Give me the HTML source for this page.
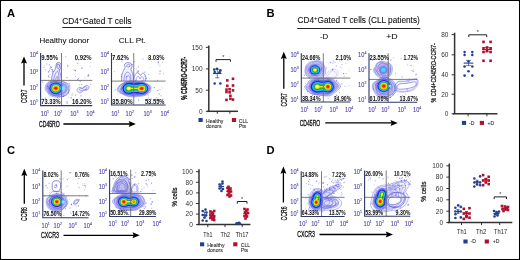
<!DOCTYPE html><html><head><meta charset="utf-8"><style>html,body{margin:0;padding:0;background:#fff;overflow:hidden;width:520px;height:260px;}svg{display:block;will-change:transform;}</style></head><body>
<svg width="520" height="260" viewBox="0 0 520 260" font-family='"Liberation Sans", sans-serif'>
<rect x="0" y="0" width="520" height="260" fill="#fff"/>
<text x="7.0" y="16.6" font-size="11.2" text-anchor="start" font-weight="bold" fill="#000">A</text>
<text x="266.6" y="17.0" font-size="11.2" text-anchor="start" font-weight="bold" fill="#000">B</text>
<text x="7.0" y="154.2" font-size="11.2" text-anchor="start" font-weight="bold" fill="#000">C</text>
<text x="266.6" y="154.2" font-size="11.2" text-anchor="start" font-weight="bold" fill="#000">D</text>
<text x="62.3" y="23.8" font-size="8.4" fill="#111" stroke="#111" stroke-width="0.1" textLength="69.2" lengthAdjust="spacingAndGlyphs">CD4<tspan dy="-3.2" font-size="6.2">+</tspan><tspan dy="3.2">Gated T cells</tspan></text>
<line x1="62.3" y1="27.5" x2="131.5" y2="27.5" stroke="#222" stroke-width="1"/>
<text x="297.5" y="23.3" font-size="8.4" fill="#111" stroke="#111" stroke-width="0.1" textLength="122.3" lengthAdjust="spacingAndGlyphs">CD4<tspan dy="-3.2" font-size="6.2">+</tspan><tspan dy="3.2">Gated T cells (CLL patients)</tspan></text>
<line x1="297.2" y1="28.5" x2="420.4" y2="28.5" stroke="#222" stroke-width="1"/>
<text x="39.4" y="43.3" font-size="7.6" text-anchor="start" font-weight="normal" fill="#111" textLength="49.8" lengthAdjust="spacingAndGlyphs" stroke="#111" stroke-width="0.08">Healthy donor</text>
<text x="118.7" y="43.3" font-size="7.6" text-anchor="start" font-weight="normal" fill="#111" textLength="27" lengthAdjust="spacingAndGlyphs" stroke="#111" stroke-width="0.08">CLL Pt.</text>
<text x="320.0" y="38.6" font-size="7.6" text-anchor="start" font-weight="normal" fill="#111" textLength="8.3" lengthAdjust="spacingAndGlyphs" stroke="#111" stroke-width="0.08">-D</text>
<text x="386.2" y="38.8" font-size="7.6" text-anchor="start" font-weight="normal" fill="#111" textLength="11.5" lengthAdjust="spacingAndGlyphs" stroke="#111" stroke-width="0.08">+D</text>
<line x1="24.0" y1="61.4" x2="24.0" y2="85.5" stroke="#000" stroke-width="1.3"/>
<path d="M24.0 56.4 L27.0 63.6 L24.0 62.4 L21.0 63.6 Z" fill="#000"/>
<text x="0" y="0" font-size="8.2" fill="#111" stroke="#111" stroke-width="0.3" text-anchor="middle" textLength="13.4" lengthAdjust="spacingAndGlyphs" transform="translate(26.95 96.3) rotate(-90)">CCR7</text>
<text x="39.0" y="126.6" font-size="8.4" fill="#111" stroke="#111" stroke-width="0.3" textLength="20.8" lengthAdjust="spacingAndGlyphs">CD45RO</text>
<line x1="63.4" y1="124.0" x2="130.9" y2="124.0" stroke="#000" stroke-width="1.3"/>
<path d="M135.9 124.0 L128.70000000000002 121.0 L129.9 124.0 L128.70000000000002 127.0 Z" fill="#000"/>
<line x1="283.8" y1="56.7" x2="283.8" y2="88.7" stroke="#000" stroke-width="1.3"/>
<path d="M283.8 51.7 L286.8 58.900000000000006 L283.8 57.7 L280.8 58.900000000000006 Z" fill="#000"/>
<text x="0" y="0" font-size="8.2" fill="#111" stroke="#111" stroke-width="0.3" text-anchor="middle" textLength="13.2" lengthAdjust="spacingAndGlyphs" transform="translate(286.75 99.9) rotate(-90)">CCR7</text>
<text x="299.7" y="125.60000000000001" font-size="8.4" fill="#111" stroke="#111" stroke-width="0.3" textLength="20.6" lengthAdjust="spacingAndGlyphs">CD45RO</text>
<line x1="325.3" y1="122.9" x2="392.7" y2="122.9" stroke="#000" stroke-width="1.3"/>
<path d="M397.7 122.9 L390.5 119.9 L391.7 122.9 L390.5 125.9 Z" fill="#000"/>
<line x1="24.3" y1="173.8" x2="24.3" y2="203.7" stroke="#000" stroke-width="1.3"/>
<path d="M24.3 168.8 L27.3 176.0 L24.3 174.8 L21.3 176.0 Z" fill="#000"/>
<text x="0" y="0" font-size="8.8" fill="#111" stroke="#111" stroke-width="0.3" text-anchor="middle" textLength="13.9" lengthAdjust="spacingAndGlyphs" transform="translate(27.47 214.05) rotate(-90)">CCR6</text>
<text x="41.0" y="238.0" font-size="8.7" fill="#111" stroke="#111" stroke-width="0.3" textLength="17.9" lengthAdjust="spacingAndGlyphs">CXCR3</text>
<line x1="63.5" y1="235.3" x2="134.7" y2="235.3" stroke="#000" stroke-width="1.3"/>
<path d="M139.7 235.3 L132.5 232.3 L133.7 235.3 L132.5 238.3 Z" fill="#000"/>
<line x1="283.4" y1="171.5" x2="283.4" y2="202.5" stroke="#000" stroke-width="1.3"/>
<path d="M283.4 166.5 L286.4 173.7 L283.4 172.5 L280.4 173.7 Z" fill="#000"/>
<text x="0" y="0" font-size="8.8" fill="#111" stroke="#111" stroke-width="0.3" text-anchor="middle" textLength="13.9" lengthAdjust="spacingAndGlyphs" transform="translate(286.57 213.45) rotate(-90)">CCR6</text>
<text x="297.2" y="237.0" font-size="8.7" fill="#111" stroke="#111" stroke-width="0.3" textLength="17.7" lengthAdjust="spacingAndGlyphs">CXCR3</text>
<line x1="319.5" y1="234.5" x2="388.0" y2="234.5" stroke="#000" stroke-width="1.3"/>
<path d="M393.0 234.5 L385.8 231.5 L387.0 234.5 L385.8 237.5 Z" fill="#000"/>
<rect x="48.6" y="96.5" width="0.8" height="0.8" fill="#5a5ae0" fill-opacity="0.43"/>
<rect x="66.3" y="77.0" width="1.2" height="1.2" fill="#5a5ae0" fill-opacity="0.49"/>
<rect x="52.3" y="78.9" width="1.0" height="1.0" fill="#5a5ae0" fill-opacity="0.52"/>
<rect x="79.4" y="55.1" width="1.0" height="1.0" fill="#5a5ae0" fill-opacity="0.43"/>
<rect x="81.3" y="84.0" width="0.8" height="0.8" fill="#5a5ae0" fill-opacity="0.75"/>
<rect x="43.5" y="56.2" width="1.2" height="1.2" fill="#5a5ae0" fill-opacity="0.30"/>
<rect x="85.2" y="88.6" width="1.0" height="1.0" fill="#5a5ae0" fill-opacity="0.66"/>
<rect x="67.9" y="92.4" width="1.0" height="1.0" fill="#5a5ae0" fill-opacity="0.58"/>
<rect x="58.9" y="88.2" width="1.0" height="1.0" fill="#5a5ae0" fill-opacity="0.78"/>
<rect x="87.4" y="75.4" width="1.2" height="1.2" fill="#5a5ae0" fill-opacity="0.76"/>
<rect x="46.9" y="85.8" width="1.2" height="1.2" fill="#5a5ae0" fill-opacity="0.73"/>
<rect x="47.9" y="71.3" width="1.2" height="1.2" fill="#5a5ae0" fill-opacity="0.79"/>
<rect x="66.5" y="102.4" width="1.2" height="1.2" fill="#5a5ae0" fill-opacity="0.72"/>
<rect x="74.8" y="69.9" width="1.2" height="1.2" fill="#5a5ae0" fill-opacity="0.79"/>
<rect x="66.5" y="101.1" width="1.0" height="1.0" fill="#5a5ae0" fill-opacity="0.59"/>
<rect x="43.7" y="66.9" width="1.0" height="1.0" fill="#5a5ae0" fill-opacity="0.51"/>
<rect x="50.5" y="81.9" width="1.2" height="1.2" fill="#5a5ae0" fill-opacity="0.69"/>
<rect x="78.2" y="59.2" width="1.2" height="1.2" fill="#5a5ae0" fill-opacity="0.55"/>
<rect x="80.1" y="80.5" width="1.0" height="1.0" fill="#5a5ae0" fill-opacity="0.49"/>
<rect x="77.9" y="78.0" width="1.0" height="1.0" fill="#5a5ae0" fill-opacity="0.65"/>
<rect x="90.2" y="84.1" width="1.0" height="1.0" fill="#5a5ae0" fill-opacity="0.62"/>
<rect x="50.3" y="66.1" width="0.8" height="0.8" fill="#5a5ae0" fill-opacity="0.69"/>
<rect x="68.4" y="97.2" width="0.8" height="0.8" fill="#5a5ae0" fill-opacity="0.50"/>
<rect x="58.8" y="96.5" width="1.0" height="1.0" fill="#5a5ae0" fill-opacity="0.53"/>
<rect x="55.2" y="81.9" width="1.2" height="1.2" fill="#5a5ae0" fill-opacity="0.30"/>
<rect x="80.4" y="95.2" width="1.2" height="1.2" fill="#5a5ae0" fill-opacity="0.56"/>
<rect x="48.3" y="93.1" width="0.8" height="0.8" fill="#5a5ae0" fill-opacity="0.51"/>
<rect x="44.8" y="97.6" width="1.2" height="1.2" fill="#5a5ae0" fill-opacity="0.58"/>
<rect x="88.1" y="75.3" width="1.0" height="1.0" fill="#5a5ae0" fill-opacity="0.51"/>
<rect x="42.1" y="81.5" width="1.2" height="1.2" fill="#5a5ae0" fill-opacity="0.47"/>
<rect x="71.4" y="94.4" width="1.2" height="1.2" fill="#5a5ae0" fill-opacity="0.39"/>
<rect x="70.6" y="97.2" width="1.2" height="1.2" fill="#5a5ae0" fill-opacity="0.70"/>
<rect x="82.0" y="67.5" width="1.2" height="1.2" fill="#5a5ae0" fill-opacity="0.34"/>
<rect x="84.5" y="77.2" width="1.0" height="1.0" fill="#5a5ae0" fill-opacity="0.42"/>
<rect x="47.4" y="85.6" width="1.0" height="1.0" fill="#5a5ae0" fill-opacity="0.45"/>
<rect x="50.2" y="67.5" width="0.8" height="0.8" fill="#5a5ae0" fill-opacity="0.63"/>
<rect x="73.8" y="69.4" width="1.2" height="1.2" fill="#5a5ae0" fill-opacity="0.46"/>
<rect x="65.2" y="56.2" width="1.0" height="1.0" fill="#5a5ae0" fill-opacity="0.47"/>
<rect x="81.0" y="67.7" width="1.0" height="1.0" fill="#5a5ae0" fill-opacity="0.75"/>
<rect x="67.0" y="65.2" width="1.2" height="1.2" fill="#5a5ae0" fill-opacity="0.52"/>
<rect x="89.8" y="66.0" width="1.0" height="1.0" fill="#5a5ae0" fill-opacity="0.37"/>
<rect x="77.2" y="62.9" width="1.2" height="1.2" fill="#5a5ae0" fill-opacity="0.55"/>
<rect x="62.9" y="95.8" width="1.2" height="1.2" fill="#5a5ae0" fill-opacity="0.70"/>
<rect x="67.3" y="65.9" width="1.2" height="1.2" fill="#5a5ae0" fill-opacity="0.32"/>
<rect x="75.1" y="94.4" width="1.2" height="1.2" fill="#5a5ae0" fill-opacity="0.62"/>
<rect x="44.9" y="69.6" width="0.8" height="0.8" fill="#5a5ae0" fill-opacity="0.74"/>
<rect x="57.0" y="97.1" width="1.0" height="1.0" fill="#5a5ae0" fill-opacity="0.76"/>
<rect x="56.6" y="62.8" width="1.2" height="1.2" fill="#5a5ae0" fill-opacity="0.43"/>
<rect x="42.4" y="98.1" width="0.8" height="0.8" fill="#5a5ae0" fill-opacity="0.60"/>
<rect x="52.7" y="99.1" width="1.0" height="1.0" fill="#5a5ae0" fill-opacity="0.39"/>
<rect x="84.5" y="102.7" width="1.2" height="1.2" fill="#5a5ae0" fill-opacity="0.61"/>
<rect x="43.8" y="64.8" width="0.8" height="0.8" fill="#5a5ae0" fill-opacity="0.40"/>
<rect x="75.0" y="76.2" width="0.8" height="0.8" fill="#5a5ae0" fill-opacity="0.55"/>
<rect x="88.0" y="74.1" width="1.2" height="1.2" fill="#5a5ae0" fill-opacity="0.55"/>
<rect x="57.9" y="97.7" width="1.0" height="1.0" fill="#5a5ae0" fill-opacity="0.31"/>
<rect x="51.8" y="71.1" width="1.2" height="1.2" fill="#5a5ae0" fill-opacity="0.69"/>
<rect x="58.6" y="65.4" width="1.2" height="1.2" fill="#5a5ae0" fill-opacity="0.35"/>
<rect x="60.6" y="81.8" width="1.2" height="1.2" fill="#5a5ae0" fill-opacity="0.57"/>
<rect x="79.6" y="81.1" width="0.8" height="0.8" fill="#5a5ae0" fill-opacity="0.66"/>
<rect x="46.1" y="63.3" width="1.2" height="1.2" fill="#5a5ae0" fill-opacity="0.41"/>
<rect x="79.2" y="84.4" width="1.0" height="1.0" fill="#5a5ae0" fill-opacity="0.48"/>
<rect x="58.7" y="69.3" width="1.2" height="1.2" fill="#5a5ae0" fill-opacity="0.69"/>
<rect x="77.0" y="79.0" width="1.2" height="1.2" fill="#5a5ae0" fill-opacity="0.58"/>
<rect x="47.1" y="56.9" width="0.8" height="0.8" fill="#5a5ae0" fill-opacity="0.49"/>
<rect x="90.6" y="62.2" width="0.8" height="0.8" fill="#5a5ae0" fill-opacity="0.47"/>
<rect x="72.1" y="93.3" width="1.0" height="1.0" fill="#5a5ae0" fill-opacity="0.34"/>
<rect x="69.0" y="82.7" width="1.0" height="1.0" fill="#5a5ae0" fill-opacity="0.48"/>
<rect x="56.5" y="81.2" width="0.8" height="0.8" fill="#5a5ae0" fill-opacity="0.53"/>
<rect x="55.6" y="93.6" width="1.0" height="1.0" fill="#5a5ae0" fill-opacity="0.31"/>
<rect x="74.9" y="59.5" width="0.8" height="0.8" fill="#5a5ae0" fill-opacity="0.71"/>
<path d="M69.90 88.50 C69.83 89.77 69.55 91.04 68.87 92.22 C68.19 93.41 67.26 94.84 65.82 95.60 C64.39 96.35 62.12 96.54 60.27 96.74 C58.41 96.94 56.49 97.05 54.71 96.80 C52.94 96.55 50.92 96.04 49.60 95.24 C48.28 94.44 47.58 93.13 46.81 92.00 C46.04 90.88 45.11 89.71 44.98 88.50 C44.84 87.29 45.28 85.89 46.00 84.74 C46.73 83.58 47.86 82.21 49.34 81.54 C50.82 80.88 53.09 80.93 54.90 80.75 C56.71 80.57 58.55 80.22 60.19 80.47 C61.84 80.73 63.26 81.60 64.78 82.29 C66.30 82.98 68.47 83.59 69.32 84.63 C70.17 85.66 69.98 87.23 69.90 88.50Z" fill="#a8a8ee" fill-opacity="0.3"/>
<path d="M69.87 88.38 C69.78 89.64 69.40 90.94 68.74 92.12 C68.08 93.31 67.35 94.72 65.93 95.50 C64.51 96.28 62.09 96.57 60.22 96.82 C58.35 97.06 56.50 97.24 54.73 96.97 C52.96 96.70 50.91 96.05 49.59 95.21 C48.28 94.36 47.59 93.01 46.85 91.89 C46.11 90.76 45.29 89.63 45.14 88.45 C44.99 87.27 45.28 85.95 45.96 84.81 C46.64 83.67 47.69 82.29 49.20 81.61 C50.72 80.92 53.18 80.87 55.04 80.69 C56.90 80.50 58.73 80.22 60.37 80.49 C62.02 80.75 63.41 81.60 64.89 82.28 C66.38 82.95 68.45 83.52 69.28 84.54 C70.11 85.55 69.96 87.12 69.87 88.38Z" fill="none" stroke="#4a4ae0" stroke-opacity="0.8" stroke-width="0.5"/>
<path d="M68.30 88.21 C68.34 89.36 68.88 90.74 68.34 91.93 C67.80 93.12 66.41 94.61 65.04 95.36 C63.67 96.12 61.83 96.41 60.13 96.48 C58.42 96.55 56.39 96.14 54.83 95.77 C53.26 95.41 51.86 94.96 50.73 94.30 C49.61 93.64 48.75 92.68 48.06 91.79 C47.37 90.90 46.73 90.15 46.59 88.95 C46.45 87.76 46.70 85.75 47.20 84.62 C47.70 83.48 48.23 82.75 49.60 82.15 C50.98 81.55 53.74 81.26 55.46 81.04 C57.17 80.81 58.47 80.57 59.88 80.79 C61.29 81.01 62.57 81.66 63.94 82.36 C65.31 83.06 67.36 84.03 68.09 85.01 C68.82 85.98 68.26 87.06 68.30 88.21Z" fill="#a8a8ee" fill-opacity="0.12" stroke="#4a4ae0" stroke-opacity="0.8" stroke-width="0.5"/>
<path d="M67.38 88.80 C67.31 89.74 66.93 90.37 66.39 91.28 C65.84 92.18 65.15 93.60 64.09 94.24 C63.03 94.88 61.48 94.87 60.04 95.12 C58.59 95.38 56.98 95.86 55.42 95.74 C53.85 95.62 51.75 95.09 50.66 94.40 C49.56 93.72 49.39 92.63 48.84 91.63 C48.29 90.64 47.54 89.52 47.34 88.42 C47.15 87.33 47.15 86.06 47.68 85.07 C48.20 84.08 49.27 83.02 50.49 82.49 C51.71 81.95 53.47 81.91 55.02 81.87 C56.57 81.82 58.32 81.89 59.78 82.20 C61.24 82.52 62.60 83.19 63.78 83.77 C64.95 84.34 66.22 84.82 66.82 85.66 C67.42 86.50 67.45 87.86 67.38 88.80Z" fill="#a8a8ee" fill-opacity="0.12" stroke="#4a4ae0" stroke-opacity="0.8" stroke-width="0.5"/>
<path d="M66.25 88.09 C66.20 89.06 66.12 90.44 65.60 91.32 C65.08 92.21 64.16 92.83 63.13 93.42 C62.10 94.01 60.72 94.68 59.43 94.86 C58.14 95.04 56.68 94.80 55.38 94.49 C54.07 94.19 52.49 93.53 51.61 93.03 C50.73 92.53 50.59 92.27 50.08 91.50 C49.58 90.73 48.76 89.40 48.59 88.42 C48.42 87.43 48.54 86.39 49.06 85.58 C49.58 84.78 50.65 83.99 51.71 83.59 C52.77 83.20 54.09 83.44 55.42 83.24 C56.75 83.03 58.41 82.23 59.70 82.38 C60.98 82.53 62.10 83.64 63.14 84.16 C64.17 84.68 65.37 84.84 65.89 85.49 C66.41 86.15 66.30 87.12 66.25 88.09Z" fill="#a8a8ee" fill-opacity="0.12" stroke="#4a4ae0" stroke-opacity="0.8" stroke-width="0.5"/>
<path d="M65.70 88.11 C65.61 88.92 65.25 90.55 64.73 91.37 C64.21 92.20 63.44 92.60 62.60 93.07 C61.76 93.54 60.79 94.04 59.69 94.18 C58.59 94.31 57.15 94.13 56.02 93.87 C54.88 93.61 53.71 93.13 52.89 92.60 C52.06 92.06 51.59 91.34 51.05 90.68 C50.51 90.02 49.84 89.37 49.66 88.64 C49.47 87.91 49.48 86.97 49.94 86.30 C50.39 85.62 51.38 85.03 52.40 84.56 C53.41 84.10 54.89 83.64 56.02 83.51 C57.14 83.38 58.12 83.58 59.12 83.78 C60.12 83.98 60.99 84.26 62.02 84.72 C63.05 85.17 64.66 85.95 65.27 86.51 C65.89 87.08 65.79 87.30 65.70 88.11Z" fill="#a8a8ee" fill-opacity="0.12" stroke="#4a4ae0" stroke-opacity="0.8" stroke-width="0.5"/>
<path d="M51.50 80.50 C51.58 79.75 51.75 77.33 52.00 76.00 C52.25 74.67 52.50 73.58 53.00 72.50 C53.50 71.42 54.50 70.58 55.00 69.50 C55.50 68.42 55.75 67.00 56.00 66.00 C56.25 65.00 56.13 64.10 56.50 63.50 C56.87 62.90 57.58 62.48 58.20 62.40 C58.82 62.32 59.70 62.53 60.20 63.00 C60.70 63.47 61.13 64.37 61.20 65.20 C61.27 66.03 60.87 67.03 60.60 68.00 C60.33 68.97 59.60 70.00 59.60 71.00 C59.60 72.00 60.33 72.92 60.60 74.00 C60.87 75.08 61.05 76.42 61.20 77.50 C61.35 78.58 61.45 80.00 61.50 80.50Z" fill="#a8a8ee" fill-opacity="0.22"/>
<path d="M51.50 80.50 C51.58 79.75 51.75 77.33 52.00 76.00 C52.25 74.67 52.50 73.58 53.00 72.50 C53.50 71.42 54.50 70.58 55.00 69.50 C55.50 68.42 55.75 67.00 56.00 66.00 C56.25 65.00 56.13 64.10 56.50 63.50 C56.87 62.90 57.58 62.48 58.20 62.40 C58.82 62.32 59.70 62.53 60.20 63.00 C60.70 63.47 61.13 64.37 61.20 65.20 C61.27 66.03 60.87 67.03 60.60 68.00 C60.33 68.97 59.60 70.00 59.60 71.00 C59.60 72.00 60.33 72.92 60.60 74.00 C60.87 75.08 61.05 76.42 61.20 77.50 C61.35 78.58 61.45 80.00 61.50 80.50" fill="none" stroke="#3a3ad0" stroke-opacity="0.9" stroke-width="0.6"/>
<path d="M53.80 80.50 C53.88 79.83 53.97 77.72 54.30 76.50 C54.63 75.28 55.27 74.08 55.80 73.20 C56.33 72.32 57.03 71.20 57.50 71.20 C57.97 71.20 58.37 72.23 58.60 73.20 C58.83 74.17 58.80 75.78 58.90 77.00 C59.00 78.22 59.15 79.92 59.20 80.50" fill="none" stroke="#3a3ad0" stroke-opacity="0.9" stroke-width="0.55"/>
<path d="M57.20 64.60 C57.50 64.53 58.60 63.88 59.00 64.20 C59.40 64.52 59.68 65.77 59.60 66.50 C59.52 67.23 58.93 68.43 58.50 68.60 C58.07 68.77 57.22 68.17 57.00 67.50 C56.78 66.83 57.17 65.08 57.20 64.60" fill="none" stroke="#3a3ad0" stroke-opacity="0.9" stroke-width="0.6"/>
<path d="M55.50 80.50 C55.63 80.00 56.00 78.20 56.30 77.50 C56.60 76.80 57.05 76.13 57.30 76.30 C57.55 76.47 57.72 77.80 57.80 78.50 C57.88 79.20 57.80 80.17 57.80 80.50" fill="none" stroke="#3a3ad0" stroke-opacity="0.9" stroke-width="0.5"/>
<rect x="50.6" y="66.9" width="1.2" height="1.2" fill="#5a5ae0" fill-opacity="0.76"/>
<rect x="49.7" y="74.0" width="0.8" height="0.8" fill="#5a5ae0" fill-opacity="0.60"/>
<rect x="53.3" y="71.3" width="0.8" height="0.8" fill="#5a5ae0" fill-opacity="0.46"/>
<rect x="49.5" y="67.8" width="0.8" height="0.8" fill="#5a5ae0" fill-opacity="0.34"/>
<rect x="52.2" y="69.5" width="1.0" height="1.0" fill="#5a5ae0" fill-opacity="0.69"/>
<rect x="47.9" y="75.9" width="1.0" height="1.0" fill="#5a5ae0" fill-opacity="0.40"/>
<rect x="49.4" y="68.6" width="0.8" height="0.8" fill="#5a5ae0" fill-opacity="0.63"/>
<rect x="51.0" y="68.9" width="1.0" height="1.0" fill="#5a5ae0" fill-opacity="0.50"/>
<rect x="49.0" y="70.3" width="1.0" height="1.0" fill="#5a5ae0" fill-opacity="0.67"/>
<rect x="49.3" y="77.1" width="0.8" height="0.8" fill="#5a5ae0" fill-opacity="0.57"/>
<rect x="48.8" y="64.3" width="1.2" height="1.2" fill="#5a5ae0" fill-opacity="0.48"/>
<rect x="48.1" y="76.3" width="0.8" height="0.8" fill="#5a5ae0" fill-opacity="0.52"/>
<rect x="48.2" y="75.5" width="1.0" height="1.0" fill="#5a5ae0" fill-opacity="0.64"/>
<rect x="51.8" y="69.4" width="1.2" height="1.2" fill="#5a5ae0" fill-opacity="0.58"/>
<path d="M77.00 90.50 C76.75 89.62 78.08 87.92 79.00 87.50 C79.92 87.08 81.33 88.33 82.50 88.00 C83.67 87.67 84.95 85.75 86.00 85.50 C87.05 85.25 88.55 85.75 88.80 86.50 C89.05 87.25 88.30 89.33 87.50 90.00 C86.70 90.67 85.17 90.03 84.00 90.50 C82.83 90.97 81.67 92.80 80.50 92.80 C79.33 92.80 77.25 91.38 77.00 90.50Z" fill="#a8a8ee" fill-opacity="0.15"/>
<path d="M76.88 90.57 C76.62 89.68 77.92 87.97 78.87 87.56 C79.82 87.14 81.35 88.46 82.56 88.10 C83.78 87.74 85.08 85.67 86.15 85.39 C87.21 85.12 88.73 85.70 88.94 86.44 C89.16 87.18 88.28 89.20 87.46 89.84 C86.64 90.49 85.19 89.80 84.01 90.30 C82.84 90.80 81.61 92.82 80.42 92.87 C79.23 92.91 77.14 91.45 76.88 90.57Z" fill="none" stroke="#4a4ae0" stroke-opacity="0.8" stroke-width="0.6"/>
<path d="M79.40 89.61 C79.37 89.09 80.24 88.11 80.74 87.94 C81.25 87.76 81.69 88.78 82.44 88.57 C83.19 88.36 84.51 86.85 85.25 86.66 C85.98 86.48 86.71 86.93 86.86 87.46 C87.00 88.00 86.59 89.52 86.11 89.88 C85.63 90.25 84.84 89.45 83.98 89.64 C83.12 89.84 81.71 91.05 80.95 91.04 C80.19 91.04 79.44 90.13 79.40 89.61Z" fill="none" stroke="#4a4ae0" stroke-opacity="0.8" stroke-width="0.6"/>
<ellipse cx="55.8" cy="88.3" rx="8.19" ry="7.54" fill="#3c3cd8" fill-opacity="0.3" transform="rotate(0 55.8 88.3)"/>
<ellipse cx="55.8" cy="88.3" rx="6.30" ry="5.80" fill="#2222ee" transform="rotate(0 55.8 88.3)"/>
<ellipse cx="55.8" cy="88.3" rx="5.29" ry="4.87" fill="#12c8ff" transform="rotate(0 55.8 88.3)"/>
<ellipse cx="55.8" cy="88.3" rx="4.41" ry="4.06" fill="#2aa83a" transform="rotate(0 55.8 88.3)"/>
<ellipse cx="55.8" cy="88.3" rx="3.53" ry="3.25" fill="#eaea10" transform="rotate(0 55.8 88.3)"/>
<ellipse cx="55.8" cy="88.3" rx="2.52" ry="2.32" fill="#ff8a00" transform="rotate(0 55.8 88.3)"/>
<ellipse cx="55.8" cy="88.3" rx="1.51" ry="1.39" fill="#ff1010" transform="rotate(0 55.8 88.3)"/>
<ellipse cx="63.2" cy="88.3" rx="2.3" ry="1.9" fill="#70e8ff"/>
<line x1="40.6" y1="80.4" x2="92.3" y2="80.4" stroke="#6e6e6e" stroke-width="0.9"/>
<line x1="61.5" y1="53.0" x2="61.5" y2="105.6" stroke="#6e6e6e" stroke-width="0.9"/>
<path d="M40.6 53.0 L40.6 105.6 L92.3 105.6" fill="none" stroke="#2d3a66" stroke-width="1.1"/>
<text x="38.0" y="56.800000000000004" font-size="6.6" fill="#4a3fa8" stroke="#4a3fa8" stroke-width="0.1" text-anchor="end" textLength="8.3" lengthAdjust="spacingAndGlyphs">10<tspan dy="-2.9" font-size="4.22">4</tspan></text>
<text x="38.0" y="74.4" font-size="6.6" fill="#4a3fa8" stroke="#4a3fa8" stroke-width="0.1" text-anchor="end" textLength="8.3" lengthAdjust="spacingAndGlyphs">10<tspan dy="-2.9" font-size="4.22">3</tspan></text>
<text x="38.0" y="90.2" font-size="6.6" fill="#4a3fa8" stroke="#4a3fa8" stroke-width="0.1" text-anchor="end" textLength="8.3" lengthAdjust="spacingAndGlyphs">10<tspan dy="-2.9" font-size="4.22">2</tspan></text>
<text x="38.0" y="104.60000000000001" font-size="6.6" fill="#4a3fa8" stroke="#4a3fa8" stroke-width="0.1" text-anchor="end" textLength="8.3" lengthAdjust="spacingAndGlyphs">10<tspan dy="-2.9" font-size="4.22">1</tspan></text>
<text x="40.8" y="115.89999999999999" font-size="6.6" fill="#4a3fa8" stroke="#4a3fa8" stroke-width="0.1" text-anchor="start" textLength="8.3" lengthAdjust="spacingAndGlyphs">10<tspan dy="-2.9" font-size="4.22">1</tspan></text>
<text x="54.0" y="115.89999999999999" font-size="6.6" fill="#4a3fa8" stroke="#4a3fa8" stroke-width="0.1" text-anchor="start" textLength="8.3" lengthAdjust="spacingAndGlyphs">10<tspan dy="-2.9" font-size="4.22">2</tspan></text>
<text x="70.2" y="115.89999999999999" font-size="6.6" fill="#4a3fa8" stroke="#4a3fa8" stroke-width="0.1" text-anchor="start" textLength="8.3" lengthAdjust="spacingAndGlyphs">10<tspan dy="-2.9" font-size="4.22">3</tspan></text>
<text x="86.3" y="115.89999999999999" font-size="6.6" fill="#4a3fa8" stroke="#4a3fa8" stroke-width="0.1" text-anchor="start" textLength="8.3" lengthAdjust="spacingAndGlyphs">10<tspan dy="-2.9" font-size="4.22">4</tspan></text>
<text x="41.2" y="60.0" font-size="7.0" text-anchor="start" font-weight="bold" fill="#111" textLength="16.8" lengthAdjust="spacingAndGlyphs">9.55%</text>
<text x="91.5" y="60.0" font-size="7.0" text-anchor="end" font-weight="bold" fill="#111" textLength="16.8" lengthAdjust="spacingAndGlyphs">0.92%</text>
<text x="41.2" y="104.1" font-size="7.0" text-anchor="start" font-weight="bold" fill="#111" textLength="19.5" lengthAdjust="spacingAndGlyphs">73.33%</text>
<text x="91.5" y="104.1" font-size="7.0" text-anchor="end" font-weight="bold" fill="#111" textLength="19.5" lengthAdjust="spacingAndGlyphs">16.20%</text>
<rect x="161.8" y="100.5" width="0.8" height="0.8" fill="#5a5ae0" fill-opacity="0.35"/>
<rect x="131.4" y="63.9" width="1.2" height="1.2" fill="#5a5ae0" fill-opacity="0.73"/>
<rect x="125.8" y="66.0" width="0.8" height="0.8" fill="#5a5ae0" fill-opacity="0.59"/>
<rect x="121.1" y="76.2" width="1.0" height="1.0" fill="#5a5ae0" fill-opacity="0.70"/>
<rect x="156.9" y="79.9" width="1.0" height="1.0" fill="#5a5ae0" fill-opacity="0.57"/>
<rect x="135.7" y="68.6" width="0.8" height="0.8" fill="#5a5ae0" fill-opacity="0.74"/>
<rect x="131.6" y="99.8" width="1.0" height="1.0" fill="#5a5ae0" fill-opacity="0.51"/>
<rect x="158.1" y="63.7" width="0.8" height="0.8" fill="#5a5ae0" fill-opacity="0.42"/>
<rect x="114.2" y="71.3" width="0.8" height="0.8" fill="#5a5ae0" fill-opacity="0.56"/>
<rect x="131.3" y="80.1" width="1.2" height="1.2" fill="#5a5ae0" fill-opacity="0.39"/>
<rect x="158.6" y="93.4" width="1.2" height="1.2" fill="#5a5ae0" fill-opacity="0.56"/>
<rect x="159.3" y="73.1" width="1.2" height="1.2" fill="#5a5ae0" fill-opacity="0.48"/>
<rect x="163.0" y="101.2" width="0.8" height="0.8" fill="#5a5ae0" fill-opacity="0.78"/>
<rect x="133.4" y="90.7" width="1.2" height="1.2" fill="#5a5ae0" fill-opacity="0.57"/>
<rect x="138.0" y="99.5" width="1.2" height="1.2" fill="#5a5ae0" fill-opacity="0.56"/>
<rect x="153.6" y="87.1" width="1.0" height="1.0" fill="#5a5ae0" fill-opacity="0.75"/>
<rect x="136.5" y="82.7" width="1.2" height="1.2" fill="#5a5ae0" fill-opacity="0.66"/>
<rect x="137.8" y="66.4" width="1.0" height="1.0" fill="#5a5ae0" fill-opacity="0.71"/>
<rect x="155.6" y="97.2" width="1.2" height="1.2" fill="#5a5ae0" fill-opacity="0.43"/>
<rect x="159.5" y="70.5" width="1.2" height="1.2" fill="#5a5ae0" fill-opacity="0.72"/>
<rect x="141.7" y="79.8" width="1.2" height="1.2" fill="#5a5ae0" fill-opacity="0.59"/>
<rect x="128.9" y="65.8" width="1.2" height="1.2" fill="#5a5ae0" fill-opacity="0.48"/>
<rect x="147.9" y="97.5" width="1.0" height="1.0" fill="#5a5ae0" fill-opacity="0.66"/>
<rect x="159.3" y="65.0" width="1.2" height="1.2" fill="#5a5ae0" fill-opacity="0.35"/>
<rect x="142.3" y="58.3" width="1.2" height="1.2" fill="#5a5ae0" fill-opacity="0.41"/>
<rect x="157.7" y="61.0" width="1.2" height="1.2" fill="#5a5ae0" fill-opacity="0.37"/>
<rect x="126.6" y="94.8" width="0.8" height="0.8" fill="#5a5ae0" fill-opacity="0.51"/>
<rect x="149.6" y="57.5" width="1.0" height="1.0" fill="#5a5ae0" fill-opacity="0.48"/>
<rect x="125.7" y="57.1" width="0.8" height="0.8" fill="#5a5ae0" fill-opacity="0.78"/>
<rect x="114.3" y="90.3" width="0.8" height="0.8" fill="#5a5ae0" fill-opacity="0.49"/>
<rect x="119.5" y="100.0" width="1.2" height="1.2" fill="#5a5ae0" fill-opacity="0.39"/>
<rect x="148.3" y="74.1" width="0.8" height="0.8" fill="#5a5ae0" fill-opacity="0.70"/>
<rect x="125.6" y="101.6" width="0.8" height="0.8" fill="#5a5ae0" fill-opacity="0.47"/>
<rect x="144.4" y="90.9" width="0.8" height="0.8" fill="#5a5ae0" fill-opacity="0.44"/>
<rect x="137.9" y="70.5" width="1.2" height="1.2" fill="#5a5ae0" fill-opacity="0.68"/>
<rect x="150.7" y="98.4" width="1.0" height="1.0" fill="#5a5ae0" fill-opacity="0.73"/>
<rect x="149.0" y="78.2" width="0.8" height="0.8" fill="#5a5ae0" fill-opacity="0.35"/>
<rect x="148.1" y="95.4" width="0.8" height="0.8" fill="#5a5ae0" fill-opacity="0.52"/>
<rect x="157.6" y="62.0" width="1.2" height="1.2" fill="#5a5ae0" fill-opacity="0.69"/>
<rect x="137.8" y="71.4" width="1.0" height="1.0" fill="#5a5ae0" fill-opacity="0.43"/>
<rect x="143.9" y="75.7" width="0.8" height="0.8" fill="#5a5ae0" fill-opacity="0.65"/>
<rect x="161.9" y="87.5" width="1.0" height="1.0" fill="#5a5ae0" fill-opacity="0.32"/>
<rect x="121.2" y="60.5" width="1.2" height="1.2" fill="#5a5ae0" fill-opacity="0.42"/>
<rect x="159.7" y="89.3" width="0.8" height="0.8" fill="#5a5ae0" fill-opacity="0.80"/>
<rect x="124.9" y="76.9" width="1.0" height="1.0" fill="#5a5ae0" fill-opacity="0.34"/>
<rect x="124.6" y="93.2" width="1.2" height="1.2" fill="#5a5ae0" fill-opacity="0.65"/>
<rect x="126.1" y="75.9" width="1.2" height="1.2" fill="#5a5ae0" fill-opacity="0.68"/>
<rect x="120.7" y="74.1" width="0.8" height="0.8" fill="#5a5ae0" fill-opacity="0.36"/>
<rect x="149.9" y="67.3" width="0.8" height="0.8" fill="#5a5ae0" fill-opacity="0.31"/>
<rect x="151.3" y="60.9" width="0.8" height="0.8" fill="#5a5ae0" fill-opacity="0.56"/>
<rect x="136.7" y="70.6" width="1.2" height="1.2" fill="#5a5ae0" fill-opacity="0.49"/>
<rect x="147.9" y="91.7" width="0.8" height="0.8" fill="#5a5ae0" fill-opacity="0.66"/>
<rect x="135.1" y="80.0" width="1.2" height="1.2" fill="#5a5ae0" fill-opacity="0.60"/>
<rect x="158.0" y="99.7" width="1.2" height="1.2" fill="#5a5ae0" fill-opacity="0.39"/>
<rect x="117.8" y="93.7" width="1.0" height="1.0" fill="#5a5ae0" fill-opacity="0.31"/>
<rect x="162.0" y="61.6" width="1.0" height="1.0" fill="#5a5ae0" fill-opacity="0.44"/>
<rect x="163.2" y="73.5" width="0.8" height="0.8" fill="#5a5ae0" fill-opacity="0.74"/>
<rect x="134.0" y="60.9" width="0.8" height="0.8" fill="#5a5ae0" fill-opacity="0.72"/>
<rect x="147.3" y="56.7" width="1.0" height="1.0" fill="#5a5ae0" fill-opacity="0.33"/>
<rect x="145.5" y="77.8" width="1.2" height="1.2" fill="#5a5ae0" fill-opacity="0.61"/>
<rect x="113.3" y="57.1" width="1.0" height="1.0" fill="#5a5ae0" fill-opacity="0.77"/>
<rect x="116.9" y="91.5" width="0.8" height="0.8" fill="#5a5ae0" fill-opacity="0.36"/>
<rect x="132.0" y="89.6" width="0.8" height="0.8" fill="#5a5ae0" fill-opacity="0.68"/>
<rect x="133.1" y="61.7" width="0.8" height="0.8" fill="#5a5ae0" fill-opacity="0.36"/>
<rect x="144.4" y="71.7" width="1.0" height="1.0" fill="#5a5ae0" fill-opacity="0.78"/>
<rect x="148.3" y="57.2" width="1.2" height="1.2" fill="#5a5ae0" fill-opacity="0.54"/>
<rect x="115.2" y="89.2" width="1.0" height="1.0" fill="#5a5ae0" fill-opacity="0.48"/>
<rect x="136.3" y="93.5" width="1.0" height="1.0" fill="#5a5ae0" fill-opacity="0.54"/>
<rect x="157.2" y="89.8" width="1.2" height="1.2" fill="#5a5ae0" fill-opacity="0.70"/>
<rect x="160.5" y="95.3" width="1.0" height="1.0" fill="#5a5ae0" fill-opacity="0.50"/>
<path d="M150.95 89.00 C150.87 90.08 150.79 91.21 150.03 92.20 C149.27 93.18 147.98 94.24 146.40 94.91 C144.82 95.59 142.53 95.95 140.54 96.25 C138.56 96.55 136.54 96.68 134.50 96.72 C132.46 96.75 130.17 96.81 128.28 96.46 C126.39 96.12 124.75 95.34 123.15 94.64 C121.55 93.94 119.61 93.20 118.69 92.25 C117.77 91.31 117.56 90.07 117.62 89.00 C117.69 87.93 118.22 86.80 119.07 85.82 C119.93 84.85 121.25 83.92 122.75 83.16 C124.25 82.40 126.11 81.61 128.06 81.28 C130.02 80.94 132.38 81.12 134.50 81.15 C136.62 81.18 138.90 81.10 140.77 81.48 C142.63 81.86 144.07 82.73 145.69 83.44 C147.31 84.14 149.61 84.78 150.49 85.71 C151.36 86.64 151.03 87.92 150.95 89.00Z" fill="#a8a8ee" fill-opacity="0.3"/>
<path d="M150.87 89.03 C150.83 90.08 150.97 91.18 150.22 92.16 C149.46 93.15 147.93 94.25 146.35 94.94 C144.77 95.62 142.71 95.97 140.72 96.29 C138.73 96.60 136.46 96.77 134.42 96.82 C132.38 96.87 130.36 96.96 128.48 96.58 C126.59 96.19 124.74 95.26 123.11 94.51 C121.47 93.76 119.61 93.03 118.67 92.11 C117.73 91.18 117.39 90.01 117.47 88.98 C117.56 87.94 118.34 86.84 119.21 85.90 C120.08 84.97 121.26 84.13 122.72 83.34 C124.17 82.56 125.99 81.54 127.94 81.18 C129.88 80.82 132.24 81.14 134.41 81.18 C136.57 81.22 139.02 81.03 140.92 81.43 C142.83 81.84 144.23 82.87 145.83 83.61 C147.42 84.35 149.64 84.96 150.48 85.87 C151.32 86.77 150.92 87.98 150.87 89.03Z" fill="none" stroke="#4a4ae0" stroke-opacity="0.8" stroke-width="0.5"/>
<path d="M150.02 88.97 C149.93 89.92 149.26 90.61 148.46 91.51 C147.65 92.42 146.67 93.73 145.19 94.40 C143.70 95.06 141.36 95.24 139.57 95.50 C137.79 95.75 136.25 95.86 134.49 95.93 C132.73 96.01 130.74 96.20 129.01 95.93 C127.28 95.66 125.58 94.99 124.09 94.32 C122.59 93.65 120.94 92.78 120.03 91.91 C119.13 91.03 118.67 90.13 118.64 89.09 C118.61 88.04 119.03 86.57 119.85 85.61 C120.67 84.66 122.03 84.03 123.53 83.36 C125.03 82.68 127.01 81.78 128.83 81.55 C130.65 81.32 132.54 81.83 134.44 81.97 C136.33 82.11 138.52 82.12 140.18 82.38 C141.85 82.65 142.95 82.98 144.41 83.55 C145.88 84.13 148.05 84.93 148.98 85.83 C149.92 86.74 150.11 88.03 150.02 88.97Z" fill="#a8a8ee" fill-opacity="0.12" stroke="#4a4ae0" stroke-opacity="0.8" stroke-width="0.5"/>
<path d="M148.37 88.69 C148.40 89.66 148.22 90.95 147.60 91.88 C146.98 92.81 146.05 93.71 144.64 94.28 C143.24 94.84 140.81 95.01 139.15 95.26 C137.50 95.52 136.43 95.87 134.72 95.80 C133.01 95.73 130.50 95.17 128.92 94.85 C127.34 94.53 126.56 94.34 125.22 93.88 C123.88 93.42 121.66 92.89 120.88 92.10 C120.10 91.30 120.38 90.05 120.53 89.11 C120.69 88.17 121.14 87.35 121.79 86.44 C122.45 85.53 123.28 84.28 124.47 83.64 C125.66 83.01 127.31 82.89 128.93 82.63 C130.55 82.37 132.44 82.07 134.18 82.08 C135.92 82.09 137.67 82.26 139.37 82.67 C141.07 83.09 143.02 83.98 144.36 84.55 C145.71 85.12 146.77 85.42 147.44 86.11 C148.10 86.80 148.34 87.73 148.37 88.69Z" fill="#a8a8ee" fill-opacity="0.12" stroke="#4a4ae0" stroke-opacity="0.8" stroke-width="0.5"/>
<path d="M147.18 88.59 C147.11 89.44 147.21 90.29 146.59 91.16 C145.98 92.02 144.67 93.29 143.48 93.78 C142.29 94.27 140.90 93.84 139.46 94.08 C138.01 94.33 136.37 95.09 134.81 95.23 C133.25 95.38 131.62 95.29 130.10 94.94 C128.59 94.58 127.09 93.69 125.74 93.09 C124.39 92.50 122.73 92.10 122.02 91.36 C121.31 90.62 121.27 89.38 121.47 88.65 C121.66 87.92 122.48 87.68 123.21 86.96 C123.94 86.24 124.87 85.00 125.87 84.35 C126.88 83.70 127.86 83.30 129.22 83.05 C130.59 82.81 132.37 82.87 134.06 82.88 C135.75 82.89 137.90 82.81 139.36 83.09 C140.82 83.38 141.57 84.10 142.83 84.59 C144.10 85.08 146.25 85.36 146.97 86.03 C147.70 86.69 147.24 87.73 147.18 88.59Z" fill="#a8a8ee" fill-opacity="0.12" stroke="#4a4ae0" stroke-opacity="0.8" stroke-width="0.5"/>
<path d="M145.99 89.10 C145.95 89.79 145.75 90.64 145.10 91.36 C144.45 92.07 143.22 92.96 142.10 93.37 C140.98 93.78 139.65 93.61 138.39 93.82 C137.12 94.03 135.90 94.59 134.50 94.64 C133.10 94.68 131.20 94.44 129.99 94.09 C128.78 93.74 128.28 93.07 127.26 92.54 C126.25 92.00 124.58 91.47 123.89 90.87 C123.19 90.26 123.05 89.68 123.08 88.92 C123.11 88.17 123.54 86.94 124.06 86.36 C124.58 85.77 125.25 85.89 126.20 85.42 C127.16 84.95 128.33 83.87 129.79 83.54 C131.26 83.20 133.47 83.36 134.98 83.41 C136.49 83.45 137.73 83.48 138.83 83.81 C139.94 84.13 140.52 84.79 141.61 85.35 C142.69 85.91 144.63 86.56 145.36 87.19 C146.09 87.81 146.03 88.40 145.99 89.10Z" fill="#a8a8ee" fill-opacity="0.12" stroke="#4a4ae0" stroke-opacity="0.8" stroke-width="0.5"/>
<path d="M121.50 81.00 C121.55 80.00 121.47 76.75 121.80 75.00 C122.13 73.25 122.97 71.75 123.50 70.50 C124.03 69.25 124.83 68.50 125.00 67.50 C125.17 66.50 124.08 65.32 124.50 64.50 C124.92 63.68 126.42 62.77 127.50 62.60 C128.58 62.43 130.25 62.85 131.00 63.50 C131.75 64.15 132.00 65.50 132.00 66.50 C132.00 67.50 130.92 68.42 131.00 69.50 C131.08 70.58 132.13 71.75 132.50 73.00 C132.87 74.25 133.08 75.67 133.20 77.00 C133.32 78.33 133.20 80.33 133.20 81.00" fill="none" stroke="#3a3ad0" stroke-opacity="0.9" stroke-width="0.6"/>
<path d="M123.80 81.00 C123.92 80.17 124.05 77.42 124.50 76.00 C124.95 74.58 125.83 73.08 126.50 72.50 C127.17 71.92 127.83 72.08 128.50 72.50 C129.17 72.92 130.08 73.58 130.50 75.00 C130.92 76.42 130.92 80.00 131.00 81.00" fill="none" stroke="#3a3ad0" stroke-opacity="0.9" stroke-width="0.55"/>
<path d="M126.00 81.00 C126.13 80.33 126.38 77.92 126.80 77.00 C127.22 76.08 128.00 75.33 128.50 75.50 C129.00 75.67 129.55 77.08 129.80 78.00 C130.05 78.92 129.97 80.50 130.00 81.00" fill="none" stroke="#3a3ad0" stroke-opacity="0.9" stroke-width="0.5"/>
<path d="M126.50 65.50 C126.80 65.30 127.68 64.30 128.30 64.30 C128.92 64.30 130.17 65.05 130.20 65.50 C130.23 65.95 129.12 67.00 128.50 67.00 C127.88 67.00 126.83 65.75 126.50 65.50" fill="none" stroke="#3a3ad0" stroke-opacity="0.9" stroke-width="0.55"/>
<path d="M121.5 81 L121.8 75 L123.5 70.5 L125 67.5 L124.5 64.5 L127.5 62.6 L131 63.5 L132 66.5 L131 69.5 L132.5 73 L133.2 77 L133.2 81Z" fill="#a8a8ee" fill-opacity="0.2"/>
<path d="M133.60 81.00 C133.72 80.25 133.82 77.83 134.30 76.50 C134.78 75.17 135.72 73.50 136.50 73.00 C137.28 72.50 138.33 73.08 139.00 73.50 C139.67 73.92 139.95 75.55 140.50 75.50 C141.05 75.45 141.63 73.45 142.30 73.20 C142.97 72.95 143.92 73.37 144.50 74.00 C145.08 74.63 145.62 75.83 145.80 77.00 C145.98 78.17 145.63 80.33 145.60 81.00" fill="none" stroke="#3a3ad0" stroke-opacity="0.9" stroke-width="0.6"/>
<path d="M136.00 81.00 C136.08 80.50 136.08 78.80 136.50 78.00 C136.92 77.20 137.92 76.03 138.50 76.20 C139.08 76.37 139.55 78.87 140.00 79.00 C140.45 79.13 140.65 77.25 141.20 77.00 C141.75 76.75 142.83 76.83 143.30 77.50 C143.77 78.17 143.88 80.42 144.00 81.00" fill="none" stroke="#3a3ad0" stroke-opacity="0.9" stroke-width="0.5"/>
<line x1="128.8" y1="88.4" x2="141.6" y2="88.4" stroke="#3c3cd8" stroke-opacity="0.3" stroke-width="12.40" stroke-linecap="round"/>
<ellipse cx="128.8" cy="88.4" rx="8.19" ry="6.89" fill="#3c3cd8" fill-opacity="0.3" transform="rotate(0 128.8 88.4)"/>
<ellipse cx="141.6" cy="88.4" rx="8.58" ry="6.89" fill="#3c3cd8" fill-opacity="0.3" transform="rotate(0 141.6 88.4)"/>
<line x1="128.8" y1="88.4" x2="141.6" y2="88.4" stroke="#2222ee" stroke-width="10.07" stroke-linecap="round"/>
<ellipse cx="128.8" cy="88.4" rx="6.30" ry="5.30" fill="#2222ee" transform="rotate(0 128.8 88.4)"/>
<ellipse cx="141.6" cy="88.4" rx="6.60" ry="5.30" fill="#2222ee" transform="rotate(0 141.6 88.4)"/>
<line x1="128.8" y1="88.4" x2="141.6" y2="88.4" stroke="#12c8ff" stroke-width="7.21" stroke-linecap="round"/>
<ellipse cx="128.8" cy="88.4" rx="5.04" ry="4.24" fill="#12c8ff" transform="rotate(0 128.8 88.4)"/>
<ellipse cx="141.6" cy="88.4" rx="5.54" ry="4.45" fill="#12c8ff" transform="rotate(0 141.6 88.4)"/>
<line x1="128.8" y1="88.4" x2="141.6" y2="88.4" stroke="#2aa83a" stroke-width="3.82" stroke-linecap="round"/>
<ellipse cx="128.8" cy="88.4" rx="3.78" ry="3.18" fill="#2aa83a" transform="rotate(0 128.8 88.4)"/>
<ellipse cx="141.6" cy="88.4" rx="4.62" ry="3.71" fill="#2aa83a" transform="rotate(0 141.6 88.4)"/>
<line x1="128.8" y1="88.4" x2="141.6" y2="88.4" stroke="#eaea10" stroke-width="1.41" stroke-linecap="round"/>
<ellipse cx="128.8" cy="88.4" rx="2.39" ry="2.01" fill="#eaea10" transform="rotate(0 128.8 88.4)"/>
<ellipse cx="141.6" cy="88.4" rx="3.70" ry="2.97" fill="#eaea10" transform="rotate(0 141.6 88.4)"/>
<ellipse cx="141.6" cy="88.4" rx="2.64" ry="2.12" fill="#ff8a00" transform="rotate(0 141.6 88.4)"/>
<ellipse cx="141.6" cy="88.4" rx="1.58" ry="1.27" fill="#ff1010" transform="rotate(0 141.6 88.4)"/>
<ellipse cx="128.8" cy="88.4" rx="1.3" ry="1.10" fill="#ffffb0"/>
<line x1="111.5" y1="81.1" x2="165.6" y2="81.1" stroke="#6e6e6e" stroke-width="0.9"/>
<line x1="133.75" y1="53.0" x2="133.75" y2="105.0" stroke="#6e6e6e" stroke-width="0.9"/>
<path d="M111.5 53.0 L111.5 105.0 L165.6 105.0" fill="none" stroke="#2d3a66" stroke-width="1.1"/>
<text x="108.9" y="56.800000000000004" font-size="6.6" fill="#4a3fa8" stroke="#4a3fa8" stroke-width="0.1" text-anchor="end" textLength="8.3" lengthAdjust="spacingAndGlyphs">10<tspan dy="-2.9" font-size="4.22">4</tspan></text>
<text x="108.9" y="74.0" font-size="6.6" fill="#4a3fa8" stroke="#4a3fa8" stroke-width="0.1" text-anchor="end" textLength="8.3" lengthAdjust="spacingAndGlyphs">10<tspan dy="-2.9" font-size="4.22">3</tspan></text>
<text x="108.9" y="90.2" font-size="6.6" fill="#4a3fa8" stroke="#4a3fa8" stroke-width="0.1" text-anchor="end" textLength="8.3" lengthAdjust="spacingAndGlyphs">10<tspan dy="-2.9" font-size="4.22">2</tspan></text>
<text x="108.9" y="103.8" font-size="6.6" fill="#4a3fa8" stroke="#4a3fa8" stroke-width="0.1" text-anchor="end" textLength="8.3" lengthAdjust="spacingAndGlyphs">10<tspan dy="-2.9" font-size="4.22">1</tspan></text>
<text x="111.2" y="115.5" font-size="6.6" fill="#4a3fa8" stroke="#4a3fa8" stroke-width="0.1" text-anchor="start" textLength="8.3" lengthAdjust="spacingAndGlyphs">10<tspan dy="-2.9" font-size="4.22">1</tspan></text>
<text x="125.6" y="115.5" font-size="6.6" fill="#4a3fa8" stroke="#4a3fa8" stroke-width="0.1" text-anchor="start" textLength="8.3" lengthAdjust="spacingAndGlyphs">10<tspan dy="-2.9" font-size="4.22">2</tspan></text>
<text x="143.4" y="115.5" font-size="6.6" fill="#4a3fa8" stroke="#4a3fa8" stroke-width="0.1" text-anchor="start" textLength="8.3" lengthAdjust="spacingAndGlyphs">10<tspan dy="-2.9" font-size="4.22">3</tspan></text>
<text x="160.6" y="115.5" font-size="6.6" fill="#4a3fa8" stroke="#4a3fa8" stroke-width="0.1" text-anchor="start" textLength="8.3" lengthAdjust="spacingAndGlyphs">10<tspan dy="-2.9" font-size="4.22">4</tspan></text>
<text x="112.1" y="60.1" font-size="7.0" text-anchor="start" font-weight="bold" fill="#111" textLength="16.8" lengthAdjust="spacingAndGlyphs">7.62%</text>
<text x="164.5" y="60.1" font-size="7.0" text-anchor="end" font-weight="bold" fill="#111" textLength="16.6" lengthAdjust="spacingAndGlyphs">3.03%</text>
<text x="112.1" y="104.0" font-size="7.0" text-anchor="start" font-weight="bold" fill="#111" textLength="20.7" lengthAdjust="spacingAndGlyphs">35.80%</text>
<text x="164.5" y="104.0" font-size="7.0" text-anchor="end" font-weight="bold" fill="#111" textLength="19.6" lengthAdjust="spacingAndGlyphs">53.55%</text>
<rect x="313.9" y="79.9" width="1.0" height="1.0" fill="#5a5ae0" fill-opacity="0.76"/>
<rect x="324.8" y="81.6" width="1.2" height="1.2" fill="#5a5ae0" fill-opacity="0.31"/>
<rect x="341.5" y="67.4" width="0.8" height="0.8" fill="#5a5ae0" fill-opacity="0.40"/>
<rect x="336.0" y="79.8" width="1.2" height="1.2" fill="#5a5ae0" fill-opacity="0.54"/>
<rect x="332.4" y="62.6" width="1.2" height="1.2" fill="#5a5ae0" fill-opacity="0.38"/>
<rect x="345.6" y="73.2" width="0.8" height="0.8" fill="#5a5ae0" fill-opacity="0.64"/>
<rect x="305.9" y="89.4" width="1.2" height="1.2" fill="#5a5ae0" fill-opacity="0.32"/>
<rect x="338.9" y="92.2" width="1.0" height="1.0" fill="#5a5ae0" fill-opacity="0.54"/>
<rect x="336.1" y="94.7" width="1.2" height="1.2" fill="#5a5ae0" fill-opacity="0.69"/>
<rect x="322.6" y="88.0" width="1.2" height="1.2" fill="#5a5ae0" fill-opacity="0.52"/>
<rect x="346.0" y="94.7" width="0.8" height="0.8" fill="#5a5ae0" fill-opacity="0.32"/>
<rect x="325.8" y="67.4" width="1.2" height="1.2" fill="#5a5ae0" fill-opacity="0.52"/>
<rect x="331.8" y="69.2" width="1.2" height="1.2" fill="#5a5ae0" fill-opacity="0.72"/>
<rect x="329.4" y="79.5" width="1.0" height="1.0" fill="#5a5ae0" fill-opacity="0.59"/>
<rect x="344.6" y="86.0" width="0.8" height="0.8" fill="#5a5ae0" fill-opacity="0.73"/>
<rect x="348.6" y="85.5" width="0.8" height="0.8" fill="#5a5ae0" fill-opacity="0.65"/>
<rect x="318.0" y="79.8" width="1.2" height="1.2" fill="#5a5ae0" fill-opacity="0.58"/>
<rect x="335.8" y="65.3" width="1.2" height="1.2" fill="#5a5ae0" fill-opacity="0.43"/>
<rect x="308.7" y="77.2" width="1.2" height="1.2" fill="#5a5ae0" fill-opacity="0.79"/>
<rect x="307.1" y="91.2" width="1.0" height="1.0" fill="#5a5ae0" fill-opacity="0.75"/>
<rect x="303.9" y="74.8" width="1.0" height="1.0" fill="#5a5ae0" fill-opacity="0.74"/>
<rect x="305.0" y="83.0" width="0.8" height="0.8" fill="#5a5ae0" fill-opacity="0.49"/>
<rect x="330.0" y="80.2" width="1.0" height="1.0" fill="#5a5ae0" fill-opacity="0.55"/>
<rect x="348.9" y="69.6" width="0.8" height="0.8" fill="#5a5ae0" fill-opacity="0.35"/>
<rect x="327.6" y="97.8" width="1.0" height="1.0" fill="#5a5ae0" fill-opacity="0.45"/>
<rect x="315.1" y="86.3" width="1.0" height="1.0" fill="#5a5ae0" fill-opacity="0.46"/>
<rect x="347.1" y="95.5" width="1.0" height="1.0" fill="#5a5ae0" fill-opacity="0.49"/>
<rect x="343.0" y="73.0" width="1.2" height="1.2" fill="#5a5ae0" fill-opacity="0.64"/>
<rect x="307.7" y="98.8" width="1.2" height="1.2" fill="#5a5ae0" fill-opacity="0.44"/>
<rect x="332.2" y="87.5" width="1.0" height="1.0" fill="#5a5ae0" fill-opacity="0.52"/>
<rect x="314.9" y="69.3" width="1.0" height="1.0" fill="#5a5ae0" fill-opacity="0.31"/>
<rect x="322.1" y="81.5" width="0.8" height="0.8" fill="#5a5ae0" fill-opacity="0.49"/>
<rect x="330.1" y="61.9" width="1.2" height="1.2" fill="#5a5ae0" fill-opacity="0.61"/>
<rect x="324.4" y="85.9" width="1.0" height="1.0" fill="#5a5ae0" fill-opacity="0.60"/>
<rect x="315.8" y="77.5" width="1.2" height="1.2" fill="#5a5ae0" fill-opacity="0.33"/>
<rect x="334.1" y="98.4" width="1.0" height="1.0" fill="#5a5ae0" fill-opacity="0.61"/>
<rect x="316.7" y="82.5" width="0.8" height="0.8" fill="#5a5ae0" fill-opacity="0.48"/>
<rect x="317.4" y="72.2" width="1.2" height="1.2" fill="#5a5ae0" fill-opacity="0.43"/>
<rect x="339.2" y="60.6" width="0.8" height="0.8" fill="#5a5ae0" fill-opacity="0.79"/>
<rect x="334.5" y="61.8" width="1.2" height="1.2" fill="#5a5ae0" fill-opacity="0.41"/>
<rect x="340.0" y="66.5" width="0.8" height="0.8" fill="#5a5ae0" fill-opacity="0.64"/>
<rect x="332.9" y="60.3" width="1.2" height="1.2" fill="#5a5ae0" fill-opacity="0.46"/>
<rect x="318.4" y="92.7" width="1.0" height="1.0" fill="#5a5ae0" fill-opacity="0.70"/>
<rect x="347.2" y="59.5" width="1.2" height="1.2" fill="#5a5ae0" fill-opacity="0.63"/>
<rect x="343.7" y="75.8" width="0.8" height="0.8" fill="#5a5ae0" fill-opacity="0.69"/>
<rect x="304.6" y="98.1" width="1.0" height="1.0" fill="#5a5ae0" fill-opacity="0.70"/>
<rect x="341.6" y="64.1" width="1.0" height="1.0" fill="#5a5ae0" fill-opacity="0.47"/>
<rect x="341.1" y="59.8" width="1.2" height="1.2" fill="#5a5ae0" fill-opacity="0.47"/>
<rect x="309.0" y="68.8" width="1.0" height="1.0" fill="#5a5ae0" fill-opacity="0.53"/>
<rect x="332.2" y="68.8" width="1.2" height="1.2" fill="#5a5ae0" fill-opacity="0.50"/>
<rect x="345.3" y="62.9" width="0.8" height="0.8" fill="#5a5ae0" fill-opacity="0.54"/>
<rect x="341.3" y="83.4" width="1.2" height="1.2" fill="#5a5ae0" fill-opacity="0.52"/>
<rect x="346.7" y="96.8" width="0.8" height="0.8" fill="#5a5ae0" fill-opacity="0.32"/>
<rect x="324.0" y="89.1" width="1.2" height="1.2" fill="#5a5ae0" fill-opacity="0.56"/>
<rect x="316.3" y="71.0" width="0.8" height="0.8" fill="#5a5ae0" fill-opacity="0.73"/>
<rect x="342.5" y="98.7" width="0.8" height="0.8" fill="#5a5ae0" fill-opacity="0.71"/>
<rect x="305.1" y="95.8" width="1.2" height="1.2" fill="#5a5ae0" fill-opacity="0.56"/>
<rect x="312.1" y="94.9" width="1.0" height="1.0" fill="#5a5ae0" fill-opacity="0.59"/>
<rect x="303.6" y="88.8" width="0.8" height="0.8" fill="#5a5ae0" fill-opacity="0.55"/>
<rect x="314.0" y="56.9" width="1.2" height="1.2" fill="#5a5ae0" fill-opacity="0.51"/>
<path d="M325.30 69.50 C325.49 70.84 325.83 72.51 325.32 73.78 C324.81 75.05 323.47 76.30 322.22 77.13 C320.97 77.95 319.31 78.54 317.83 78.72 C316.34 78.91 314.84 78.46 313.30 78.24 C311.75 78.01 309.88 78.09 308.57 77.36 C307.26 76.64 306.06 75.19 305.46 73.88 C304.86 72.57 304.88 70.92 304.97 69.50 C305.07 68.08 305.31 66.55 306.03 65.37 C306.75 64.20 308.07 63.17 309.30 62.46 C310.53 61.76 311.98 61.49 313.40 61.16 C314.81 60.83 316.32 60.35 317.78 60.48 C319.24 60.61 321.10 61.07 322.16 61.95 C323.22 62.82 323.62 64.47 324.15 65.73 C324.67 66.99 325.10 68.16 325.30 69.50Z" fill="#a8a8ee" fill-opacity="0.3"/>
<path d="M325.49 69.33 C325.69 70.65 325.92 72.39 325.35 73.71 C324.79 75.04 323.36 76.46 322.08 77.29 C320.79 78.13 319.14 78.56 317.66 78.72 C316.18 78.89 314.72 78.47 313.19 78.26 C311.65 78.06 309.75 78.26 308.45 77.50 C307.16 76.75 305.99 75.11 305.43 73.76 C304.87 72.40 304.98 70.77 305.09 69.35 C305.21 67.94 305.40 66.44 306.13 65.27 C306.85 64.11 308.21 63.04 309.44 62.37 C310.66 61.69 312.07 61.52 313.46 61.23 C314.85 60.94 316.32 60.52 317.78 60.63 C319.23 60.73 321.11 60.98 322.18 61.84 C323.24 62.70 323.60 64.56 324.16 65.81 C324.71 67.06 325.29 68.01 325.49 69.33Z" fill="none" stroke="#4a4ae0" stroke-opacity="0.8" stroke-width="0.5"/>
<path d="M324.03 69.54 C324.06 70.76 324.10 71.95 323.70 73.03 C323.31 74.12 322.75 75.25 321.67 76.07 C320.59 76.88 318.66 77.82 317.23 77.93 C315.79 78.04 314.46 77.05 313.08 76.75 C311.70 76.44 310.10 76.72 308.95 76.13 C307.81 75.53 306.70 74.19 306.20 73.16 C305.71 72.13 305.88 71.14 305.99 69.94 C306.11 68.74 306.27 67.03 306.91 65.97 C307.55 64.90 308.77 64.21 309.83 63.55 C310.88 62.90 312.03 62.38 313.25 62.02 C314.47 61.66 315.83 61.25 317.13 61.38 C318.44 61.52 320.04 62.10 321.11 62.82 C322.18 63.55 323.05 64.61 323.54 65.73 C324.03 66.85 324.00 68.33 324.03 69.54Z" fill="#a8a8ee" fill-opacity="0.12" stroke="#4a4ae0" stroke-opacity="0.8" stroke-width="0.5"/>
<path d="M322.66 69.65 C322.82 70.59 323.64 71.75 323.28 72.67 C322.91 73.59 321.47 74.50 320.45 75.15 C319.42 75.81 318.18 76.50 317.12 76.59 C316.06 76.68 315.29 75.92 314.08 75.70 C312.88 75.47 310.91 75.67 309.89 75.24 C308.87 74.81 308.44 74.16 307.97 73.12 C307.49 72.09 307.06 70.17 307.05 69.04 C307.04 67.91 307.24 67.07 307.90 66.34 C308.55 65.61 309.98 65.20 310.96 64.66 C311.93 64.13 312.64 63.41 313.75 63.12 C314.85 62.84 316.39 62.88 317.58 62.95 C318.78 63.02 320.16 62.89 320.94 63.56 C321.72 64.23 321.98 65.97 322.26 66.98 C322.55 68.00 322.49 68.70 322.66 69.65Z" fill="#a8a8ee" fill-opacity="0.12" stroke="#4a4ae0" stroke-opacity="0.8" stroke-width="0.5"/>
<path d="M321.51 69.30 C321.65 70.18 322.50 71.23 322.18 72.02 C321.86 72.81 320.41 73.45 319.60 74.04 C318.79 74.64 318.30 75.41 317.33 75.58 C316.37 75.76 314.86 75.34 313.80 75.09 C312.74 74.85 311.73 74.63 310.98 74.11 C310.23 73.58 309.68 72.65 309.28 71.94 C308.89 71.22 308.63 70.59 308.62 69.80 C308.60 69.00 308.64 67.94 309.19 67.18 C309.74 66.43 311.09 65.68 311.90 65.26 C312.71 64.84 313.24 64.81 314.05 64.65 C314.85 64.49 315.78 64.26 316.75 64.28 C317.71 64.30 319.06 64.35 319.83 64.76 C320.61 65.17 321.09 66.00 321.37 66.75 C321.65 67.51 321.38 68.42 321.51 69.30Z" fill="#a8a8ee" fill-opacity="0.12" stroke="#4a4ae0" stroke-opacity="0.8" stroke-width="0.5"/>
<path d="M326.00 77.00 C325.33 75.67 327.67 72.33 329.00 71.00 C330.33 69.67 332.50 68.83 334.00 69.00 C335.50 69.17 337.50 70.67 338.00 72.00 C338.50 73.33 337.83 75.83 337.00 77.00 C336.17 78.17 334.83 79.00 333.00 79.00 C331.17 79.00 326.67 78.33 326.00 77.00Z" fill="#a8a8ee" fill-opacity="0.1"/>
<path d="M325.91 77.11 C325.21 75.78 327.48 72.52 328.83 71.17 C330.17 69.82 332.42 68.89 333.98 69.00 C335.54 69.11 337.73 70.50 338.20 71.83 C338.67 73.17 337.67 75.81 336.81 77.03 C335.95 78.24 334.87 79.13 333.05 79.14 C331.24 79.16 326.62 78.44 325.91 77.11Z" fill="none" stroke="#4a4ae0" stroke-opacity="0.5" stroke-width="0.35"/>
<path d="M327.74 76.53 C327.31 75.54 329.40 72.98 330.31 72.03 C331.21 71.08 332.19 70.72 333.17 70.85 C334.15 70.98 335.66 72.02 336.17 72.82 C336.68 73.62 336.79 74.80 336.24 75.66 C335.70 76.52 334.30 77.84 332.88 77.99 C331.46 78.13 328.17 77.53 327.74 76.53Z" fill="none" stroke="#4a4ae0" stroke-opacity="0.5" stroke-width="0.35"/>
<path d="M340.43 87.00 C340.19 88.15 338.63 89.30 337.53 90.30 C336.43 91.30 335.19 92.08 333.83 93.00 C332.48 93.92 331.28 95.37 329.39 95.81 C327.51 96.26 324.68 95.81 322.50 95.66 C320.32 95.51 318.33 95.30 316.29 94.94 C314.25 94.57 311.80 94.24 310.26 93.48 C308.73 92.72 308.01 91.46 307.08 90.38 C306.16 89.30 304.67 88.12 304.71 87.00 C304.74 85.88 306.45 84.79 307.30 83.67 C308.15 82.55 308.34 81.09 309.82 80.29 C311.29 79.48 314.02 79.26 316.14 78.87 C318.25 78.47 320.30 77.99 322.50 77.89 C324.70 77.79 327.29 77.82 329.34 78.25 C331.39 78.69 333.18 79.64 334.79 80.49 C336.40 81.35 338.06 82.30 339.00 83.38 C339.95 84.46 340.68 85.85 340.43 87.00Z" fill="#a8a8ee" fill-opacity="0.3"/>
<path d="M340.35 87.14 C340.12 88.30 338.71 89.38 337.66 90.37 C336.60 91.36 335.44 92.15 334.03 93.08 C332.63 94.01 331.14 95.53 329.24 95.95 C327.33 96.37 324.79 95.80 322.60 95.61 C320.42 95.43 318.18 95.22 316.13 94.84 C314.07 94.47 311.75 94.15 310.27 93.38 C308.80 92.61 308.22 91.33 307.28 90.24 C306.34 89.16 304.60 87.92 304.61 86.85 C304.63 85.78 306.55 84.90 307.40 83.80 C308.25 82.70 308.23 81.06 309.72 80.24 C311.20 79.43 314.18 79.26 316.29 78.90 C318.40 78.55 320.19 78.21 322.39 78.09 C324.58 77.97 327.39 77.78 329.45 78.18 C331.51 78.58 333.17 79.63 334.77 80.49 C336.37 81.36 338.13 82.26 339.06 83.36 C339.99 84.47 340.58 85.97 340.35 87.14Z" fill="none" stroke="#4a4ae0" stroke-opacity="0.8" stroke-width="0.5"/>
<path d="M338.65 86.82 C338.44 87.83 336.89 89.06 335.96 90.03 C335.02 90.99 334.30 91.76 333.05 92.61 C331.79 93.47 330.13 94.75 328.42 95.16 C326.71 95.56 324.75 95.13 322.79 95.03 C320.82 94.94 318.57 94.88 316.63 94.58 C314.69 94.28 312.61 94.06 311.14 93.25 C309.68 92.43 308.68 90.80 307.83 89.69 C306.99 88.58 306.03 87.46 306.09 86.58 C306.16 85.69 307.38 85.35 308.22 84.36 C309.05 83.36 309.77 81.38 311.11 80.61 C312.45 79.84 314.33 80.13 316.26 79.74 C318.20 79.35 320.61 78.39 322.71 78.28 C324.81 78.18 327.07 78.70 328.86 79.09 C330.64 79.48 332.01 79.80 333.40 80.62 C334.79 81.44 336.34 82.97 337.21 84.00 C338.09 85.03 338.86 85.82 338.65 86.82Z" fill="#a8a8ee" fill-opacity="0.12" stroke="#4a4ae0" stroke-opacity="0.8" stroke-width="0.5"/>
<path d="M337.37 86.82 C337.01 87.80 335.61 89.03 334.68 89.90 C333.74 90.78 332.87 91.34 331.78 92.07 C330.69 92.79 329.77 93.90 328.15 94.23 C326.53 94.57 323.79 94.11 322.05 94.08 C320.31 94.06 319.27 94.31 317.71 94.09 C316.14 93.88 313.95 93.47 312.64 92.78 C311.34 92.09 310.70 90.88 309.87 89.95 C309.04 89.02 307.61 88.15 307.67 87.20 C307.72 86.26 309.49 85.23 310.20 84.29 C310.91 83.35 310.69 82.26 311.91 81.57 C313.13 80.89 315.82 80.54 317.51 80.18 C319.19 79.83 320.26 79.59 322.03 79.44 C323.80 79.28 326.38 78.91 328.10 79.27 C329.83 79.62 330.92 80.76 332.38 81.55 C333.83 82.34 336.00 83.12 336.83 84.00 C337.66 84.88 337.73 85.84 337.37 86.82Z" fill="#a8a8ee" fill-opacity="0.12" stroke="#4a4ae0" stroke-opacity="0.8" stroke-width="0.5"/>
<path d="M336.48 86.65 C336.24 87.64 334.62 89.08 333.76 89.94 C332.90 90.79 332.35 91.11 331.32 91.76 C330.28 92.41 329.04 93.59 327.55 93.84 C326.06 94.09 324.04 93.45 322.36 93.26 C320.67 93.06 319.04 92.93 317.45 92.68 C315.86 92.44 313.85 92.31 312.80 91.79 C311.76 91.28 311.82 90.37 311.17 89.59 C310.51 88.81 308.83 88.02 308.86 87.12 C308.90 86.22 310.65 85.00 311.38 84.20 C312.12 83.41 312.27 83.00 313.29 82.35 C314.32 81.71 315.96 80.67 317.53 80.36 C319.10 80.04 321.02 80.51 322.69 80.47 C324.37 80.44 326.10 79.95 327.58 80.14 C329.06 80.34 330.32 81.01 331.59 81.66 C332.86 82.30 334.41 83.18 335.22 84.01 C336.04 84.85 336.72 85.66 336.48 86.65Z" fill="#a8a8ee" fill-opacity="0.12" stroke="#4a4ae0" stroke-opacity="0.8" stroke-width="0.5"/>
<path d="M335.15 86.88 C334.94 87.61 333.11 88.74 332.37 89.38 C331.63 90.01 331.49 90.05 330.71 90.68 C329.93 91.30 329.00 92.68 327.68 93.12 C326.36 93.56 324.34 93.42 322.79 93.30 C321.23 93.18 319.84 92.74 318.34 92.40 C316.85 92.06 314.88 91.85 313.84 91.29 C312.80 90.72 312.67 89.77 312.09 89.03 C311.51 88.29 310.28 87.60 310.35 86.85 C310.42 86.10 311.86 85.33 312.52 84.55 C313.18 83.76 313.32 82.65 314.29 82.13 C315.26 81.61 317.00 81.62 318.34 81.44 C319.68 81.26 320.77 81.18 322.32 81.05 C323.87 80.92 326.18 80.47 327.66 80.65 C329.14 80.82 330.20 81.39 331.19 82.11 C332.17 82.83 332.94 84.17 333.60 84.96 C334.26 85.76 335.35 86.14 335.15 86.88Z" fill="#a8a8ee" fill-opacity="0.12" stroke="#4a4ae0" stroke-opacity="0.8" stroke-width="0.5"/>
<ellipse cx="315.0" cy="69.9" rx="7.02" ry="5.98" fill="#3c3cd8" fill-opacity="0.3" transform="rotate(0 315.0 69.9)"/>
<ellipse cx="315.0" cy="69.9" rx="5.40" ry="4.60" fill="#2222ee" transform="rotate(0 315.0 69.9)"/>
<ellipse cx="315.0" cy="69.9" rx="4.32" ry="3.68" fill="#12c8ff" transform="rotate(0 315.0 69.9)"/>
<ellipse cx="315.0" cy="69.9" rx="3.24" ry="2.76" fill="#2aa83a" transform="rotate(0 315.0 69.9)"/>
<ellipse cx="315.0" cy="69.9" rx="2.05" ry="1.75" fill="#eaea10" transform="rotate(0 315.0 69.9)"/>
<ellipse cx="315.0" cy="69.9" rx="0.9" ry="0.77" fill="#ffffb0"/>
<line x1="317.3" y1="86.7" x2="327.9" y2="86.7" stroke="#3c3cd8" stroke-opacity="0.3" stroke-width="13.10" stroke-linecap="round"/>
<ellipse cx="317.3" cy="86.7" rx="8.58" ry="7.54" fill="#3c3cd8" fill-opacity="0.3" transform="rotate(0 317.3 86.7)"/>
<ellipse cx="327.9" cy="86.7" rx="7.54" ry="7.28" fill="#3c3cd8" fill-opacity="0.3" transform="rotate(0 327.9 86.7)"/>
<line x1="317.3" y1="86.7" x2="327.9" y2="86.7" stroke="#2222ee" stroke-width="10.64" stroke-linecap="round"/>
<ellipse cx="317.3" cy="86.7" rx="6.60" ry="5.80" fill="#2222ee" transform="rotate(0 317.3 86.7)"/>
<ellipse cx="327.9" cy="86.7" rx="5.80" ry="5.60" fill="#2222ee" transform="rotate(0 327.9 86.7)"/>
<line x1="317.3" y1="86.7" x2="327.9" y2="86.7" stroke="#12c8ff" stroke-width="7.89" stroke-linecap="round"/>
<ellipse cx="317.3" cy="86.7" rx="5.28" ry="4.64" fill="#12c8ff" transform="rotate(0 317.3 86.7)"/>
<ellipse cx="327.9" cy="86.7" rx="4.87" ry="4.70" fill="#12c8ff" transform="rotate(0 327.9 86.7)"/>
<line x1="317.3" y1="86.7" x2="327.9" y2="86.7" stroke="#2aa83a" stroke-width="4.18" stroke-linecap="round"/>
<ellipse cx="317.3" cy="86.7" rx="3.96" ry="3.48" fill="#2aa83a" transform="rotate(0 317.3 86.7)"/>
<ellipse cx="327.9" cy="86.7" rx="4.06" ry="3.92" fill="#2aa83a" transform="rotate(0 327.9 86.7)"/>
<line x1="317.3" y1="86.7" x2="327.9" y2="86.7" stroke="#eaea10" stroke-width="1.54" stroke-linecap="round"/>
<ellipse cx="317.3" cy="86.7" rx="2.51" ry="2.20" fill="#eaea10" transform="rotate(0 317.3 86.7)"/>
<ellipse cx="327.9" cy="86.7" rx="3.25" ry="3.14" fill="#eaea10" transform="rotate(0 327.9 86.7)"/>
<ellipse cx="327.9" cy="86.7" rx="2.32" ry="2.24" fill="#ff8a00" transform="rotate(0 327.9 86.7)"/>
<ellipse cx="327.9" cy="86.7" rx="1.39" ry="1.34" fill="#ff1010" transform="rotate(0 327.9 86.7)"/>
<ellipse cx="317.3" cy="86.7" rx="1.3" ry="1.10" fill="#ffffb0"/>
<line x1="301.3" y1="78.1" x2="350.3" y2="78.1" stroke="#6e6e6e" stroke-width="0.9"/>
<line x1="323.3" y1="53.3" x2="323.3" y2="102.0" stroke="#6e6e6e" stroke-width="0.9"/>
<path d="M301.3 53.3 L301.3 102.0 L350.3 102.0" fill="none" stroke="#2d3a66" stroke-width="1.1"/>
<text x="298.7" y="56.800000000000004" font-size="6.6" fill="#4a3fa8" stroke="#4a3fa8" stroke-width="0.1" text-anchor="end" textLength="8.3" lengthAdjust="spacingAndGlyphs">10<tspan dy="-2.9" font-size="4.22">4</tspan></text>
<text x="298.7" y="71.9" font-size="6.6" fill="#4a3fa8" stroke="#4a3fa8" stroke-width="0.1" text-anchor="end" textLength="8.3" lengthAdjust="spacingAndGlyphs">10<tspan dy="-2.9" font-size="4.22">3</tspan></text>
<text x="298.7" y="87.3" font-size="6.6" fill="#4a3fa8" stroke="#4a3fa8" stroke-width="0.1" text-anchor="end" textLength="8.3" lengthAdjust="spacingAndGlyphs">10<tspan dy="-2.9" font-size="4.22">2</tspan></text>
<text x="298.7" y="101.5" font-size="6.6" fill="#4a3fa8" stroke="#4a3fa8" stroke-width="0.1" text-anchor="end" textLength="8.3" lengthAdjust="spacingAndGlyphs">10<tspan dy="-2.9" font-size="4.22">1</tspan></text>
<text x="300.5" y="111.8" font-size="6.6" fill="#4a3fa8" stroke="#4a3fa8" stroke-width="0.1" text-anchor="start" textLength="8.3" lengthAdjust="spacingAndGlyphs">10<tspan dy="-2.9" font-size="4.22">1</tspan></text>
<text x="314.3" y="111.8" font-size="6.6" fill="#4a3fa8" stroke="#4a3fa8" stroke-width="0.1" text-anchor="start" textLength="8.3" lengthAdjust="spacingAndGlyphs">10<tspan dy="-2.9" font-size="4.22">2</tspan></text>
<text x="329.5" y="111.8" font-size="6.6" fill="#4a3fa8" stroke="#4a3fa8" stroke-width="0.1" text-anchor="start" textLength="8.3" lengthAdjust="spacingAndGlyphs">10<tspan dy="-2.9" font-size="4.22">3</tspan></text>
<text x="345.0" y="111.8" font-size="6.6" fill="#4a3fa8" stroke="#4a3fa8" stroke-width="0.1" text-anchor="start" textLength="8.3" lengthAdjust="spacingAndGlyphs">10<tspan dy="-2.9" font-size="4.22">4</tspan></text>
<text x="301.90000000000003" y="59.599999999999994" font-size="6.5" text-anchor="start" font-weight="bold" fill="#111" textLength="18.5" lengthAdjust="spacingAndGlyphs">24.66%</text>
<text x="351.3" y="59.599999999999994" font-size="6.5" text-anchor="end" font-weight="bold" fill="#111" textLength="15.9" lengthAdjust="spacingAndGlyphs">2.10%</text>
<text x="301.90000000000003" y="100.8" font-size="6.5" text-anchor="start" font-weight="bold" fill="#111" textLength="18.7" lengthAdjust="spacingAndGlyphs">38.34%</text>
<text x="351.3" y="100.8" font-size="6.5" text-anchor="end" font-weight="bold" fill="#111" textLength="17.6" lengthAdjust="spacingAndGlyphs">34.90%</text>
<rect x="380.9" y="60.5" width="1.0" height="1.0" fill="#5a5ae0" fill-opacity="0.54"/>
<rect x="374.1" y="56.9" width="1.2" height="1.2" fill="#5a5ae0" fill-opacity="0.76"/>
<rect x="406.8" y="89.7" width="0.8" height="0.8" fill="#5a5ae0" fill-opacity="0.56"/>
<rect x="386.6" y="90.3" width="0.8" height="0.8" fill="#5a5ae0" fill-opacity="0.43"/>
<rect x="413.4" y="57.1" width="1.2" height="1.2" fill="#5a5ae0" fill-opacity="0.70"/>
<rect x="406.8" y="64.5" width="1.0" height="1.0" fill="#5a5ae0" fill-opacity="0.44"/>
<rect x="409.9" y="98.3" width="1.0" height="1.0" fill="#5a5ae0" fill-opacity="0.34"/>
<rect x="397.9" y="85.6" width="1.2" height="1.2" fill="#5a5ae0" fill-opacity="0.42"/>
<rect x="381.4" y="68.3" width="1.2" height="1.2" fill="#5a5ae0" fill-opacity="0.72"/>
<rect x="370.3" y="68.8" width="1.2" height="1.2" fill="#5a5ae0" fill-opacity="0.74"/>
<rect x="409.0" y="78.4" width="1.0" height="1.0" fill="#5a5ae0" fill-opacity="0.51"/>
<rect x="383.3" y="75.9" width="0.8" height="0.8" fill="#5a5ae0" fill-opacity="0.45"/>
<rect x="407.4" y="57.9" width="0.8" height="0.8" fill="#5a5ae0" fill-opacity="0.53"/>
<rect x="415.9" y="78.8" width="1.2" height="1.2" fill="#5a5ae0" fill-opacity="0.54"/>
<rect x="385.8" y="99.9" width="0.8" height="0.8" fill="#5a5ae0" fill-opacity="0.33"/>
<rect x="412.0" y="83.9" width="1.0" height="1.0" fill="#5a5ae0" fill-opacity="0.44"/>
<rect x="386.4" y="88.9" width="1.0" height="1.0" fill="#5a5ae0" fill-opacity="0.62"/>
<rect x="379.1" y="70.2" width="0.8" height="0.8" fill="#5a5ae0" fill-opacity="0.65"/>
<rect x="382.8" y="81.6" width="0.8" height="0.8" fill="#5a5ae0" fill-opacity="0.36"/>
<rect x="413.0" y="68.8" width="0.8" height="0.8" fill="#5a5ae0" fill-opacity="0.32"/>
<rect x="402.1" y="95.4" width="1.0" height="1.0" fill="#5a5ae0" fill-opacity="0.67"/>
<rect x="414.2" y="56.8" width="1.0" height="1.0" fill="#5a5ae0" fill-opacity="0.46"/>
<rect x="377.0" y="84.7" width="1.2" height="1.2" fill="#5a5ae0" fill-opacity="0.64"/>
<rect x="373.6" y="83.2" width="1.0" height="1.0" fill="#5a5ae0" fill-opacity="0.45"/>
<rect x="381.5" y="82.3" width="0.8" height="0.8" fill="#5a5ae0" fill-opacity="0.47"/>
<rect x="370.4" y="58.0" width="0.8" height="0.8" fill="#5a5ae0" fill-opacity="0.48"/>
<rect x="407.0" y="99.9" width="1.2" height="1.2" fill="#5a5ae0" fill-opacity="0.35"/>
<rect x="415.2" y="74.7" width="0.8" height="0.8" fill="#5a5ae0" fill-opacity="0.36"/>
<rect x="372.9" y="88.4" width="1.2" height="1.2" fill="#5a5ae0" fill-opacity="0.64"/>
<rect x="376.9" y="57.8" width="1.0" height="1.0" fill="#5a5ae0" fill-opacity="0.59"/>
<rect x="384.8" y="57.6" width="1.2" height="1.2" fill="#5a5ae0" fill-opacity="0.45"/>
<rect x="415.9" y="84.7" width="0.8" height="0.8" fill="#5a5ae0" fill-opacity="0.54"/>
<rect x="381.1" y="74.1" width="0.8" height="0.8" fill="#5a5ae0" fill-opacity="0.41"/>
<rect x="390.4" y="84.5" width="1.0" height="1.0" fill="#5a5ae0" fill-opacity="0.72"/>
<rect x="392.9" y="57.4" width="1.0" height="1.0" fill="#5a5ae0" fill-opacity="0.43"/>
<rect x="394.2" y="90.0" width="1.0" height="1.0" fill="#5a5ae0" fill-opacity="0.73"/>
<rect x="376.5" y="58.3" width="1.0" height="1.0" fill="#5a5ae0" fill-opacity="0.58"/>
<rect x="415.6" y="73.7" width="1.2" height="1.2" fill="#5a5ae0" fill-opacity="0.63"/>
<rect x="406.4" y="88.8" width="1.0" height="1.0" fill="#5a5ae0" fill-opacity="0.49"/>
<rect x="389.8" y="96.9" width="1.2" height="1.2" fill="#5a5ae0" fill-opacity="0.75"/>
<rect x="412.5" y="70.8" width="1.2" height="1.2" fill="#5a5ae0" fill-opacity="0.54"/>
<rect x="411.4" y="69.9" width="1.0" height="1.0" fill="#5a5ae0" fill-opacity="0.56"/>
<rect x="400.1" y="86.2" width="1.0" height="1.0" fill="#5a5ae0" fill-opacity="0.47"/>
<rect x="388.0" y="77.8" width="1.0" height="1.0" fill="#5a5ae0" fill-opacity="0.78"/>
<rect x="400.7" y="58.0" width="1.2" height="1.2" fill="#5a5ae0" fill-opacity="0.36"/>
<rect x="414.6" y="85.4" width="0.8" height="0.8" fill="#5a5ae0" fill-opacity="0.74"/>
<rect x="401.6" y="76.4" width="1.0" height="1.0" fill="#5a5ae0" fill-opacity="0.67"/>
<rect x="412.7" y="65.6" width="0.8" height="0.8" fill="#5a5ae0" fill-opacity="0.41"/>
<rect x="377.2" y="82.8" width="1.0" height="1.0" fill="#5a5ae0" fill-opacity="0.36"/>
<rect x="407.3" y="90.5" width="0.8" height="0.8" fill="#5a5ae0" fill-opacity="0.58"/>
<rect x="410.4" y="64.9" width="1.2" height="1.2" fill="#5a5ae0" fill-opacity="0.60"/>
<rect x="407.6" y="80.7" width="1.0" height="1.0" fill="#5a5ae0" fill-opacity="0.76"/>
<rect x="390.2" y="59.5" width="1.2" height="1.2" fill="#5a5ae0" fill-opacity="0.60"/>
<rect x="392.5" y="94.0" width="1.2" height="1.2" fill="#5a5ae0" fill-opacity="0.69"/>
<rect x="371.9" y="59.5" width="1.2" height="1.2" fill="#5a5ae0" fill-opacity="0.75"/>
<rect x="383.7" y="71.3" width="0.8" height="0.8" fill="#5a5ae0" fill-opacity="0.34"/>
<rect x="395.0" y="72.8" width="1.0" height="1.0" fill="#5a5ae0" fill-opacity="0.49"/>
<rect x="404.9" y="93.6" width="1.0" height="1.0" fill="#5a5ae0" fill-opacity="0.35"/>
<rect x="375.3" y="83.3" width="1.0" height="1.0" fill="#5a5ae0" fill-opacity="0.56"/>
<rect x="390.0" y="93.7" width="1.0" height="1.0" fill="#5a5ae0" fill-opacity="0.33"/>
<path d="M392.16 70.00 C392.08 71.23 391.92 72.45 391.43 73.58 C390.94 74.71 390.20 75.89 389.22 76.76 C388.25 77.64 386.88 78.61 385.58 78.83 C384.27 79.05 382.70 78.48 381.41 78.08 C380.12 77.69 378.88 77.19 377.84 76.45 C376.81 75.72 375.93 74.73 375.21 73.65 C374.49 72.58 373.49 71.21 373.51 70.00 C373.53 68.79 374.70 67.59 375.32 66.40 C375.95 65.21 376.26 63.72 377.25 62.85 C378.23 61.99 379.87 61.35 381.23 61.20 C382.59 61.04 384.04 61.61 385.39 61.92 C386.75 62.23 388.27 62.36 389.36 63.08 C390.44 63.80 391.42 65.06 391.89 66.21 C392.35 67.37 392.24 68.77 392.16 70.00Z" fill="#a8a8ee" fill-opacity="0.3"/>
<path d="M392.34 70.17 C392.24 71.45 391.86 72.61 391.37 73.68 C390.88 74.75 390.36 75.71 389.41 76.59 C388.47 77.46 387.01 78.68 385.71 78.92 C384.40 79.17 382.88 78.46 381.58 78.06 C380.28 77.67 378.96 77.28 377.90 76.56 C376.84 75.84 375.96 74.87 375.21 73.74 C374.46 72.62 373.39 71.01 373.40 69.82 C373.40 68.63 374.57 67.73 375.21 66.59 C375.85 65.46 376.19 63.88 377.22 63.01 C378.26 62.14 380.05 61.56 381.42 61.36 C382.78 61.17 384.08 61.53 385.41 61.83 C386.74 62.14 388.31 62.49 389.40 63.19 C390.49 63.89 391.49 64.86 391.98 66.03 C392.47 67.19 392.45 68.90 392.34 70.17Z" fill="none" stroke="#4a4ae0" stroke-opacity="0.8" stroke-width="0.5"/>
<path d="M390.75 69.52 C390.72 70.65 390.67 71.95 390.29 73.07 C389.90 74.20 389.23 75.51 388.45 76.27 C387.66 77.03 386.76 77.42 385.59 77.64 C384.43 77.85 382.63 77.97 381.47 77.58 C380.31 77.18 379.56 75.94 378.64 75.27 C377.72 74.60 376.60 74.50 375.93 73.57 C375.26 72.64 374.60 70.79 374.63 69.69 C374.66 68.59 375.63 68.01 376.12 66.96 C376.62 65.91 376.65 64.21 377.60 63.39 C378.54 62.57 380.56 62.06 381.80 62.05 C383.05 62.03 383.85 63.03 385.08 63.29 C386.30 63.56 388.26 63.14 389.15 63.64 C390.05 64.14 390.18 65.31 390.45 66.29 C390.71 67.28 390.77 68.40 390.75 69.52Z" fill="#a8a8ee" fill-opacity="0.12" stroke="#4a4ae0" stroke-opacity="0.8" stroke-width="0.5"/>
<path d="M390.69 70.19 C390.56 71.27 389.78 72.30 389.38 73.18 C388.98 74.06 389.10 74.85 388.31 75.47 C387.51 76.09 385.73 76.81 384.60 76.90 C383.48 77.00 382.50 76.38 381.56 76.05 C380.61 75.72 379.64 75.48 378.95 74.92 C378.25 74.36 377.98 73.59 377.38 72.71 C376.78 71.83 375.39 70.60 375.34 69.64 C375.28 68.68 376.45 67.80 377.05 66.95 C377.65 66.10 378.12 65.23 378.93 64.54 C379.74 63.85 380.91 62.91 381.93 62.80 C382.94 62.69 384.06 63.59 385.01 63.87 C385.95 64.15 386.72 64.02 387.58 64.49 C388.44 64.96 389.66 65.73 390.18 66.68 C390.69 67.63 390.83 69.10 390.69 70.19Z" fill="#a8a8ee" fill-opacity="0.12" stroke="#4a4ae0" stroke-opacity="0.8" stroke-width="0.5"/>
<path d="M389.71 69.69 C389.59 70.47 388.70 71.72 388.38 72.56 C388.05 73.41 388.35 74.25 387.77 74.78 C387.18 75.31 385.87 75.69 384.87 75.72 C383.87 75.75 382.68 75.17 381.76 74.96 C380.85 74.74 380.07 74.77 379.38 74.43 C378.70 74.09 378.14 73.70 377.64 72.91 C377.14 72.13 376.37 70.54 376.41 69.72 C376.45 68.91 377.43 68.83 377.88 68.02 C378.33 67.21 378.39 65.60 379.10 64.87 C379.81 64.15 381.22 63.77 382.15 63.67 C383.08 63.57 383.74 64.01 384.69 64.28 C385.63 64.55 387.12 64.68 387.85 65.28 C388.58 65.88 388.76 67.16 389.07 67.90 C389.38 68.63 389.82 68.91 389.71 69.69Z" fill="#a8a8ee" fill-opacity="0.12" stroke="#4a4ae0" stroke-opacity="0.8" stroke-width="0.5"/>
<path d="M388.43 70.46 C388.38 71.23 388.11 71.84 387.80 72.35 C387.49 72.86 387.03 73.08 386.57 73.53 C386.11 73.98 385.83 74.87 385.05 75.04 C384.28 75.21 382.67 74.87 381.90 74.56 C381.14 74.26 380.98 73.65 380.45 73.22 C379.93 72.79 379.26 72.47 378.77 71.96 C378.28 71.45 377.51 70.81 377.52 70.16 C377.53 69.50 378.43 68.73 378.84 68.05 C379.25 67.37 379.37 66.59 379.97 66.08 C380.57 65.58 381.61 65.06 382.44 65.02 C383.27 64.98 384.25 65.73 384.95 65.85 C385.66 65.96 386.14 65.40 386.67 65.72 C387.19 66.03 387.82 66.94 388.12 67.73 C388.41 68.52 388.48 69.69 388.43 70.46Z" fill="#a8a8ee" fill-opacity="0.12" stroke="#4a4ae0" stroke-opacity="0.8" stroke-width="0.5"/>
<path d="M396.65 88.00 C396.72 89.36 396.43 90.88 395.75 92.14 C395.06 93.40 393.85 94.53 392.55 95.57 C391.25 96.61 389.68 98.01 387.96 98.37 C386.24 98.74 384.06 98.12 382.22 97.74 C380.38 97.36 378.23 97.04 376.93 96.09 C375.64 95.15 375.20 93.41 374.46 92.06 C373.72 90.71 372.71 89.44 372.48 88.00 C372.26 86.56 372.34 84.73 373.12 83.42 C373.90 82.12 375.69 81.13 377.18 80.15 C378.66 79.18 380.22 77.97 382.02 77.56 C383.82 77.14 386.18 77.19 387.95 77.66 C389.72 78.12 391.40 79.28 392.63 80.34 C393.87 81.40 394.69 82.73 395.36 84.01 C396.03 85.28 396.59 86.64 396.65 88.00Z" fill="#a8a8ee" fill-opacity="0.3"/>
<path d="M396.81 87.93 C396.88 89.26 396.26 90.77 395.57 92.02 C394.88 93.27 393.94 94.37 392.70 95.42 C391.46 96.48 389.87 97.94 388.12 98.35 C386.38 98.75 384.08 98.25 382.24 97.85 C380.40 97.44 378.37 96.92 377.08 95.94 C375.79 94.95 375.23 93.24 374.49 91.94 C373.76 90.63 372.91 89.54 372.66 88.11 C372.42 86.68 372.24 84.66 373.02 83.36 C373.81 82.07 375.85 81.33 377.37 80.34 C378.89 79.34 380.38 77.81 382.13 77.37 C383.87 76.93 386.11 77.20 387.84 77.70 C389.57 78.19 391.29 79.30 392.52 80.35 C393.74 81.40 394.45 82.73 395.17 83.99 C395.88 85.25 396.74 86.59 396.81 87.93Z" fill="none" stroke="#4a4ae0" stroke-opacity="0.8" stroke-width="0.5"/>
<path d="M395.45 88.32 C395.55 89.67 395.15 91.12 394.50 92.12 C393.84 93.12 392.67 93.51 391.52 94.33 C390.37 95.14 389.03 96.54 387.60 97.00 C386.17 97.46 384.51 97.42 382.93 97.08 C381.36 96.75 379.33 95.83 378.16 94.99 C376.98 94.15 376.64 93.18 375.87 92.06 C375.09 90.95 373.78 89.73 373.50 88.31 C373.21 86.89 373.39 84.82 374.16 83.56 C374.93 82.30 376.79 81.57 378.12 80.77 C379.44 79.96 380.49 79.17 382.10 78.74 C383.71 78.31 386.24 77.80 387.79 78.20 C389.33 78.60 390.36 80.17 391.38 81.14 C392.40 82.11 393.22 82.81 393.90 84.01 C394.57 85.21 395.35 86.97 395.45 88.32Z" fill="#a8a8ee" fill-opacity="0.12" stroke="#4a4ae0" stroke-opacity="0.8" stroke-width="0.5"/>
<path d="M394.72 88.44 C394.82 89.62 394.36 90.72 393.77 91.72 C393.18 92.73 392.35 93.73 391.19 94.47 C390.03 95.21 388.26 95.97 386.83 96.16 C385.40 96.35 384.03 95.93 382.60 95.62 C381.18 95.31 379.25 94.94 378.28 94.28 C377.30 93.63 377.26 92.75 376.77 91.69 C376.29 90.62 375.57 89.15 375.37 87.88 C375.17 86.61 375.04 85.02 375.56 84.06 C376.08 83.10 377.34 82.93 378.51 82.12 C379.69 81.32 381.15 79.57 382.62 79.22 C384.08 78.87 385.87 79.63 387.30 80.00 C388.74 80.38 390.28 80.70 391.25 81.47 C392.22 82.24 392.56 83.45 393.14 84.61 C393.72 85.78 394.61 87.25 394.72 88.44Z" fill="#a8a8ee" fill-opacity="0.12" stroke="#4a4ae0" stroke-opacity="0.8" stroke-width="0.5"/>
<path d="M392.82 87.73 C392.97 88.73 393.18 90.02 392.80 90.93 C392.42 91.84 391.44 92.54 390.53 93.18 C389.62 93.81 388.64 94.53 387.36 94.75 C386.07 94.97 384.22 94.64 382.84 94.49 C381.45 94.35 379.99 94.43 379.06 93.88 C378.13 93.33 377.71 92.12 377.24 91.20 C376.77 90.28 376.44 89.50 376.26 88.36 C376.08 87.21 375.69 85.24 376.15 84.34 C376.60 83.44 377.89 83.66 379.00 82.98 C380.11 82.29 381.53 80.63 382.83 80.23 C384.12 79.83 385.59 80.23 386.80 80.59 C388.00 80.96 389.19 81.71 390.04 82.44 C390.90 83.16 391.47 84.05 391.93 84.94 C392.40 85.82 392.68 86.73 392.82 87.73Z" fill="#a8a8ee" fill-opacity="0.12" stroke="#4a4ae0" stroke-opacity="0.8" stroke-width="0.5"/>
<path d="M391.85 87.59 C391.85 88.50 391.92 89.92 391.47 90.77 C391.01 91.61 389.89 92.11 389.13 92.66 C388.36 93.20 387.88 93.88 386.88 94.02 C385.89 94.15 384.25 93.58 383.14 93.46 C382.02 93.34 380.91 93.87 380.20 93.31 C379.49 92.75 379.35 91.01 378.87 90.13 C378.40 89.24 377.56 88.72 377.34 87.98 C377.12 87.25 377.03 86.49 377.57 85.69 C378.12 84.90 379.73 83.83 380.61 83.21 C381.49 82.59 381.84 82.17 382.86 81.96 C383.88 81.76 385.54 81.67 386.71 81.98 C387.88 82.30 389.09 83.30 389.88 83.85 C390.66 84.40 391.10 84.66 391.42 85.28 C391.75 85.91 391.84 86.67 391.85 87.59Z" fill="#a8a8ee" fill-opacity="0.12" stroke="#4a4ae0" stroke-opacity="0.8" stroke-width="0.5"/>
<path d="M394.50 87.00 C394.67 85.33 396.25 82.53 398.00 81.50 C399.75 80.47 402.67 81.13 405.00 80.80 C407.33 80.47 409.92 79.77 412.00 79.50 C414.08 79.23 416.50 78.28 417.50 79.20 C418.50 80.12 418.75 83.20 418.00 85.00 C417.25 86.80 415.33 88.83 413.00 90.00 C410.67 91.17 406.67 91.75 404.00 92.00 C401.33 92.25 398.58 92.33 397.00 91.50 C395.42 90.67 394.33 88.67 394.50 87.00Z" fill="#a8a8ee" fill-opacity="0.18"/>
<path d="M394.52 87.09 C394.65 85.47 396.14 82.72 397.87 81.70 C399.60 80.67 402.59 81.33 404.91 80.94 C407.23 80.55 409.74 79.65 411.81 79.33 C413.87 79.02 416.30 78.12 417.31 79.04 C418.31 79.95 418.53 82.98 417.83 84.83 C417.13 86.69 415.37 88.95 413.09 90.17 C410.80 91.38 406.78 91.93 404.12 92.13 C401.46 92.33 398.71 92.21 397.11 91.37 C395.51 90.53 394.40 88.70 394.52 87.09Z" fill="none" stroke="#4a4ae0" stroke-opacity="0.6" stroke-width="0.45"/>
<path d="M395.35 86.40 C395.43 84.88 396.74 82.29 398.36 81.49 C399.99 80.68 402.91 81.80 405.09 81.57 C407.26 81.35 409.47 80.49 411.42 80.14 C413.37 79.79 415.92 78.72 416.78 79.48 C417.65 80.25 417.39 83.04 416.63 84.73 C415.86 86.42 414.29 88.48 412.18 89.63 C410.08 90.77 406.41 91.44 404.02 91.61 C401.64 91.77 399.32 91.47 397.88 90.60 C396.43 89.74 395.27 87.92 395.35 86.40Z" fill="none" stroke="#4a4ae0" stroke-opacity="0.6" stroke-width="0.45"/>
<path d="M397.00 87.00 C397.17 86.17 398.17 84.58 399.50 84.00 C400.83 83.42 403.08 83.75 405.00 83.50 C406.92 83.25 409.25 82.75 411.00 82.50 C412.75 82.25 414.70 81.58 415.50 82.00 C416.30 82.42 416.38 84.08 415.80 85.00 C415.22 85.92 413.97 86.83 412.00 87.50 C410.03 88.17 406.25 88.75 404.00 89.00 C401.75 89.25 399.67 89.33 398.50 89.00 C397.33 88.67 396.83 87.83 397.00 87.00Z" fill="#fff" fill-opacity="0.9" stroke="#3535c8" stroke-width="0.55" stroke-opacity="0.85"/>
<ellipse cx="383.4" cy="69.9" rx="4.4" ry="4.0" fill="#5a6af5" fill-opacity="0.75"/>
<ellipse cx="383.4" cy="69.9" rx="2.4" ry="2.1" fill="#3fd8ff"/>
<ellipse cx="383.8" cy="86.1" rx="8.32" ry="7.80" fill="#3c3cd8" fill-opacity="0.3" transform="rotate(0 383.8 86.1)"/>
<ellipse cx="383.8" cy="86.1" rx="6.40" ry="6.00" fill="#2222ee" transform="rotate(0 383.8 86.1)"/>
<ellipse cx="383.8" cy="86.1" rx="5.38" ry="5.04" fill="#12c8ff" transform="rotate(0 383.8 86.1)"/>
<ellipse cx="383.8" cy="86.1" rx="4.48" ry="4.20" fill="#2aa83a" transform="rotate(0 383.8 86.1)"/>
<ellipse cx="383.8" cy="86.1" rx="3.58" ry="3.36" fill="#eaea10" transform="rotate(0 383.8 86.1)"/>
<ellipse cx="383.8" cy="86.1" rx="2.56" ry="2.40" fill="#ff8a00" transform="rotate(0 383.8 86.1)"/>
<ellipse cx="383.8" cy="86.1" rx="1.54" ry="1.44" fill="#ff1010" transform="rotate(0 383.8 86.1)"/>
<ellipse cx="390" cy="86" rx="1.6" ry="1.6" fill="#70e8ff"/>
<line x1="369.0" y1="79.4" x2="417.2" y2="79.4" stroke="#6e6e6e" stroke-width="0.9"/>
<line x1="388.2" y1="53.3" x2="388.2" y2="102.2" stroke="#6e6e6e" stroke-width="0.9"/>
<path d="M369.0 53.3 L369.0 102.2 L417.2 102.2" fill="none" stroke="#2d3a66" stroke-width="1.1"/>
<text x="366.4" y="56.800000000000004" font-size="6.6" fill="#4a3fa8" stroke="#4a3fa8" stroke-width="0.1" text-anchor="end" textLength="8.3" lengthAdjust="spacingAndGlyphs">10<tspan dy="-2.9" font-size="4.22">4</tspan></text>
<text x="366.4" y="71.9" font-size="6.6" fill="#4a3fa8" stroke="#4a3fa8" stroke-width="0.1" text-anchor="end" textLength="8.3" lengthAdjust="spacingAndGlyphs">10<tspan dy="-2.9" font-size="4.22">3</tspan></text>
<text x="366.4" y="87.3" font-size="6.6" fill="#4a3fa8" stroke="#4a3fa8" stroke-width="0.1" text-anchor="end" textLength="8.3" lengthAdjust="spacingAndGlyphs">10<tspan dy="-2.9" font-size="4.22">2</tspan></text>
<text x="366.4" y="101.8" font-size="6.6" fill="#4a3fa8" stroke="#4a3fa8" stroke-width="0.1" text-anchor="end" textLength="8.3" lengthAdjust="spacingAndGlyphs">10<tspan dy="-2.9" font-size="4.22">1</tspan></text>
<text x="368.3" y="112.10000000000001" font-size="6.6" fill="#4a3fa8" stroke="#4a3fa8" stroke-width="0.1" text-anchor="start" textLength="8.3" lengthAdjust="spacingAndGlyphs">10<tspan dy="-2.9" font-size="4.22">1</tspan></text>
<text x="381.2" y="112.10000000000001" font-size="6.6" fill="#4a3fa8" stroke="#4a3fa8" stroke-width="0.1" text-anchor="start" textLength="8.3" lengthAdjust="spacingAndGlyphs">10<tspan dy="-2.9" font-size="4.22">2</tspan></text>
<text x="397.7" y="112.10000000000001" font-size="6.6" fill="#4a3fa8" stroke="#4a3fa8" stroke-width="0.1" text-anchor="start" textLength="8.3" lengthAdjust="spacingAndGlyphs">10<tspan dy="-2.9" font-size="4.22">3</tspan></text>
<text x="413.0" y="112.10000000000001" font-size="6.6" fill="#4a3fa8" stroke="#4a3fa8" stroke-width="0.1" text-anchor="start" textLength="8.3" lengthAdjust="spacingAndGlyphs">10<tspan dy="-2.9" font-size="4.22">4</tspan></text>
<text x="369.6" y="59.599999999999994" font-size="6.5" text-anchor="start" font-weight="bold" fill="#111" textLength="19.3" lengthAdjust="spacingAndGlyphs">23.55%</text>
<text x="418.0" y="59.599999999999994" font-size="6.5" text-anchor="end" font-weight="bold" fill="#111" textLength="14.6" lengthAdjust="spacingAndGlyphs">1.72%</text>
<text x="369.6" y="101.0" font-size="6.5" text-anchor="start" font-weight="bold" fill="#111" textLength="18.8" lengthAdjust="spacingAndGlyphs">61.06%</text>
<text x="418.0" y="101.0" font-size="6.5" text-anchor="end" font-weight="bold" fill="#111" textLength="18.4" lengthAdjust="spacingAndGlyphs">13.67%</text>
<rect x="70.8" y="203.9" width="1.2" height="1.2" fill="#5a5ae0" fill-opacity="0.77"/>
<rect x="75.8" y="211.7" width="0.8" height="0.8" fill="#5a5ae0" fill-opacity="0.72"/>
<rect x="77.4" y="182.7" width="0.8" height="0.8" fill="#5a5ae0" fill-opacity="0.75"/>
<rect x="48.9" y="192.2" width="0.8" height="0.8" fill="#5a5ae0" fill-opacity="0.49"/>
<rect x="48.4" y="182.7" width="1.2" height="1.2" fill="#5a5ae0" fill-opacity="0.41"/>
<rect x="56.0" y="211.4" width="1.0" height="1.0" fill="#5a5ae0" fill-opacity="0.38"/>
<rect x="78.3" y="178.0" width="1.2" height="1.2" fill="#5a5ae0" fill-opacity="0.52"/>
<rect x="49.7" y="213.8" width="0.8" height="0.8" fill="#5a5ae0" fill-opacity="0.40"/>
<rect x="53.3" y="214.2" width="0.8" height="0.8" fill="#5a5ae0" fill-opacity="0.44"/>
<rect x="85.3" y="195.2" width="1.2" height="1.2" fill="#5a5ae0" fill-opacity="0.61"/>
<rect x="51.8" y="213.6" width="0.8" height="0.8" fill="#5a5ae0" fill-opacity="0.78"/>
<rect x="82.4" y="184.8" width="1.0" height="1.0" fill="#5a5ae0" fill-opacity="0.51"/>
<rect x="84.2" y="183.3" width="1.0" height="1.0" fill="#5a5ae0" fill-opacity="0.45"/>
<rect x="69.9" y="172.1" width="1.2" height="1.2" fill="#5a5ae0" fill-opacity="0.65"/>
<rect x="46.8" y="187.3" width="1.0" height="1.0" fill="#5a5ae0" fill-opacity="0.54"/>
<rect x="57.6" y="192.7" width="1.2" height="1.2" fill="#5a5ae0" fill-opacity="0.39"/>
<rect x="55.0" y="212.4" width="1.2" height="1.2" fill="#5a5ae0" fill-opacity="0.48"/>
<rect x="61.4" y="195.6" width="1.0" height="1.0" fill="#5a5ae0" fill-opacity="0.48"/>
<rect x="68.9" y="172.4" width="0.8" height="0.8" fill="#5a5ae0" fill-opacity="0.65"/>
<rect x="70.8" y="213.0" width="0.8" height="0.8" fill="#5a5ae0" fill-opacity="0.68"/>
<rect x="84.0" y="212.5" width="1.0" height="1.0" fill="#5a5ae0" fill-opacity="0.56"/>
<rect x="82.4" y="182.8" width="1.0" height="1.0" fill="#5a5ae0" fill-opacity="0.35"/>
<rect x="76.2" y="206.3" width="1.0" height="1.0" fill="#5a5ae0" fill-opacity="0.32"/>
<rect x="84.7" y="175.9" width="1.0" height="1.0" fill="#5a5ae0" fill-opacity="0.56"/>
<rect x="59.6" y="178.4" width="1.0" height="1.0" fill="#5a5ae0" fill-opacity="0.76"/>
<rect x="67.4" y="185.4" width="1.0" height="1.0" fill="#5a5ae0" fill-opacity="0.45"/>
<rect x="78.3" y="199.0" width="1.2" height="1.2" fill="#5a5ae0" fill-opacity="0.64"/>
<rect x="86.9" y="178.9" width="0.8" height="0.8" fill="#5a5ae0" fill-opacity="0.34"/>
<rect x="69.8" y="211.7" width="0.8" height="0.8" fill="#5a5ae0" fill-opacity="0.42"/>
<rect x="69.5" y="207.5" width="1.0" height="1.0" fill="#5a5ae0" fill-opacity="0.63"/>
<rect x="50.3" y="214.1" width="1.2" height="1.2" fill="#5a5ae0" fill-opacity="0.32"/>
<rect x="65.2" y="208.1" width="0.8" height="0.8" fill="#5a5ae0" fill-opacity="0.79"/>
<rect x="68.3" y="177.7" width="1.0" height="1.0" fill="#5a5ae0" fill-opacity="0.35"/>
<rect x="62.7" y="178.4" width="1.0" height="1.0" fill="#5a5ae0" fill-opacity="0.45"/>
<rect x="63.5" y="215.0" width="0.8" height="0.8" fill="#5a5ae0" fill-opacity="0.79"/>
<rect x="63.5" y="193.0" width="1.2" height="1.2" fill="#5a5ae0" fill-opacity="0.46"/>
<rect x="55.8" y="192.2" width="0.8" height="0.8" fill="#5a5ae0" fill-opacity="0.36"/>
<rect x="79.3" y="194.9" width="0.8" height="0.8" fill="#5a5ae0" fill-opacity="0.61"/>
<rect x="65.5" y="186.6" width="0.8" height="0.8" fill="#5a5ae0" fill-opacity="0.55"/>
<rect x="66.2" y="195.6" width="1.2" height="1.2" fill="#5a5ae0" fill-opacity="0.48"/>
<rect x="77.8" y="205.3" width="1.2" height="1.2" fill="#5a5ae0" fill-opacity="0.59"/>
<rect x="45.5" y="185.1" width="1.2" height="1.2" fill="#5a5ae0" fill-opacity="0.65"/>
<rect x="56.1" y="192.9" width="1.2" height="1.2" fill="#5a5ae0" fill-opacity="0.66"/>
<rect x="85.1" y="186.6" width="0.8" height="0.8" fill="#5a5ae0" fill-opacity="0.59"/>
<rect x="44.5" y="195.5" width="1.0" height="1.0" fill="#5a5ae0" fill-opacity="0.46"/>
<rect x="55.8" y="184.4" width="1.2" height="1.2" fill="#5a5ae0" fill-opacity="0.62"/>
<rect x="78.3" y="187.0" width="1.2" height="1.2" fill="#5a5ae0" fill-opacity="0.47"/>
<rect x="84.3" y="189.6" width="0.8" height="0.8" fill="#5a5ae0" fill-opacity="0.73"/>
<rect x="73.6" y="214.0" width="1.0" height="1.0" fill="#5a5ae0" fill-opacity="0.56"/>
<rect x="66.8" y="179.1" width="1.0" height="1.0" fill="#5a5ae0" fill-opacity="0.77"/>
<rect x="64.5" y="201.7" width="1.2" height="1.2" fill="#5a5ae0" fill-opacity="0.64"/>
<rect x="61.9" y="198.5" width="1.2" height="1.2" fill="#5a5ae0" fill-opacity="0.56"/>
<rect x="84.3" y="185.0" width="1.2" height="1.2" fill="#5a5ae0" fill-opacity="0.69"/>
<rect x="71.4" y="203.0" width="0.8" height="0.8" fill="#5a5ae0" fill-opacity="0.40"/>
<rect x="69.2" y="198.8" width="0.8" height="0.8" fill="#5a5ae0" fill-opacity="0.41"/>
<path d="M67.82 202.50 C67.77 203.70 67.25 204.99 66.54 206.05 C65.82 207.10 64.70 207.97 63.54 208.83 C62.38 209.70 61.09 210.93 59.59 211.27 C58.09 211.61 56.13 211.20 54.53 210.88 C52.92 210.55 51.21 210.10 49.96 209.32 C48.71 208.55 47.65 207.35 47.02 206.22 C46.39 205.08 46.22 203.75 46.18 202.50 C46.14 201.25 46.12 199.81 46.77 198.69 C47.42 197.57 48.79 196.58 50.07 195.78 C51.35 194.98 52.88 194.18 54.46 193.89 C56.03 193.59 57.88 193.75 59.50 194.03 C61.12 194.30 62.96 194.74 64.18 195.54 C65.40 196.34 66.22 197.68 66.83 198.84 C67.43 200.00 67.87 201.30 67.82 202.50Z" fill="#a8a8ee" fill-opacity="0.3"/>
<path d="M67.96 202.47 C67.88 203.60 67.16 204.83 66.42 205.86 C65.68 206.90 64.65 207.80 63.53 208.68 C62.41 209.56 61.21 210.79 59.69 211.15 C58.17 211.51 56.04 211.12 54.39 210.85 C52.74 210.57 51.00 210.29 49.79 209.49 C48.58 208.69 47.78 207.19 47.16 206.05 C46.54 204.91 46.12 203.86 46.08 202.63 C46.03 201.41 46.20 199.85 46.88 198.71 C47.55 197.56 48.87 196.55 50.14 195.76 C51.41 194.96 52.92 194.19 54.50 193.93 C56.08 193.68 57.99 193.97 59.60 194.21 C61.22 194.46 62.97 194.59 64.19 195.39 C65.41 196.19 66.31 197.85 66.93 199.03 C67.56 200.21 68.05 201.33 67.96 202.47Z" fill="none" stroke="#4a4ae0" stroke-opacity="0.8" stroke-width="0.5"/>
<path d="M66.87 202.93 C66.93 204.12 66.53 205.07 65.92 205.98 C65.32 206.88 64.40 207.68 63.24 208.37 C62.07 209.06 60.31 209.79 58.96 210.11 C57.60 210.42 56.56 210.54 55.11 210.26 C53.66 209.98 51.40 209.23 50.26 208.44 C49.12 207.65 48.79 206.45 48.28 205.50 C47.78 204.55 47.37 203.92 47.23 202.76 C47.10 201.60 46.92 199.58 47.47 198.55 C48.03 197.51 49.31 197.19 50.57 196.55 C51.83 195.92 53.68 195.10 55.06 194.76 C56.44 194.41 57.43 194.29 58.84 194.48 C60.26 194.67 62.42 195.19 63.54 195.91 C64.66 196.64 65.01 197.65 65.57 198.82 C66.12 199.99 66.81 201.74 66.87 202.93Z" fill="#a8a8ee" fill-opacity="0.12" stroke="#4a4ae0" stroke-opacity="0.8" stroke-width="0.5"/>
<path d="M66.14 202.34 C66.11 203.38 65.82 204.94 65.16 205.86 C64.50 206.78 63.25 207.26 62.19 207.86 C61.13 208.46 60.07 209.21 58.82 209.46 C57.57 209.71 56.01 209.55 54.68 209.37 C53.35 209.19 51.76 209.09 50.81 208.39 C49.87 207.69 49.48 206.19 49.00 205.16 C48.51 204.14 47.88 203.15 47.89 202.25 C47.90 201.35 48.52 200.63 49.04 199.77 C49.56 198.91 50.00 197.83 51.02 197.11 C52.04 196.39 53.85 195.65 55.15 195.45 C56.45 195.25 57.61 195.60 58.82 195.89 C60.03 196.19 61.31 196.60 62.39 197.22 C63.47 197.84 64.67 198.76 65.30 199.61 C65.92 200.47 66.16 201.30 66.14 202.34Z" fill="#a8a8ee" fill-opacity="0.12" stroke="#4a4ae0" stroke-opacity="0.8" stroke-width="0.5"/>
<path d="M64.65 202.08 C64.57 202.93 64.30 204.31 63.83 205.09 C63.36 205.88 62.67 206.22 61.83 206.79 C60.98 207.37 59.93 208.24 58.74 208.54 C57.55 208.85 55.85 208.78 54.70 208.61 C53.54 208.45 52.67 208.12 51.82 207.57 C50.98 207.03 50.01 206.23 49.63 205.36 C49.24 204.50 49.53 203.33 49.52 202.39 C49.52 201.45 49.20 200.61 49.59 199.73 C49.99 198.84 51.05 197.66 51.91 197.09 C52.76 196.51 53.54 196.43 54.71 196.28 C55.87 196.13 57.67 196.05 58.90 196.17 C60.12 196.29 61.16 196.38 62.07 197.01 C62.98 197.64 63.90 199.12 64.33 199.96 C64.76 200.81 64.73 201.22 64.65 202.08Z" fill="#a8a8ee" fill-opacity="0.12" stroke="#4a4ae0" stroke-opacity="0.8" stroke-width="0.5"/>
<path d="M63.52 202.14 C63.39 202.94 63.20 203.76 62.82 204.54 C62.44 205.32 61.91 206.19 61.22 206.83 C60.53 207.48 59.70 208.23 58.70 208.38 C57.69 208.53 56.21 207.93 55.20 207.73 C54.19 207.53 53.34 207.63 52.64 207.19 C51.94 206.75 51.48 205.85 51.00 205.08 C50.51 204.31 49.89 203.46 49.72 202.57 C49.56 201.68 49.55 200.44 50.01 199.73 C50.47 199.02 51.63 198.78 52.47 198.31 C53.32 197.84 54.07 197.17 55.05 196.90 C56.04 196.62 57.22 196.42 58.37 196.67 C59.52 196.91 61.10 197.84 61.96 198.36 C62.82 198.88 63.29 199.16 63.55 199.79 C63.81 200.42 63.64 201.35 63.52 202.14Z" fill="#a8a8ee" fill-opacity="0.12" stroke="#4a4ae0" stroke-opacity="0.8" stroke-width="0.5"/>
<path d="M52.30 183.50 C52.58 183.08 52.97 181.42 54.00 181.00 C55.03 180.58 57.42 180.58 58.50 181.00 C59.58 181.42 60.20 182.25 60.50 183.50 C60.80 184.75 60.63 187.22 60.30 188.50 C59.97 189.78 59.55 190.75 58.50 191.20 C57.45 191.65 55.03 191.65 54.00 191.20 C52.97 190.75 52.58 189.78 52.30 188.50 C52.02 187.22 52.30 184.33 52.30 183.50" fill="none" stroke="#3a3ad0" stroke-opacity="0.9" stroke-width="0.65"/>
<path d="M54.00 186.50 C54.25 186.25 55.00 185.08 55.50 185.00 C56.00 184.92 56.92 185.53 57.00 186.00 C57.08 186.47 56.45 187.55 56.00 187.80 C55.55 188.05 54.58 187.55 54.30 187.50" fill="none" stroke="#3a3ad0" stroke-opacity="0.9" stroke-width="0.55"/>
<path d="M50.00 196.00 C48.17 195.50 51.00 192.75 52.00 192.00 C53.00 191.25 54.50 191.50 56.00 191.50 C57.50 191.50 59.83 191.42 61.00 192.00 C62.17 192.58 64.83 194.33 63.00 195.00 C61.17 195.67 51.83 196.50 50.00 196.00Z" fill="#a8a8ee" fill-opacity="0.12"/>
<path d="M50.13 196.17 C48.26 195.63 50.86 192.70 51.83 191.90 C52.79 191.10 54.38 191.35 55.92 191.38 C57.45 191.41 59.84 191.46 61.02 192.09 C62.21 192.72 64.85 194.48 63.03 195.16 C61.22 195.84 52.00 196.71 50.13 196.17Z" fill="none" stroke="#4a4ae0" stroke-opacity="0.8" stroke-width="0.5"/>
<path d="M73.50 204.00 C73.33 203.25 73.92 201.28 74.50 200.50 C75.08 199.72 76.25 199.30 77.00 199.30 C77.75 199.30 78.92 199.88 79.00 200.50 C79.08 201.12 78.08 202.25 77.50 203.00 C76.92 203.75 76.17 204.83 75.50 205.00 C74.83 205.17 73.67 204.75 73.50 204.00Z" fill="#a8a8ee" fill-opacity="0.12"/>
<path d="M73.54 204.09 C73.37 203.38 73.93 201.40 74.48 200.60 C75.03 199.80 76.12 199.31 76.86 199.29 C77.59 199.26 78.80 199.86 78.90 200.45 C79.00 201.04 78.02 202.09 77.45 202.83 C76.89 203.57 76.16 204.68 75.51 204.89 C74.85 205.10 73.71 204.81 73.54 204.09Z" fill="none" stroke="#4a4ae0" stroke-opacity="0.8" stroke-width="0.55"/>
<path d="M74.45 203.35 C74.42 202.97 74.64 201.91 75.03 201.42 C75.41 200.93 76.17 200.51 76.74 200.44 C77.31 200.36 78.33 200.63 78.44 200.98 C78.55 201.34 77.93 202.13 77.40 202.58 C76.86 203.03 75.74 203.56 75.25 203.69 C74.76 203.82 74.49 203.73 74.45 203.35Z" fill="none" stroke="#4a4ae0" stroke-opacity="0.8" stroke-width="0.55"/>
<ellipse cx="56.8" cy="201.7" rx="7.54" ry="6.76" fill="#3c3cd8" fill-opacity="0.3" transform="rotate(0 56.8 201.7)"/>
<ellipse cx="56.8" cy="201.7" rx="5.80" ry="5.20" fill="#2222ee" transform="rotate(0 56.8 201.7)"/>
<ellipse cx="56.8" cy="201.7" rx="4.87" ry="4.37" fill="#12c8ff" transform="rotate(0 56.8 201.7)"/>
<ellipse cx="56.8" cy="201.7" rx="4.06" ry="3.64" fill="#2aa83a" transform="rotate(0 56.8 201.7)"/>
<ellipse cx="56.8" cy="201.7" rx="3.25" ry="2.91" fill="#eaea10" transform="rotate(0 56.8 201.7)"/>
<ellipse cx="56.8" cy="201.7" rx="2.32" ry="2.08" fill="#ff8a00" transform="rotate(0 56.8 201.7)"/>
<ellipse cx="56.8" cy="201.7" rx="1.39" ry="1.25" fill="#ff1010" transform="rotate(0 56.8 201.7)"/>
<ellipse cx="63" cy="202" rx="2" ry="1.8" fill="#70e8ff"/>
<line x1="42.8" y1="195.8" x2="88.5" y2="195.8" stroke="#6e6e6e" stroke-width="0.9"/>
<line x1="61.2" y1="170.4" x2="61.2" y2="217.8" stroke="#6e6e6e" stroke-width="0.9"/>
<path d="M42.8 170.4 L42.8 217.8 L88.5 217.8" fill="none" stroke="#2d3a66" stroke-width="1.1"/>
<text x="40.199999999999996" y="173.5" font-size="6.6" fill="#4a3fa8" stroke="#4a3fa8" stroke-width="0.1" text-anchor="end" textLength="8.3" lengthAdjust="spacingAndGlyphs">10<tspan dy="-2.9" font-size="4.22">4</tspan></text>
<text x="40.199999999999996" y="188.79999999999998" font-size="6.6" fill="#4a3fa8" stroke="#4a3fa8" stroke-width="0.1" text-anchor="end" textLength="8.3" lengthAdjust="spacingAndGlyphs">10<tspan dy="-2.9" font-size="4.22">3</tspan></text>
<text x="40.199999999999996" y="204.2" font-size="6.6" fill="#4a3fa8" stroke="#4a3fa8" stroke-width="0.1" text-anchor="end" textLength="8.3" lengthAdjust="spacingAndGlyphs">10<tspan dy="-2.9" font-size="4.22">2</tspan></text>
<text x="40.199999999999996" y="217.2" font-size="6.6" fill="#4a3fa8" stroke="#4a3fa8" stroke-width="0.1" text-anchor="end" textLength="8.3" lengthAdjust="spacingAndGlyphs">10<tspan dy="-2.9" font-size="4.22">1</tspan></text>
<text x="41.5" y="227.60000000000002" font-size="6.6" fill="#4a3fa8" stroke="#4a3fa8" stroke-width="0.1" text-anchor="start" textLength="8.3" lengthAdjust="spacingAndGlyphs">10<tspan dy="-2.9" font-size="4.22">1</tspan></text>
<text x="53.6" y="227.60000000000002" font-size="6.6" fill="#4a3fa8" stroke="#4a3fa8" stroke-width="0.1" text-anchor="start" textLength="8.3" lengthAdjust="spacingAndGlyphs">10<tspan dy="-2.9" font-size="4.22">2</tspan></text>
<text x="68.4" y="227.60000000000002" font-size="6.6" fill="#4a3fa8" stroke="#4a3fa8" stroke-width="0.1" text-anchor="start" textLength="8.3" lengthAdjust="spacingAndGlyphs">10<tspan dy="-2.9" font-size="4.22">3</tspan></text>
<text x="83.6" y="227.60000000000002" font-size="6.6" fill="#4a3fa8" stroke="#4a3fa8" stroke-width="0.1" text-anchor="start" textLength="8.3" lengthAdjust="spacingAndGlyphs">10<tspan dy="-2.9" font-size="4.22">4</tspan></text>
<text x="43.4" y="176.8" font-size="6.3" text-anchor="start" font-weight="bold" fill="#111" textLength="15.2" lengthAdjust="spacingAndGlyphs">8.02%</text>
<text x="89.5" y="176.8" font-size="6.3" text-anchor="end" font-weight="bold" fill="#111" textLength="14.8" lengthAdjust="spacingAndGlyphs">0.76%</text>
<text x="43.4" y="216.3" font-size="6.3" text-anchor="start" font-weight="bold" fill="#111" textLength="18.0" lengthAdjust="spacingAndGlyphs">76.50%</text>
<text x="89.5" y="216.3" font-size="6.3" text-anchor="end" font-weight="bold" fill="#111" textLength="17.5" lengthAdjust="spacingAndGlyphs">14.72%</text>
<rect x="145.1" y="206.5" width="1.0" height="1.0" fill="#5a5ae0" fill-opacity="0.68"/>
<rect x="112.6" y="178.1" width="1.2" height="1.2" fill="#5a5ae0" fill-opacity="0.54"/>
<rect x="143.7" y="187.7" width="0.8" height="0.8" fill="#5a5ae0" fill-opacity="0.44"/>
<rect x="145.5" y="202.7" width="1.0" height="1.0" fill="#5a5ae0" fill-opacity="0.76"/>
<rect x="134.2" y="176.0" width="1.2" height="1.2" fill="#5a5ae0" fill-opacity="0.58"/>
<rect x="145.6" y="183.2" width="1.2" height="1.2" fill="#5a5ae0" fill-opacity="0.64"/>
<rect x="147.3" y="186.1" width="0.8" height="0.8" fill="#5a5ae0" fill-opacity="0.48"/>
<rect x="128.6" y="182.5" width="1.2" height="1.2" fill="#5a5ae0" fill-opacity="0.35"/>
<rect x="119.5" y="198.7" width="1.0" height="1.0" fill="#5a5ae0" fill-opacity="0.35"/>
<rect x="113.0" y="209.9" width="1.2" height="1.2" fill="#5a5ae0" fill-opacity="0.76"/>
<rect x="131.9" y="207.0" width="0.8" height="0.8" fill="#5a5ae0" fill-opacity="0.56"/>
<rect x="138.7" y="201.3" width="1.2" height="1.2" fill="#5a5ae0" fill-opacity="0.79"/>
<rect x="112.2" y="187.2" width="1.2" height="1.2" fill="#5a5ae0" fill-opacity="0.51"/>
<rect x="126.4" y="177.0" width="1.2" height="1.2" fill="#5a5ae0" fill-opacity="0.74"/>
<rect x="133.6" y="176.9" width="1.2" height="1.2" fill="#5a5ae0" fill-opacity="0.43"/>
<rect x="141.9" y="188.0" width="0.8" height="0.8" fill="#5a5ae0" fill-opacity="0.37"/>
<rect x="120.0" y="208.4" width="1.2" height="1.2" fill="#5a5ae0" fill-opacity="0.56"/>
<rect x="119.1" y="179.1" width="1.2" height="1.2" fill="#5a5ae0" fill-opacity="0.47"/>
<rect x="149.9" y="198.1" width="1.0" height="1.0" fill="#5a5ae0" fill-opacity="0.49"/>
<rect x="133.7" y="184.1" width="1.2" height="1.2" fill="#5a5ae0" fill-opacity="0.80"/>
<rect x="113.3" y="189.8" width="1.2" height="1.2" fill="#5a5ae0" fill-opacity="0.80"/>
<rect x="115.1" y="190.5" width="0.8" height="0.8" fill="#5a5ae0" fill-opacity="0.75"/>
<rect x="139.8" y="209.4" width="1.0" height="1.0" fill="#5a5ae0" fill-opacity="0.69"/>
<rect x="127.3" y="175.2" width="1.0" height="1.0" fill="#5a5ae0" fill-opacity="0.54"/>
<rect x="141.3" y="189.2" width="0.8" height="0.8" fill="#5a5ae0" fill-opacity="0.40"/>
<rect x="140.2" y="191.0" width="1.2" height="1.2" fill="#5a5ae0" fill-opacity="0.69"/>
<rect x="118.4" y="172.9" width="0.8" height="0.8" fill="#5a5ae0" fill-opacity="0.43"/>
<rect x="145.5" y="179.9" width="1.2" height="1.2" fill="#5a5ae0" fill-opacity="0.53"/>
<rect x="150.9" y="182.7" width="1.0" height="1.0" fill="#5a5ae0" fill-opacity="0.76"/>
<rect x="129.1" y="192.4" width="1.2" height="1.2" fill="#5a5ae0" fill-opacity="0.54"/>
<rect x="131.6" y="178.0" width="1.0" height="1.0" fill="#5a5ae0" fill-opacity="0.55"/>
<rect x="138.3" y="191.6" width="1.0" height="1.0" fill="#5a5ae0" fill-opacity="0.63"/>
<rect x="152.7" y="210.8" width="1.0" height="1.0" fill="#5a5ae0" fill-opacity="0.65"/>
<rect x="122.4" y="199.1" width="1.0" height="1.0" fill="#5a5ae0" fill-opacity="0.66"/>
<rect x="117.8" y="206.8" width="1.2" height="1.2" fill="#5a5ae0" fill-opacity="0.30"/>
<rect x="130.3" y="174.4" width="0.8" height="0.8" fill="#5a5ae0" fill-opacity="0.60"/>
<rect x="135.5" y="200.6" width="1.0" height="1.0" fill="#5a5ae0" fill-opacity="0.48"/>
<rect x="151.4" y="207.8" width="0.8" height="0.8" fill="#5a5ae0" fill-opacity="0.76"/>
<rect x="117.6" y="183.3" width="0.8" height="0.8" fill="#5a5ae0" fill-opacity="0.51"/>
<rect x="144.6" y="206.2" width="1.0" height="1.0" fill="#5a5ae0" fill-opacity="0.34"/>
<rect x="121.0" y="187.6" width="0.8" height="0.8" fill="#5a5ae0" fill-opacity="0.64"/>
<rect x="121.5" y="185.4" width="0.8" height="0.8" fill="#5a5ae0" fill-opacity="0.61"/>
<rect x="115.2" y="176.4" width="1.2" height="1.2" fill="#5a5ae0" fill-opacity="0.54"/>
<rect x="142.1" y="174.9" width="0.8" height="0.8" fill="#5a5ae0" fill-opacity="0.65"/>
<rect x="116.5" y="207.0" width="0.8" height="0.8" fill="#5a5ae0" fill-opacity="0.38"/>
<rect x="138.1" y="183.1" width="1.2" height="1.2" fill="#5a5ae0" fill-opacity="0.53"/>
<rect x="140.8" y="205.2" width="0.8" height="0.8" fill="#5a5ae0" fill-opacity="0.71"/>
<rect x="119.1" y="211.2" width="1.0" height="1.0" fill="#5a5ae0" fill-opacity="0.69"/>
<rect x="130.2" y="183.6" width="1.2" height="1.2" fill="#5a5ae0" fill-opacity="0.59"/>
<rect x="146.8" y="184.3" width="1.0" height="1.0" fill="#5a5ae0" fill-opacity="0.44"/>
<rect x="151.4" y="175.5" width="1.0" height="1.0" fill="#5a5ae0" fill-opacity="0.44"/>
<rect x="152.5" y="190.1" width="1.0" height="1.0" fill="#5a5ae0" fill-opacity="0.32"/>
<rect x="114.7" y="206.3" width="1.2" height="1.2" fill="#5a5ae0" fill-opacity="0.42"/>
<rect x="143.1" y="203.0" width="1.0" height="1.0" fill="#5a5ae0" fill-opacity="0.49"/>
<rect x="113.2" y="213.7" width="0.8" height="0.8" fill="#5a5ae0" fill-opacity="0.65"/>
<rect x="125.8" y="175.3" width="1.2" height="1.2" fill="#5a5ae0" fill-opacity="0.64"/>
<rect x="128.2" y="177.7" width="1.2" height="1.2" fill="#5a5ae0" fill-opacity="0.55"/>
<rect x="114.2" y="175.1" width="1.2" height="1.2" fill="#5a5ae0" fill-opacity="0.79"/>
<rect x="119.0" y="201.7" width="0.8" height="0.8" fill="#5a5ae0" fill-opacity="0.44"/>
<rect x="117.5" y="195.9" width="1.0" height="1.0" fill="#5a5ae0" fill-opacity="0.70"/>
<rect x="151.6" y="201.2" width="1.2" height="1.2" fill="#5a5ae0" fill-opacity="0.76"/>
<rect x="129.0" y="178.9" width="1.0" height="1.0" fill="#5a5ae0" fill-opacity="0.80"/>
<rect x="135.1" y="172.2" width="1.2" height="1.2" fill="#5a5ae0" fill-opacity="0.49"/>
<rect x="143.7" y="207.9" width="1.2" height="1.2" fill="#5a5ae0" fill-opacity="0.52"/>
<rect x="128.1" y="213.9" width="1.2" height="1.2" fill="#5a5ae0" fill-opacity="0.73"/>
<rect x="116.9" y="181.8" width="1.2" height="1.2" fill="#5a5ae0" fill-opacity="0.70"/>
<rect x="127.0" y="200.0" width="0.8" height="0.8" fill="#5a5ae0" fill-opacity="0.38"/>
<rect x="137.9" y="188.2" width="0.8" height="0.8" fill="#5a5ae0" fill-opacity="0.31"/>
<rect x="131.3" y="174.5" width="1.2" height="1.2" fill="#5a5ae0" fill-opacity="0.66"/>
<rect x="115.3" y="187.4" width="0.8" height="0.8" fill="#5a5ae0" fill-opacity="0.33"/>
<rect x="120.7" y="189.1" width="1.2" height="1.2" fill="#5a5ae0" fill-opacity="0.64"/>
<rect x="151.9" y="175.9" width="0.8" height="0.8" fill="#5a5ae0" fill-opacity="0.66"/>
<rect x="148.2" y="179.1" width="1.2" height="1.2" fill="#5a5ae0" fill-opacity="0.52"/>
<rect x="152.2" y="201.5" width="0.8" height="0.8" fill="#5a5ae0" fill-opacity="0.33"/>
<rect x="150.6" y="203.5" width="1.2" height="1.2" fill="#5a5ae0" fill-opacity="0.80"/>
<rect x="129.3" y="201.7" width="1.0" height="1.0" fill="#5a5ae0" fill-opacity="0.52"/>
<rect x="119.7" y="208.1" width="1.2" height="1.2" fill="#5a5ae0" fill-opacity="0.69"/>
<rect x="120.2" y="196.9" width="1.0" height="1.0" fill="#5a5ae0" fill-opacity="0.56"/>
<rect x="142.5" y="212.9" width="1.2" height="1.2" fill="#5a5ae0" fill-opacity="0.74"/>
<rect x="125.2" y="193.7" width="1.2" height="1.2" fill="#5a5ae0" fill-opacity="0.60"/>
<path d="M113.50 193.00 C110.58 192.00 113.25 188.83 113.50 187.00 C113.75 185.17 114.33 183.50 115.00 182.00 C115.67 180.50 116.50 179.00 117.50 178.00 C118.50 177.00 119.75 176.28 121.00 176.00 C122.25 175.72 123.83 175.88 125.00 176.30 C126.17 176.72 127.25 177.55 128.00 178.50 C128.75 179.45 129.08 180.58 129.50 182.00 C129.92 183.42 130.25 185.17 130.50 187.00 C130.75 188.83 133.83 192.00 131.00 193.00 C128.17 194.00 116.42 194.00 113.50 193.00Z" fill="#a8a8ee" fill-opacity="0.32"/>
<path d="M113.36 193.08 C110.43 192.11 113.06 188.92 113.32 187.08 C113.57 185.25 114.16 183.58 114.90 182.08 C115.63 180.59 116.69 179.09 117.73 178.09 C118.76 177.08 119.89 176.35 121.11 176.05 C122.33 175.75 123.87 175.89 125.04 176.29 C126.21 176.69 127.41 177.47 128.14 178.45 C128.88 179.43 129.03 180.79 129.45 182.17 C129.86 183.55 130.40 184.94 130.64 186.73 C130.88 188.51 133.78 191.84 130.90 192.90 C128.02 193.96 116.29 194.05 113.36 193.08Z" fill="none" stroke="#3a3ad0" stroke-opacity="0.85" stroke-width="0.5"/>
<path d="M114.20 191.87 C111.54 190.93 114.18 188.61 114.48 187.06 C114.78 185.51 115.35 183.82 116.01 182.57 C116.67 181.31 117.49 180.50 118.44 179.54 C119.39 178.57 120.62 176.98 121.73 176.78 C122.83 176.58 124.16 177.88 125.09 178.36 C126.02 178.84 126.62 178.99 127.30 179.67 C127.98 180.36 128.73 181.23 129.17 182.46 C129.61 183.70 129.72 185.36 129.93 187.07 C130.14 188.78 133.04 191.93 130.41 192.73 C127.79 193.53 116.85 192.82 114.20 191.87Z" fill="#a8a8ee" fill-opacity="0.16" stroke="#3a3ad0" stroke-opacity="0.85" stroke-width="0.5"/>
<path d="M115.50 191.32 C113.24 190.60 115.09 188.81 115.24 187.43 C115.40 186.04 115.94 184.19 116.44 183.01 C116.94 181.83 117.44 181.01 118.26 180.37 C119.08 179.74 120.46 179.39 121.35 179.20 C122.25 179.01 122.86 178.98 123.63 179.25 C124.40 179.52 125.37 180.07 125.98 180.82 C126.59 181.57 126.90 182.76 127.30 183.74 C127.71 184.72 128.17 185.37 128.43 186.70 C128.68 188.04 130.99 190.96 128.84 191.73 C126.69 192.50 117.77 192.04 115.50 191.32Z" fill="#a8a8ee" fill-opacity="0.16" stroke="#3a3ad0" stroke-opacity="0.85" stroke-width="0.5"/>
<path d="M116.86 191.76 C115.20 191.23 117.25 189.28 117.26 188.02 C117.27 186.76 116.62 185.20 116.90 184.20 C117.19 183.20 118.28 182.59 118.97 182.04 C119.66 181.49 120.28 181.24 121.02 180.90 C121.76 180.57 122.66 179.88 123.41 180.01 C124.16 180.15 124.86 181.04 125.50 181.71 C126.14 182.37 126.89 182.97 127.23 184.00 C127.57 185.02 127.54 186.66 127.53 187.86 C127.53 189.06 128.97 190.55 127.19 191.20 C125.42 191.85 118.51 192.29 116.86 191.76Z" fill="#a8a8ee" fill-opacity="0.16" stroke="#3a3ad0" stroke-opacity="0.85" stroke-width="0.5"/>
<path d="M117.77 190.91 C116.25 190.34 116.82 188.39 116.95 187.30 C117.09 186.21 118.23 185.04 118.56 184.36 C118.90 183.68 118.58 183.64 118.98 183.21 C119.38 182.78 120.24 182.01 120.97 181.78 C121.69 181.55 122.57 181.55 123.34 181.83 C124.11 182.10 125.12 182.86 125.60 183.45 C126.08 184.04 125.98 184.63 126.21 185.36 C126.43 186.10 126.96 186.96 126.94 187.85 C126.92 188.75 127.60 190.20 126.07 190.71 C124.55 191.22 119.29 191.48 117.77 190.91Z" fill="#a8a8ee" fill-opacity="0.16" stroke="#3a3ad0" stroke-opacity="0.85" stroke-width="0.5"/>
<path d="M118.13 190.56 C116.93 190.24 118.78 188.88 118.97 188.03 C119.16 187.18 119.10 186.03 119.26 185.46 C119.43 184.89 119.48 185.07 119.96 184.61 C120.44 184.15 121.70 182.89 122.14 182.71 C122.58 182.53 122.28 183.28 122.61 183.54 C122.94 183.80 123.68 183.92 124.10 184.24 C124.53 184.57 125.04 184.95 125.16 185.51 C125.28 186.07 124.68 186.87 124.85 187.61 C125.02 188.35 127.28 189.45 126.16 189.95 C125.05 190.44 119.33 190.88 118.13 190.56Z" fill="#a8a8ee" fill-opacity="0.16" stroke="#3a3ad0" stroke-opacity="0.85" stroke-width="0.5"/>
<path d="M130.50 193.00 C129.58 192.08 130.92 189.00 131.50 187.50 C132.08 186.00 133.08 184.42 134.00 184.00 C134.92 183.58 136.33 184.17 137.00 185.00 C137.67 185.83 138.00 187.67 138.00 189.00 C138.00 190.33 138.25 192.33 137.00 193.00 C135.75 193.67 131.42 193.92 130.50 193.00Z" fill="#a8a8ee" fill-opacity="0.12"/>
<path d="M130.36 192.85 C129.47 191.95 131.09 189.05 131.69 187.57 C132.28 186.10 133.02 184.44 133.93 184.00 C134.84 183.57 136.49 184.12 137.15 184.97 C137.81 185.83 137.90 187.80 137.89 189.13 C137.87 190.47 138.29 192.38 137.04 193.00 C135.78 193.62 131.25 193.76 130.36 192.85Z" fill="none" stroke="#4a4ae0" stroke-opacity="0.8" stroke-width="0.5"/>
<path d="M131.44 191.82 C130.74 191.16 131.95 188.67 132.49 187.59 C133.04 186.52 134.04 185.60 134.70 185.36 C135.36 185.12 136.10 185.67 136.43 186.18 C136.76 186.69 136.62 187.52 136.66 188.41 C136.70 189.31 137.55 190.95 136.68 191.52 C135.81 192.09 132.13 192.47 131.44 191.82Z" fill="none" stroke="#4a4ae0" stroke-opacity="0.8" stroke-width="0.5"/>
<path d="M145.01 202.00 C145.04 203.09 145.06 204.32 144.29 205.29 C143.51 206.26 141.76 207.01 140.35 207.83 C138.95 208.66 137.67 209.84 135.86 210.25 C134.05 210.67 131.59 210.37 129.50 210.32 C127.41 210.28 125.32 210.32 123.34 210.00 C121.36 209.67 119.01 209.18 117.61 208.39 C116.20 207.60 115.73 206.32 114.90 205.25 C114.07 204.19 112.70 203.11 112.60 202.00 C112.50 200.89 113.39 199.64 114.31 198.62 C115.23 197.60 116.63 196.66 118.12 195.88 C119.62 195.10 121.39 194.36 123.28 193.93 C125.18 193.50 127.46 193.27 129.50 193.31 C131.54 193.35 133.52 193.81 135.52 194.19 C137.52 194.56 140.06 194.80 141.49 195.56 C142.92 196.32 143.53 197.67 144.11 198.75 C144.70 199.82 144.98 200.91 145.01 202.00Z" fill="#a8a8ee" fill-opacity="0.25"/>
<path d="M144.99 201.89 C145.05 203.03 145.10 204.40 144.32 205.39 C143.54 206.38 141.74 207.00 140.31 207.81 C138.88 208.63 137.55 209.86 135.74 210.29 C133.92 210.73 131.47 210.52 129.42 210.44 C127.38 210.36 125.45 210.15 123.49 209.80 C121.52 209.44 119.09 209.10 117.64 208.33 C116.20 207.55 115.65 206.23 114.80 205.15 C113.95 204.06 112.63 202.95 112.52 201.84 C112.42 200.72 113.24 199.40 114.16 198.44 C115.08 197.47 116.54 196.78 118.05 196.05 C119.56 195.33 121.33 194.51 123.22 194.07 C125.10 193.63 127.29 193.40 129.37 193.40 C131.45 193.40 133.68 193.70 135.70 194.07 C137.73 194.45 140.15 194.90 141.52 195.65 C142.89 196.39 143.34 197.52 143.91 198.56 C144.49 199.60 144.92 200.75 144.99 201.89Z" fill="none" stroke="#4a4ae0" stroke-opacity="0.8" stroke-width="0.5"/>
<path d="M143.84 201.76 C143.80 202.82 143.78 204.19 143.11 205.10 C142.45 206.00 141.09 206.45 139.86 207.17 C138.64 207.90 137.45 208.95 135.75 209.45 C134.04 209.94 131.72 210.05 129.66 210.13 C127.59 210.20 125.32 210.32 123.37 209.88 C121.41 209.45 119.16 208.32 117.93 207.52 C116.71 206.73 116.64 206.02 116.02 205.13 C115.40 204.23 114.35 203.20 114.19 202.16 C114.03 201.12 114.18 199.81 115.04 198.89 C115.91 197.97 117.90 197.41 119.38 196.63 C120.85 195.86 122.25 194.68 123.92 194.24 C125.60 193.81 127.63 193.93 129.43 194.00 C131.23 194.06 132.86 194.32 134.71 194.64 C136.57 194.95 139.15 195.21 140.59 195.89 C142.03 196.57 142.81 197.76 143.35 198.73 C143.89 199.71 143.88 200.70 143.84 201.76Z" fill="#a8a8ee" fill-opacity="0.12" stroke="#4a4ae0" stroke-opacity="0.8" stroke-width="0.5"/>
<path d="M142.81 202.44 C142.92 203.37 142.93 204.05 142.30 204.85 C141.67 205.64 140.26 206.53 139.05 207.21 C137.83 207.90 136.58 208.57 135.00 208.97 C133.42 209.36 131.38 209.57 129.56 209.58 C127.74 209.59 125.86 209.38 124.10 209.04 C122.34 208.69 120.25 208.26 119.02 207.52 C117.79 206.78 117.45 205.57 116.73 204.60 C116.00 203.62 114.77 202.66 114.65 201.67 C114.53 200.68 115.09 199.43 116.01 198.64 C116.93 197.84 118.85 197.51 120.15 196.91 C121.45 196.30 122.22 195.47 123.83 195.01 C125.44 194.55 128.07 194.17 129.82 194.15 C131.57 194.12 132.68 194.50 134.33 194.87 C135.99 195.25 138.54 195.68 139.75 196.42 C140.96 197.15 141.09 198.26 141.60 199.26 C142.11 200.27 142.69 201.51 142.81 202.44Z" fill="#a8a8ee" fill-opacity="0.12" stroke="#4a4ae0" stroke-opacity="0.8" stroke-width="0.5"/>
<path d="M141.81 202.18 C141.90 202.99 141.96 203.39 141.26 204.13 C140.56 204.87 138.78 205.90 137.60 206.60 C136.43 207.29 135.55 207.96 134.23 208.32 C132.90 208.68 131.29 208.72 129.66 208.77 C128.02 208.82 126.10 208.99 124.44 208.63 C122.78 208.28 120.83 207.28 119.70 206.67 C118.56 206.05 118.20 205.70 117.61 204.95 C117.02 204.20 116.28 203.08 116.18 202.15 C116.07 201.22 116.20 200.21 116.97 199.38 C117.75 198.55 119.54 197.82 120.84 197.17 C122.14 196.52 123.37 195.75 124.77 195.47 C126.18 195.18 127.65 195.48 129.27 195.46 C130.89 195.44 132.91 195.17 134.49 195.35 C136.08 195.53 137.74 195.86 138.78 196.52 C139.82 197.18 140.20 198.35 140.71 199.29 C141.21 200.23 141.71 201.37 141.81 202.18Z" fill="#a8a8ee" fill-opacity="0.12" stroke="#4a4ae0" stroke-opacity="0.8" stroke-width="0.5"/>
<path d="M140.42 202.41 C140.51 203.14 141.05 203.88 140.50 204.49 C139.94 205.10 138.11 205.57 137.10 206.08 C136.09 206.58 135.71 207.27 134.42 207.52 C133.14 207.77 130.91 207.54 129.36 207.58 C127.82 207.62 126.54 207.98 125.14 207.75 C123.74 207.52 122.01 206.82 120.96 206.20 C119.90 205.58 119.34 204.72 118.80 204.02 C118.27 203.31 117.85 202.75 117.73 201.96 C117.61 201.16 117.50 200.00 118.09 199.24 C118.67 198.48 120.07 197.85 121.24 197.41 C122.41 196.97 123.73 196.88 125.09 196.61 C126.45 196.35 127.99 195.80 129.40 195.82 C130.81 195.84 132.09 196.39 133.56 196.73 C135.02 197.06 137.11 197.29 138.18 197.84 C139.25 198.40 139.60 199.31 139.97 200.07 C140.35 200.83 140.33 201.67 140.42 202.41Z" fill="#a8a8ee" fill-opacity="0.12" stroke="#4a4ae0" stroke-opacity="0.8" stroke-width="0.5"/>
<path d="M139.20 202.39 C139.20 203.01 139.53 203.21 139.10 203.75 C138.67 204.28 137.61 205.06 136.60 205.59 C135.60 206.12 134.36 206.63 133.09 206.92 C131.81 207.21 130.18 207.27 128.96 207.33 C127.74 207.39 126.95 207.54 125.77 207.28 C124.59 207.02 122.83 206.31 121.88 205.77 C120.93 205.23 120.73 204.68 120.09 204.04 C119.46 203.41 118.12 202.62 118.09 201.94 C118.06 201.26 119.20 200.70 119.91 199.96 C120.62 199.22 121.47 197.97 122.34 197.52 C123.22 197.06 124.06 197.49 125.17 197.25 C126.28 197.00 127.65 196.15 129.00 196.02 C130.35 195.89 131.94 196.11 133.26 196.48 C134.59 196.84 135.99 197.61 136.96 198.20 C137.93 198.80 138.72 199.34 139.09 200.04 C139.46 200.74 139.20 201.77 139.20 202.39Z" fill="#a8a8ee" fill-opacity="0.12" stroke="#4a4ae0" stroke-opacity="0.8" stroke-width="0.5"/>
<line x1="123.8" y1="201.8" x2="133.9" y2="201.8" stroke="#3c3cd8" stroke-opacity="0.3" stroke-width="10.76" stroke-linecap="round"/>
<ellipse cx="123.8" cy="201.8" rx="7.54" ry="6.76" fill="#3c3cd8" fill-opacity="0.3" transform="rotate(0 123.8 201.8)"/>
<ellipse cx="133.9" cy="201.8" rx="6.50" ry="5.98" fill="#3c3cd8" fill-opacity="0.3" transform="rotate(0 133.9 201.8)"/>
<line x1="123.8" y1="201.8" x2="133.9" y2="201.8" stroke="#2222ee" stroke-width="8.19" stroke-linecap="round"/>
<ellipse cx="123.8" cy="201.8" rx="5.80" ry="5.20" fill="#2222ee" transform="rotate(0 123.8 201.8)"/>
<ellipse cx="133.9" cy="201.8" rx="5.00" ry="4.60" fill="#2222ee" transform="rotate(0 133.9 201.8)"/>
<line x1="123.8" y1="201.8" x2="133.9" y2="201.8" stroke="#12c8ff" stroke-width="6.01" stroke-linecap="round"/>
<ellipse cx="123.8" cy="201.8" rx="4.87" ry="4.37" fill="#12c8ff" transform="rotate(0 123.8 201.8)"/>
<ellipse cx="133.9" cy="201.8" rx="4.10" ry="3.77" fill="#12c8ff" transform="rotate(0 133.9 201.8)"/>
<line x1="123.8" y1="201.8" x2="133.9" y2="201.8" stroke="#2aa83a" stroke-width="3.42" stroke-linecap="round"/>
<ellipse cx="123.8" cy="201.8" rx="4.06" ry="3.64" fill="#2aa83a" transform="rotate(0 123.8 201.8)"/>
<ellipse cx="133.9" cy="201.8" rx="3.30" ry="3.04" fill="#2aa83a" transform="rotate(0 133.9 201.8)"/>
<line x1="123.8" y1="201.8" x2="133.9" y2="201.8" stroke="#eaea10" stroke-width="1.51" stroke-linecap="round"/>
<ellipse cx="123.8" cy="201.8" rx="3.25" ry="2.91" fill="#eaea10" transform="rotate(0 123.8 201.8)"/>
<ellipse cx="133.9" cy="201.8" rx="2.50" ry="2.30" fill="#eaea10" transform="rotate(0 133.9 201.8)"/>
<ellipse cx="123.8" cy="201.8" rx="2.32" ry="2.08" fill="#ff8a00" transform="rotate(0 123.8 201.8)"/>
<ellipse cx="133.9" cy="201.8" rx="1.60" ry="1.47" fill="#ff8a00" transform="rotate(0 133.9 201.8)"/>
<ellipse cx="123.8" cy="201.8" rx="1.39" ry="1.25" fill="#ff1010" transform="rotate(0 123.8 201.8)"/>
<line x1="109.6" y1="193.5" x2="155.8" y2="193.5" stroke="#6e6e6e" stroke-width="0.9"/>
<line x1="130.7" y1="169.6" x2="130.7" y2="216.5" stroke="#6e6e6e" stroke-width="0.9"/>
<path d="M109.6 169.6 L109.6 216.5 L155.8 216.5" fill="none" stroke="#2d3a66" stroke-width="1.1"/>
<text x="107.0" y="173.5" font-size="6.6" fill="#4a3fa8" stroke="#4a3fa8" stroke-width="0.1" text-anchor="end" textLength="8.3" lengthAdjust="spacingAndGlyphs">10<tspan dy="-2.9" font-size="4.22">4</tspan></text>
<text x="107.0" y="188.79999999999998" font-size="6.6" fill="#4a3fa8" stroke="#4a3fa8" stroke-width="0.1" text-anchor="end" textLength="8.3" lengthAdjust="spacingAndGlyphs">10<tspan dy="-2.9" font-size="4.22">3</tspan></text>
<text x="107.0" y="204.2" font-size="6.6" fill="#4a3fa8" stroke="#4a3fa8" stroke-width="0.1" text-anchor="end" textLength="8.3" lengthAdjust="spacingAndGlyphs">10<tspan dy="-2.9" font-size="4.22">2</tspan></text>
<text x="107.0" y="217.2" font-size="6.6" fill="#4a3fa8" stroke="#4a3fa8" stroke-width="0.1" text-anchor="end" textLength="8.3" lengthAdjust="spacingAndGlyphs">10<tspan dy="-2.9" font-size="4.22">1</tspan></text>
<text x="108.6" y="226.3" font-size="6.6" fill="#4a3fa8" stroke="#4a3fa8" stroke-width="0.1" text-anchor="start" textLength="8.3" lengthAdjust="spacingAndGlyphs">10<tspan dy="-2.9" font-size="4.22">1</tspan></text>
<text x="121.0" y="226.3" font-size="6.6" fill="#4a3fa8" stroke="#4a3fa8" stroke-width="0.1" text-anchor="start" textLength="8.3" lengthAdjust="spacingAndGlyphs">10<tspan dy="-2.9" font-size="4.22">2</tspan></text>
<text x="136.0" y="226.3" font-size="6.6" fill="#4a3fa8" stroke="#4a3fa8" stroke-width="0.1" text-anchor="start" textLength="8.3" lengthAdjust="spacingAndGlyphs">10<tspan dy="-2.9" font-size="4.22">3</tspan></text>
<text x="152.6" y="226.3" font-size="6.6" fill="#4a3fa8" stroke="#4a3fa8" stroke-width="0.1" text-anchor="start" textLength="8.3" lengthAdjust="spacingAndGlyphs">10<tspan dy="-2.9" font-size="4.22">4</tspan></text>
<text x="110.19999999999999" y="176.0" font-size="6.3" text-anchor="start" font-weight="bold" fill="#111" textLength="17.2" lengthAdjust="spacingAndGlyphs">16.51%</text>
<text x="156.4" y="176.0" font-size="6.3" text-anchor="end" font-weight="bold" fill="#111" textLength="15.3" lengthAdjust="spacingAndGlyphs">2.75%</text>
<text x="110.19999999999999" y="215.2" font-size="6.3" text-anchor="start" font-weight="bold" fill="#111" textLength="17.6" lengthAdjust="spacingAndGlyphs">50.85%</text>
<text x="156.4" y="215.2" font-size="6.3" text-anchor="end" font-weight="bold" fill="#111" textLength="17.4" lengthAdjust="spacingAndGlyphs">29.89%</text>
<rect x="316.3" y="180.9" width="1.2" height="1.2" fill="#5a5ae0" fill-opacity="0.32"/>
<rect x="336.7" y="178.7" width="1.2" height="1.2" fill="#5a5ae0" fill-opacity="0.33"/>
<rect x="323.8" y="176.5" width="1.0" height="1.0" fill="#5a5ae0" fill-opacity="0.51"/>
<rect x="312.9" y="196.5" width="0.8" height="0.8" fill="#5a5ae0" fill-opacity="0.71"/>
<rect x="308.1" y="183.7" width="1.2" height="1.2" fill="#5a5ae0" fill-opacity="0.59"/>
<rect x="305.5" y="197.8" width="0.8" height="0.8" fill="#5a5ae0" fill-opacity="0.79"/>
<rect x="304.9" y="208.5" width="1.0" height="1.0" fill="#5a5ae0" fill-opacity="0.51"/>
<rect x="325.2" y="197.3" width="1.2" height="1.2" fill="#5a5ae0" fill-opacity="0.71"/>
<rect x="310.4" y="197.7" width="1.2" height="1.2" fill="#5a5ae0" fill-opacity="0.39"/>
<rect x="307.0" y="202.8" width="1.2" height="1.2" fill="#5a5ae0" fill-opacity="0.33"/>
<rect x="311.4" y="201.5" width="1.0" height="1.0" fill="#5a5ae0" fill-opacity="0.69"/>
<rect x="322.1" y="211.0" width="1.0" height="1.0" fill="#5a5ae0" fill-opacity="0.45"/>
<rect x="335.6" y="202.3" width="0.8" height="0.8" fill="#5a5ae0" fill-opacity="0.34"/>
<rect x="315.3" y="194.3" width="1.0" height="1.0" fill="#5a5ae0" fill-opacity="0.66"/>
<rect x="314.8" y="213.2" width="0.8" height="0.8" fill="#5a5ae0" fill-opacity="0.56"/>
<rect x="309.8" y="188.3" width="1.0" height="1.0" fill="#5a5ae0" fill-opacity="0.51"/>
<rect x="342.4" y="178.0" width="1.2" height="1.2" fill="#5a5ae0" fill-opacity="0.59"/>
<rect x="338.9" y="187.2" width="1.2" height="1.2" fill="#5a5ae0" fill-opacity="0.48"/>
<rect x="323.4" y="206.1" width="0.8" height="0.8" fill="#5a5ae0" fill-opacity="0.72"/>
<rect x="341.7" y="193.5" width="1.2" height="1.2" fill="#5a5ae0" fill-opacity="0.33"/>
<rect x="333.0" y="187.1" width="1.2" height="1.2" fill="#5a5ae0" fill-opacity="0.80"/>
<rect x="336.7" y="186.1" width="1.0" height="1.0" fill="#5a5ae0" fill-opacity="0.74"/>
<rect x="317.2" y="211.7" width="1.0" height="1.0" fill="#5a5ae0" fill-opacity="0.38"/>
<rect x="307.8" y="177.3" width="1.0" height="1.0" fill="#5a5ae0" fill-opacity="0.36"/>
<rect x="313.2" y="190.2" width="1.0" height="1.0" fill="#5a5ae0" fill-opacity="0.34"/>
<rect x="321.4" y="196.4" width="0.8" height="0.8" fill="#5a5ae0" fill-opacity="0.71"/>
<rect x="338.4" y="185.9" width="1.0" height="1.0" fill="#5a5ae0" fill-opacity="0.79"/>
<rect x="331.0" y="189.8" width="0.8" height="0.8" fill="#5a5ae0" fill-opacity="0.38"/>
<rect x="310.2" y="184.0" width="0.8" height="0.8" fill="#5a5ae0" fill-opacity="0.31"/>
<rect x="337.1" y="182.1" width="1.0" height="1.0" fill="#5a5ae0" fill-opacity="0.30"/>
<rect x="320.2" y="189.4" width="1.2" height="1.2" fill="#5a5ae0" fill-opacity="0.46"/>
<rect x="308.1" y="208.5" width="1.2" height="1.2" fill="#5a5ae0" fill-opacity="0.63"/>
<rect x="333.3" y="192.8" width="1.2" height="1.2" fill="#5a5ae0" fill-opacity="0.70"/>
<rect x="319.1" y="190.6" width="0.8" height="0.8" fill="#5a5ae0" fill-opacity="0.54"/>
<rect x="319.4" y="182.4" width="0.8" height="0.8" fill="#5a5ae0" fill-opacity="0.52"/>
<rect x="307.5" y="198.4" width="0.8" height="0.8" fill="#5a5ae0" fill-opacity="0.30"/>
<rect x="309.2" y="179.0" width="1.0" height="1.0" fill="#5a5ae0" fill-opacity="0.61"/>
<rect x="305.9" y="183.1" width="1.0" height="1.0" fill="#5a5ae0" fill-opacity="0.37"/>
<rect x="313.3" y="188.5" width="1.0" height="1.0" fill="#5a5ae0" fill-opacity="0.54"/>
<rect x="307.7" y="194.0" width="1.0" height="1.0" fill="#5a5ae0" fill-opacity="0.54"/>
<rect x="315.8" y="180.6" width="1.2" height="1.2" fill="#5a5ae0" fill-opacity="0.47"/>
<rect x="313.9" y="207.3" width="0.8" height="0.8" fill="#5a5ae0" fill-opacity="0.56"/>
<rect x="311.4" y="212.1" width="1.0" height="1.0" fill="#5a5ae0" fill-opacity="0.37"/>
<rect x="325.3" y="176.1" width="1.2" height="1.2" fill="#5a5ae0" fill-opacity="0.45"/>
<rect x="329.4" y="178.5" width="1.0" height="1.0" fill="#5a5ae0" fill-opacity="0.56"/>
<rect x="340.2" y="188.9" width="0.8" height="0.8" fill="#5a5ae0" fill-opacity="0.57"/>
<rect x="334.9" y="187.9" width="0.8" height="0.8" fill="#5a5ae0" fill-opacity="0.61"/>
<rect x="335.3" y="204.6" width="0.8" height="0.8" fill="#5a5ae0" fill-opacity="0.70"/>
<rect x="336.6" y="203.9" width="0.8" height="0.8" fill="#5a5ae0" fill-opacity="0.40"/>
<rect x="323.2" y="203.5" width="0.8" height="0.8" fill="#5a5ae0" fill-opacity="0.70"/>
<rect x="322.4" y="182.6" width="1.2" height="1.2" fill="#5a5ae0" fill-opacity="0.78"/>
<rect x="321.3" y="211.5" width="1.0" height="1.0" fill="#5a5ae0" fill-opacity="0.78"/>
<rect x="318.0" y="183.6" width="0.8" height="0.8" fill="#5a5ae0" fill-opacity="0.54"/>
<rect x="316.8" y="193.8" width="1.2" height="1.2" fill="#5a5ae0" fill-opacity="0.72"/>
<rect x="322.7" y="200.5" width="1.2" height="1.2" fill="#5a5ae0" fill-opacity="0.34"/>
<rect x="330.1" y="210.5" width="1.2" height="1.2" fill="#5a5ae0" fill-opacity="0.68"/>
<rect x="322.6" y="182.0" width="1.2" height="1.2" fill="#5a5ae0" fill-opacity="0.47"/>
<rect x="335.8" y="212.9" width="1.0" height="1.0" fill="#5a5ae0" fill-opacity="0.53"/>
<rect x="333.5" y="178.3" width="0.8" height="0.8" fill="#5a5ae0" fill-opacity="0.39"/>
<rect x="308.2" y="180.9" width="1.0" height="1.0" fill="#5a5ae0" fill-opacity="0.70"/>
<rect x="309.0" y="207.2" width="1.0" height="1.0" fill="#5a5ae0" fill-opacity="0.63"/>
<rect x="317.4" y="196.4" width="0.8" height="0.8" fill="#5a5ae0" fill-opacity="0.31"/>
<rect x="335.8" y="203.3" width="0.8" height="0.8" fill="#5a5ae0" fill-opacity="0.56"/>
<rect x="341.3" y="191.9" width="0.8" height="0.8" fill="#5a5ae0" fill-opacity="0.71"/>
<rect x="311.7" y="184.8" width="1.0" height="1.0" fill="#5a5ae0" fill-opacity="0.55"/>
<rect x="334.3" y="187.7" width="1.2" height="1.2" fill="#5a5ae0" fill-opacity="0.51"/>
<rect x="308.4" y="210.5" width="1.0" height="1.0" fill="#5a5ae0" fill-opacity="0.75"/>
<rect x="330.2" y="206.8" width="1.2" height="1.2" fill="#5a5ae0" fill-opacity="0.51"/>
<rect x="340.6" y="194.6" width="1.2" height="1.2" fill="#5a5ae0" fill-opacity="0.38"/>
<rect x="323.9" y="209.0" width="0.8" height="0.8" fill="#5a5ae0" fill-opacity="0.60"/>
<rect x="337.9" y="183.8" width="0.9" height="0.9" fill="#5a5ae0" fill-opacity="0.71"/>
<rect x="317.8" y="195.4" width="0.9" height="0.9" fill="#5a5ae0" fill-opacity="0.61"/>
<rect x="319.8" y="191.6" width="0.9" height="0.9" fill="#5a5ae0" fill-opacity="0.73"/>
<rect x="320.2" y="196.0" width="0.9" height="0.9" fill="#5a5ae0" fill-opacity="0.71"/>
<rect x="332.0" y="185.7" width="0.9" height="0.9" fill="#5a5ae0" fill-opacity="0.46"/>
<rect x="320.8" y="191.7" width="0.9" height="0.9" fill="#5a5ae0" fill-opacity="0.40"/>
<rect x="324.4" y="194.3" width="0.9" height="0.9" fill="#5a5ae0" fill-opacity="0.58"/>
<rect x="329.1" y="187.5" width="0.9" height="0.9" fill="#5a5ae0" fill-opacity="0.72"/>
<rect x="343.3" y="173.4" width="0.9" height="0.9" fill="#5a5ae0" fill-opacity="0.72"/>
<rect x="319.5" y="195.5" width="0.9" height="0.9" fill="#5a5ae0" fill-opacity="0.69"/>
<rect x="334.1" y="188.8" width="0.9" height="0.9" fill="#5a5ae0" fill-opacity="0.69"/>
<rect x="336.6" y="191.4" width="0.9" height="0.9" fill="#5a5ae0" fill-opacity="0.33"/>
<rect x="340.9" y="178.6" width="0.9" height="0.9" fill="#5a5ae0" fill-opacity="0.54"/>
<rect x="337.5" y="180.0" width="0.9" height="0.9" fill="#5a5ae0" fill-opacity="0.77"/>
<rect x="318.2" y="196.4" width="0.9" height="0.9" fill="#5a5ae0" fill-opacity="0.48"/>
<rect x="341.2" y="178.9" width="0.9" height="0.9" fill="#5a5ae0" fill-opacity="0.54"/>
<rect x="337.7" y="185.3" width="0.9" height="0.9" fill="#5a5ae0" fill-opacity="0.35"/>
<rect x="336.7" y="182.2" width="0.9" height="0.9" fill="#5a5ae0" fill-opacity="0.54"/>
<rect x="337.8" y="181.9" width="0.9" height="0.9" fill="#5a5ae0" fill-opacity="0.30"/>
<rect x="321.4" y="194.7" width="0.9" height="0.9" fill="#5a5ae0" fill-opacity="0.50"/>
<rect x="331.4" y="186.9" width="0.9" height="0.9" fill="#5a5ae0" fill-opacity="0.43"/>
<rect x="339.4" y="183.3" width="0.9" height="0.9" fill="#5a5ae0" fill-opacity="0.31"/>
<rect x="343.2" y="182.3" width="0.9" height="0.9" fill="#5a5ae0" fill-opacity="0.49"/>
<rect x="342.7" y="174.4" width="0.9" height="0.9" fill="#5a5ae0" fill-opacity="0.54"/>
<rect x="325.6" y="190.7" width="0.9" height="0.9" fill="#5a5ae0" fill-opacity="0.61"/>
<rect x="325.2" y="194.6" width="0.9" height="0.9" fill="#5a5ae0" fill-opacity="0.39"/>
<rect x="333.8" y="186.0" width="0.9" height="0.9" fill="#5a5ae0" fill-opacity="0.37"/>
<rect x="322.5" y="192.8" width="0.9" height="0.9" fill="#5a5ae0" fill-opacity="0.64"/>
<rect x="341.4" y="188.6" width="0.9" height="0.9" fill="#5a5ae0" fill-opacity="0.49"/>
<rect x="326.1" y="188.6" width="0.9" height="0.9" fill="#5a5ae0" fill-opacity="0.68"/>
<rect x="324.3" y="190.5" width="0.9" height="0.9" fill="#5a5ae0" fill-opacity="0.43"/>
<rect x="343.9" y="176.3" width="0.9" height="0.9" fill="#5a5ae0" fill-opacity="0.46"/>
<rect x="340.5" y="182.7" width="0.9" height="0.9" fill="#5a5ae0" fill-opacity="0.67"/>
<rect x="335.4" y="181.6" width="0.9" height="0.9" fill="#5a5ae0" fill-opacity="0.50"/>
<rect x="337.6" y="183.9" width="0.9" height="0.9" fill="#5a5ae0" fill-opacity="0.58"/>
<rect x="336.0" y="184.7" width="0.9" height="0.9" fill="#5a5ae0" fill-opacity="0.64"/>
<rect x="319.0" y="198.3" width="0.9" height="0.9" fill="#5a5ae0" fill-opacity="0.32"/>
<rect x="339.0" y="177.7" width="0.9" height="0.9" fill="#5a5ae0" fill-opacity="0.64"/>
<rect x="323.4" y="196.6" width="0.9" height="0.9" fill="#5a5ae0" fill-opacity="0.59"/>
<rect x="335.5" y="182.7" width="0.9" height="0.9" fill="#5a5ae0" fill-opacity="0.38"/>
<rect x="335.2" y="184.8" width="0.9" height="0.9" fill="#5a5ae0" fill-opacity="0.65"/>
<rect x="316.7" y="196.7" width="0.9" height="0.9" fill="#5a5ae0" fill-opacity="0.72"/>
<rect x="319.2" y="194.4" width="0.9" height="0.9" fill="#5a5ae0" fill-opacity="0.50"/>
<rect x="322.4" y="197.9" width="0.9" height="0.9" fill="#5a5ae0" fill-opacity="0.32"/>
<rect x="340.0" y="176.9" width="0.9" height="0.9" fill="#5a5ae0" fill-opacity="0.77"/>
<rect x="335.9" y="181.6" width="0.9" height="0.9" fill="#5a5ae0" fill-opacity="0.63"/>
<rect x="312.6" y="192.8" width="0.9" height="0.9" fill="#5a5ae0" fill-opacity="0.49"/>
<rect x="337.8" y="186.5" width="0.9" height="0.9" fill="#5a5ae0" fill-opacity="0.57"/>
<rect x="336.8" y="185.4" width="0.9" height="0.9" fill="#5a5ae0" fill-opacity="0.39"/>
<rect x="335.3" y="184.9" width="0.9" height="0.9" fill="#5a5ae0" fill-opacity="0.63"/>
<rect x="333.8" y="190.8" width="0.9" height="0.9" fill="#5a5ae0" fill-opacity="0.41"/>
<rect x="336.1" y="185.2" width="0.9" height="0.9" fill="#5a5ae0" fill-opacity="0.63"/>
<rect x="325.8" y="189.0" width="0.9" height="0.9" fill="#5a5ae0" fill-opacity="0.55"/>
<rect x="338.9" y="184.8" width="0.9" height="0.9" fill="#5a5ae0" fill-opacity="0.41"/>
<rect x="319.8" y="189.0" width="0.9" height="0.9" fill="#5a5ae0" fill-opacity="0.56"/>
<rect x="329.0" y="190.6" width="0.9" height="0.9" fill="#5a5ae0" fill-opacity="0.77"/>
<rect x="329.6" y="185.7" width="0.9" height="0.9" fill="#5a5ae0" fill-opacity="0.39"/>
<rect x="317.5" y="199.8" width="0.9" height="0.9" fill="#5a5ae0" fill-opacity="0.56"/>
<rect x="332.2" y="179.6" width="0.9" height="0.9" fill="#5a5ae0" fill-opacity="0.70"/>
<rect x="336.9" y="180.4" width="0.9" height="0.9" fill="#5a5ae0" fill-opacity="0.54"/>
<rect x="343.7" y="177.8" width="0.9" height="0.9" fill="#5a5ae0" fill-opacity="0.73"/>
<rect x="329.2" y="188.2" width="0.9" height="0.9" fill="#5a5ae0" fill-opacity="0.60"/>
<rect x="337.9" y="181.3" width="0.9" height="0.9" fill="#5a5ae0" fill-opacity="0.64"/>
<rect x="320.5" y="197.9" width="0.9" height="0.9" fill="#5a5ae0" fill-opacity="0.79"/>
<rect x="331.0" y="181.1" width="0.9" height="0.9" fill="#5a5ae0" fill-opacity="0.48"/>
<rect x="316.7" y="196.4" width="0.9" height="0.9" fill="#5a5ae0" fill-opacity="0.38"/>
<rect x="330.2" y="190.3" width="0.9" height="0.9" fill="#5a5ae0" fill-opacity="0.35"/>
<rect x="341.4" y="185.1" width="0.9" height="0.9" fill="#5a5ae0" fill-opacity="0.39"/>
<rect x="332.4" y="189.5" width="0.9" height="0.9" fill="#5a5ae0" fill-opacity="0.55"/>
<rect x="330.3" y="192.9" width="0.9" height="0.9" fill="#5a5ae0" fill-opacity="0.32"/>
<rect x="338.9" y="179.7" width="0.9" height="0.9" fill="#5a5ae0" fill-opacity="0.51"/>
<rect x="322.5" y="197.5" width="0.9" height="0.9" fill="#5a5ae0" fill-opacity="0.54"/>
<rect x="320.3" y="190.3" width="0.9" height="0.9" fill="#5a5ae0" fill-opacity="0.55"/>
<rect x="327.1" y="184.1" width="0.9" height="0.9" fill="#5a5ae0" fill-opacity="0.32"/>
<rect x="331.7" y="182.2" width="0.9" height="0.9" fill="#5a5ae0" fill-opacity="0.38"/>
<rect x="340.1" y="178.9" width="0.9" height="0.9" fill="#5a5ae0" fill-opacity="0.77"/>
<rect x="318.3" y="195.6" width="0.9" height="0.9" fill="#5a5ae0" fill-opacity="0.39"/>
<rect x="333.8" y="181.6" width="0.9" height="0.9" fill="#5a5ae0" fill-opacity="0.42"/>
<rect x="329.8" y="187.6" width="0.9" height="0.9" fill="#5a5ae0" fill-opacity="0.51"/>
<rect x="329.1" y="189.3" width="0.9" height="0.9" fill="#5a5ae0" fill-opacity="0.55"/>
<rect x="327.0" y="184.4" width="0.9" height="0.9" fill="#5a5ae0" fill-opacity="0.67"/>
<rect x="322.5" y="191.5" width="0.9" height="0.9" fill="#5a5ae0" fill-opacity="0.41"/>
<rect x="333.0" y="182.4" width="0.9" height="0.9" fill="#5a5ae0" fill-opacity="0.72"/>
<rect x="330.4" y="190.1" width="0.9" height="0.9" fill="#5a5ae0" fill-opacity="0.67"/>
<rect x="344.0" y="181.7" width="0.9" height="0.9" fill="#5a5ae0" fill-opacity="0.69"/>
<rect x="326.3" y="196.3" width="0.9" height="0.9" fill="#5a5ae0" fill-opacity="0.36"/>
<rect x="324.2" y="188.7" width="0.9" height="0.9" fill="#5a5ae0" fill-opacity="0.77"/>
<rect x="329.2" y="188.9" width="0.9" height="0.9" fill="#5a5ae0" fill-opacity="0.71"/>
<rect x="321.7" y="196.3" width="0.9" height="0.9" fill="#5a5ae0" fill-opacity="0.70"/>
<rect x="323.6" y="192.4" width="0.9" height="0.9" fill="#5a5ae0" fill-opacity="0.44"/>
<rect x="343.1" y="178.1" width="0.9" height="0.9" fill="#5a5ae0" fill-opacity="0.78"/>
<rect x="331.8" y="190.3" width="0.9" height="0.9" fill="#5a5ae0" fill-opacity="0.78"/>
<rect x="323.2" y="186.5" width="0.9" height="0.9" fill="#5a5ae0" fill-opacity="0.76"/>
<rect x="338.7" y="182.0" width="0.9" height="0.9" fill="#5a5ae0" fill-opacity="0.65"/>
<rect x="342.6" y="178.6" width="0.9" height="0.9" fill="#5a5ae0" fill-opacity="0.45"/>
<rect x="326.1" y="191.1" width="0.9" height="0.9" fill="#5a5ae0" fill-opacity="0.39"/>
<rect x="314.1" y="189.4" width="0.9" height="0.9" fill="#5a5ae0" fill-opacity="0.54"/>
<rect x="334.8" y="179.7" width="0.9" height="0.9" fill="#5a5ae0" fill-opacity="0.70"/>
<rect x="318.0" y="193.4" width="0.9" height="0.9" fill="#5a5ae0" fill-opacity="0.49"/>
<rect x="342.7" y="186.6" width="0.9" height="0.9" fill="#5a5ae0" fill-opacity="0.71"/>
<rect x="341.2" y="180.1" width="0.9" height="0.9" fill="#5a5ae0" fill-opacity="0.60"/>
<rect x="337.9" y="178.6" width="0.9" height="0.9" fill="#5a5ae0" fill-opacity="0.35"/>
<rect x="338.3" y="184.9" width="0.9" height="0.9" fill="#5a5ae0" fill-opacity="0.31"/>
<path d="M310.00 208.00 C308.83 206.17 308.83 202.50 309.00 200.00 C309.17 197.50 310.00 194.83 311.00 193.00 C312.00 191.17 313.50 189.75 315.00 189.00 C316.50 188.25 318.50 188.17 320.00 188.50 C321.50 188.83 322.83 190.92 324.00 191.00 C325.17 191.08 325.50 189.83 327.00 189.00 C328.50 188.17 331.00 186.83 333.00 186.00 C335.00 185.17 337.67 183.92 339.00 184.00 C340.33 184.08 341.50 185.33 341.00 186.50 C340.50 187.67 337.67 189.58 336.00 191.00 C334.33 192.42 331.00 193.92 331.00 195.00 C331.00 196.08 334.33 196.58 336.00 197.50 C337.67 198.42 340.17 199.17 341.00 200.50 C341.83 201.83 341.83 204.08 341.00 205.50 C340.17 206.92 338.50 208.17 336.00 209.00 C333.50 209.83 329.33 210.17 326.00 210.50 C322.67 210.83 318.67 211.42 316.00 211.00 C313.33 210.58 311.17 209.83 310.00 208.00Z" fill="#a8a8ee" fill-opacity="0.12"/>
<path d="M310.14 208.21 C308.93 206.37 308.69 202.41 308.79 199.86 C308.89 197.31 309.68 194.73 310.73 192.91 C311.78 191.08 313.54 189.61 315.10 188.92 C316.65 188.23 318.58 188.42 320.06 188.78 C321.54 189.13 322.81 191.02 323.97 191.05 C325.13 191.08 325.56 189.83 327.03 188.98 C328.49 188.12 330.76 186.75 332.78 185.94 C334.81 185.13 337.77 184.01 339.17 184.14 C340.58 184.27 341.71 185.59 341.21 186.72 C340.72 187.86 337.85 189.57 336.20 190.94 C334.54 192.30 331.32 193.85 331.27 194.92 C331.22 195.98 334.30 196.37 335.90 197.31 C337.50 198.26 339.98 199.29 340.86 200.61 C341.73 201.93 341.94 203.81 341.16 205.25 C340.38 206.69 338.69 208.40 336.16 209.24 C333.64 210.08 329.39 210.01 326.03 210.28 C322.67 210.56 318.67 211.24 316.02 210.90 C313.37 210.55 311.34 210.05 310.14 208.21Z" fill="none" stroke="#4a4ae0" stroke-opacity="0.8" stroke-width="0.45"/>
<path d="M311.10 206.41 C310.03 204.69 309.36 201.91 309.44 199.88 C309.51 197.86 310.65 195.94 311.54 194.27 C312.43 192.60 313.35 190.54 314.76 189.87 C316.17 189.20 318.46 189.81 319.98 190.23 C321.50 190.65 322.99 192.42 323.91 192.40 C324.83 192.37 324.22 190.85 325.50 190.07 C326.77 189.30 329.82 188.42 331.54 187.75 C333.26 187.08 334.70 185.94 335.80 186.06 C336.90 186.18 338.56 187.44 338.12 188.47 C337.68 189.50 334.53 191.02 333.18 192.22 C331.83 193.43 329.94 194.84 330.02 195.71 C330.11 196.58 332.41 196.64 333.69 197.42 C334.98 198.21 336.99 199.15 337.73 200.41 C338.46 201.67 338.86 203.77 338.12 205.00 C337.38 206.23 335.37 207.14 333.27 207.77 C331.17 208.40 328.42 208.35 325.51 208.75 C322.61 209.16 318.26 210.60 315.86 210.21 C313.46 209.82 312.17 208.14 311.10 206.41Z" fill="#a8a8ee" fill-opacity="0.08" stroke="#4a4ae0" stroke-opacity="0.8" stroke-width="0.45"/>
<path d="M311.55 206.05 C310.62 204.71 311.03 202.61 311.31 200.71 C311.60 198.82 312.51 196.17 313.25 194.69 C313.98 193.20 314.73 192.30 315.73 191.79 C316.73 191.29 318.22 191.38 319.25 191.66 C320.28 191.95 321.09 193.52 321.92 193.50 C322.74 193.47 322.98 192.11 324.19 191.51 C325.39 190.90 327.58 190.47 329.14 189.85 C330.70 189.24 332.50 187.93 333.55 187.83 C334.59 187.73 335.70 188.40 335.42 189.24 C335.14 190.07 333.24 191.55 331.89 192.84 C330.54 194.13 327.25 196.08 327.31 196.97 C327.38 197.86 330.98 197.63 332.28 198.20 C333.58 198.77 334.59 199.32 335.12 200.40 C335.66 201.49 336.12 203.70 335.48 204.71 C334.85 205.72 333.12 205.82 331.31 206.47 C329.51 207.12 327.05 208.24 324.65 208.62 C322.24 209.00 319.07 209.17 316.89 208.74 C314.71 208.32 312.48 207.39 311.55 206.05Z" fill="#a8a8ee" fill-opacity="0.08" stroke="#4a4ae0" stroke-opacity="0.8" stroke-width="0.45"/>
<path d="M312.87 205.69 C312.22 204.63 312.75 202.43 312.77 200.70 C312.78 198.97 312.46 196.56 312.96 195.34 C313.45 194.11 314.80 193.69 315.75 193.34 C316.69 193.00 317.51 193.15 318.61 193.27 C319.71 193.39 321.57 194.00 322.36 194.05 C323.16 194.11 322.54 194.13 323.40 193.58 C324.27 193.04 326.21 191.50 327.54 190.80 C328.87 190.10 330.48 189.26 331.39 189.39 C332.30 189.53 333.35 190.65 333.02 191.59 C332.69 192.53 330.47 194.19 329.44 195.02 C328.40 195.84 326.82 195.98 326.80 196.57 C326.79 197.15 328.45 197.94 329.34 198.52 C330.23 199.10 331.62 199.12 332.14 200.04 C332.66 200.96 332.92 203.12 332.47 204.04 C332.02 204.96 330.96 205.01 329.45 205.56 C327.93 206.12 325.51 207.15 323.38 207.40 C321.24 207.65 318.39 207.34 316.64 207.06 C314.88 206.77 313.51 206.75 312.87 205.69Z" fill="#a8a8ee" fill-opacity="0.08" stroke="#4a4ae0" stroke-opacity="0.8" stroke-width="0.45"/>
<path d="M313.53 204.45 C312.73 203.36 312.63 201.02 312.81 199.63 C312.98 198.24 313.94 196.92 314.60 196.10 C315.25 195.27 315.92 195.02 316.72 194.68 C317.52 194.33 318.57 194.00 319.40 194.04 C320.23 194.09 321.27 194.86 321.72 194.94 C322.17 195.03 321.47 194.98 322.09 194.54 C322.71 194.11 324.30 192.66 325.44 192.32 C326.57 191.97 328.16 192.33 328.89 192.47 C329.63 192.60 330.02 192.51 329.84 193.11 C329.65 193.71 328.71 195.27 327.79 196.07 C326.87 196.87 324.36 197.49 324.33 197.92 C324.29 198.35 326.75 198.14 327.59 198.64 C328.42 199.15 329.03 200.20 329.36 200.93 C329.69 201.66 329.90 202.30 329.56 203.02 C329.21 203.74 328.50 204.74 327.28 205.24 C326.07 205.74 323.88 205.87 322.26 206.02 C320.65 206.18 319.06 206.43 317.60 206.17 C316.14 205.91 314.32 205.54 313.53 204.45Z" fill="#a8a8ee" fill-opacity="0.08" stroke="#4a4ae0" stroke-opacity="0.8" stroke-width="0.45"/>
<path d="M319.81 204.69 C319.61 203.33 320.27 200.46 321.95 199.46 C323.64 198.45 327.42 198.50 329.92 198.64 C332.42 198.78 335.69 199.36 336.95 200.32 C338.21 201.27 338.47 203.22 337.47 204.38 C336.47 205.55 333.36 206.76 330.97 207.31 C328.58 207.85 324.98 208.10 323.12 207.66 C321.26 207.23 320.00 206.06 319.81 204.69Z" fill="none" stroke="#4a4ae0" stroke-opacity="0.85" stroke-width="0.55"/>
<path d="M322.28 204.08 C322.10 202.99 322.04 200.93 323.30 200.13 C324.55 199.32 327.87 199.00 329.79 199.24 C331.72 199.48 333.85 200.69 334.85 201.57 C335.84 202.45 336.50 203.73 335.77 204.51 C335.04 205.29 332.35 205.92 330.45 206.28 C328.55 206.63 325.74 207.02 324.38 206.65 C323.02 206.28 322.46 205.17 322.28 204.08Z" fill="none" stroke="#4a4ae0" stroke-opacity="0.85" stroke-width="0.55"/>
<path d="M323.97 204.28 C323.84 203.62 324.62 201.79 325.57 201.18 C326.52 200.57 328.54 200.52 329.68 200.60 C330.82 200.68 331.89 201.20 332.43 201.67 C332.97 202.14 333.30 202.74 332.92 203.42 C332.54 204.10 331.26 205.47 330.16 205.75 C329.06 206.04 327.35 205.37 326.32 205.13 C325.29 204.88 324.10 204.93 323.97 204.28Z" fill="none" stroke="#4a4ae0" stroke-opacity="0.85" stroke-width="0.55"/>
<line x1="316.2" y1="202.3" x2="317.3" y2="197.0" stroke="#3c3cd8" stroke-opacity="0.4" stroke-width="12.01" stroke-linecap="round"/>
<ellipse cx="316.2" cy="202.3" rx="6.96" ry="8.12" fill="#3c3cd8" fill-opacity="0.4" transform="rotate(0 316.2 202.3)"/>
<ellipse cx="317.3" cy="197.0" rx="4.64" ry="6.67" fill="#3c3cd8" fill-opacity="0.4" transform="rotate(12 317.3 197.0)"/>
<line x1="316.2" y1="202.3" x2="317.3" y2="197.0" stroke="#2222ee" stroke-width="8.74" stroke-linecap="round"/>
<ellipse cx="316.2" cy="202.3" rx="4.80" ry="5.60" fill="#2222ee" transform="rotate(0 316.2 202.3)"/>
<ellipse cx="317.3" cy="197.0" rx="3.20" ry="4.60" fill="#2222ee" transform="rotate(12 317.3 197.0)"/>
<line x1="316.2" y1="202.3" x2="317.3" y2="197.0" stroke="#12c8ff" stroke-width="6.26" stroke-linecap="round"/>
<ellipse cx="316.2" cy="202.3" rx="4.03" ry="4.70" fill="#12c8ff" transform="rotate(0 316.2 202.3)"/>
<ellipse cx="317.3" cy="197.0" rx="2.56" ry="3.68" fill="#12c8ff" transform="rotate(12 317.3 197.0)"/>
<line x1="316.2" y1="202.3" x2="317.3" y2="197.0" stroke="#2aa83a" stroke-width="3.31" stroke-linecap="round"/>
<ellipse cx="316.2" cy="202.3" rx="3.36" ry="3.92" fill="#2aa83a" transform="rotate(0 316.2 202.3)"/>
<ellipse cx="317.3" cy="197.0" rx="1.92" ry="2.76" fill="#2aa83a" transform="rotate(12 317.3 197.0)"/>
<line x1="316.2" y1="202.3" x2="317.3" y2="197.0" stroke="#eaea10" stroke-width="1.22" stroke-linecap="round"/>
<ellipse cx="316.2" cy="202.3" rx="2.69" ry="3.14" fill="#eaea10" transform="rotate(0 316.2 202.3)"/>
<ellipse cx="317.3" cy="197.0" rx="1.22" ry="1.75" fill="#eaea10" transform="rotate(12 317.3 197.0)"/>
<ellipse cx="316.2" cy="202.3" rx="1.92" ry="2.24" fill="#ff8a00" transform="rotate(0 316.2 202.3)"/>
<ellipse cx="316.2" cy="202.3" rx="1.15" ry="1.34" fill="#ff1010" transform="rotate(0 316.2 202.3)"/>
<line x1="301.2" y1="197.3" x2="344.6" y2="197.3" stroke="#6e6e6e" stroke-width="0.9"/>
<line x1="321.5" y1="171.2" x2="321.5" y2="216.5" stroke="#6e6e6e" stroke-width="0.9"/>
<path d="M301.2 171.2 L301.2 216.5 L344.6 216.5" fill="none" stroke="#2d3a66" stroke-width="1.1"/>
<text x="298.59999999999997" y="174.2" font-size="6.6" fill="#4a3fa8" stroke="#4a3fa8" stroke-width="0.1" text-anchor="end" textLength="8.3" lengthAdjust="spacingAndGlyphs">10<tspan dy="-2.9" font-size="4.22">4</tspan></text>
<text x="298.59999999999997" y="189.0" font-size="6.6" fill="#4a3fa8" stroke="#4a3fa8" stroke-width="0.1" text-anchor="end" textLength="8.3" lengthAdjust="spacingAndGlyphs">10<tspan dy="-2.9" font-size="4.22">3</tspan></text>
<text x="298.59999999999997" y="203.89999999999998" font-size="6.6" fill="#4a3fa8" stroke="#4a3fa8" stroke-width="0.1" text-anchor="end" textLength="8.3" lengthAdjust="spacingAndGlyphs">10<tspan dy="-2.9" font-size="4.22">2</tspan></text>
<text x="298.59999999999997" y="216.2" font-size="6.6" fill="#4a3fa8" stroke="#4a3fa8" stroke-width="0.1" text-anchor="end" textLength="8.3" lengthAdjust="spacingAndGlyphs">10<tspan dy="-2.9" font-size="4.22">1</tspan></text>
<text x="299.0" y="225.8" font-size="6.6" fill="#4a3fa8" stroke="#4a3fa8" stroke-width="0.1" text-anchor="start" textLength="8.3" lengthAdjust="spacingAndGlyphs">10<tspan dy="-2.9" font-size="4.22">1</tspan></text>
<text x="311.2" y="225.8" font-size="6.6" fill="#4a3fa8" stroke="#4a3fa8" stroke-width="0.1" text-anchor="start" textLength="8.3" lengthAdjust="spacingAndGlyphs">10<tspan dy="-2.9" font-size="4.22">2</tspan></text>
<text x="325.8" y="225.8" font-size="6.6" fill="#4a3fa8" stroke="#4a3fa8" stroke-width="0.1" text-anchor="start" textLength="8.3" lengthAdjust="spacingAndGlyphs">10<tspan dy="-2.9" font-size="4.22">3</tspan></text>
<text x="339.8" y="225.8" font-size="6.6" fill="#4a3fa8" stroke="#4a3fa8" stroke-width="0.1" text-anchor="start" textLength="8.3" lengthAdjust="spacingAndGlyphs">10<tspan dy="-2.9" font-size="4.22">4</tspan></text>
<text x="301.8" y="177.0" font-size="6.3" text-anchor="start" font-weight="bold" fill="#111" textLength="16.6" lengthAdjust="spacingAndGlyphs">14.88%</text>
<text x="345.70000000000005" y="177.0" font-size="6.3" text-anchor="end" font-weight="bold" fill="#111" textLength="13.6" lengthAdjust="spacingAndGlyphs">7.22%</text>
<text x="301.8" y="215.0" font-size="6.3" text-anchor="start" font-weight="bold" fill="#111" textLength="17.3" lengthAdjust="spacingAndGlyphs">64.33%</text>
<text x="345.70000000000005" y="215.0" font-size="6.3" text-anchor="end" font-weight="bold" fill="#111" textLength="16.6" lengthAdjust="spacingAndGlyphs">13.57%</text>
<rect x="375.7" y="212.5" width="0.8" height="0.8" fill="#5a5ae0" fill-opacity="0.40"/>
<rect x="367.9" y="179.5" width="1.2" height="1.2" fill="#5a5ae0" fill-opacity="0.40"/>
<rect x="393.6" y="192.4" width="1.0" height="1.0" fill="#5a5ae0" fill-opacity="0.50"/>
<rect x="390.6" y="209.9" width="1.0" height="1.0" fill="#5a5ae0" fill-opacity="0.34"/>
<rect x="376.1" y="174.8" width="1.0" height="1.0" fill="#5a5ae0" fill-opacity="0.56"/>
<rect x="386.4" y="210.4" width="1.2" height="1.2" fill="#5a5ae0" fill-opacity="0.36"/>
<rect x="377.1" y="213.7" width="0.8" height="0.8" fill="#5a5ae0" fill-opacity="0.49"/>
<rect x="401.7" y="178.3" width="0.8" height="0.8" fill="#5a5ae0" fill-opacity="0.47"/>
<rect x="395.7" y="193.9" width="1.2" height="1.2" fill="#5a5ae0" fill-opacity="0.56"/>
<rect x="374.9" y="206.3" width="1.2" height="1.2" fill="#5a5ae0" fill-opacity="0.33"/>
<rect x="406.7" y="193.5" width="0.8" height="0.8" fill="#5a5ae0" fill-opacity="0.37"/>
<rect x="403.0" y="192.3" width="1.2" height="1.2" fill="#5a5ae0" fill-opacity="0.74"/>
<rect x="378.3" y="188.3" width="1.0" height="1.0" fill="#5a5ae0" fill-opacity="0.37"/>
<rect x="398.9" y="177.9" width="1.2" height="1.2" fill="#5a5ae0" fill-opacity="0.46"/>
<rect x="381.4" y="199.8" width="1.0" height="1.0" fill="#5a5ae0" fill-opacity="0.55"/>
<rect x="374.5" y="180.0" width="1.2" height="1.2" fill="#5a5ae0" fill-opacity="0.44"/>
<rect x="394.3" y="206.3" width="1.2" height="1.2" fill="#5a5ae0" fill-opacity="0.76"/>
<rect x="389.4" y="187.8" width="0.8" height="0.8" fill="#5a5ae0" fill-opacity="0.45"/>
<rect x="375.5" y="175.3" width="1.0" height="1.0" fill="#5a5ae0" fill-opacity="0.49"/>
<rect x="401.9" y="209.7" width="0.8" height="0.8" fill="#5a5ae0" fill-opacity="0.63"/>
<rect x="371.0" y="211.3" width="0.8" height="0.8" fill="#5a5ae0" fill-opacity="0.40"/>
<rect x="399.0" y="186.0" width="0.8" height="0.8" fill="#5a5ae0" fill-opacity="0.70"/>
<rect x="382.4" y="207.5" width="1.2" height="1.2" fill="#5a5ae0" fill-opacity="0.52"/>
<rect x="376.0" y="190.4" width="1.0" height="1.0" fill="#5a5ae0" fill-opacity="0.50"/>
<rect x="369.4" y="176.8" width="1.2" height="1.2" fill="#5a5ae0" fill-opacity="0.35"/>
<rect x="369.7" y="178.3" width="1.2" height="1.2" fill="#5a5ae0" fill-opacity="0.56"/>
<rect x="372.6" y="211.5" width="1.0" height="1.0" fill="#5a5ae0" fill-opacity="0.65"/>
<rect x="408.1" y="176.5" width="0.8" height="0.8" fill="#5a5ae0" fill-opacity="0.76"/>
<rect x="380.7" y="200.3" width="0.8" height="0.8" fill="#5a5ae0" fill-opacity="0.67"/>
<rect x="381.1" y="212.6" width="0.8" height="0.8" fill="#5a5ae0" fill-opacity="0.62"/>
<rect x="387.5" y="176.4" width="1.2" height="1.2" fill="#5a5ae0" fill-opacity="0.32"/>
<rect x="407.5" y="204.4" width="1.2" height="1.2" fill="#5a5ae0" fill-opacity="0.39"/>
<rect x="380.5" y="191.2" width="0.8" height="0.8" fill="#5a5ae0" fill-opacity="0.34"/>
<rect x="392.0" y="193.9" width="1.0" height="1.0" fill="#5a5ae0" fill-opacity="0.70"/>
<rect x="382.4" y="178.3" width="1.2" height="1.2" fill="#5a5ae0" fill-opacity="0.53"/>
<rect x="371.4" y="191.6" width="1.2" height="1.2" fill="#5a5ae0" fill-opacity="0.35"/>
<rect x="405.9" y="196.6" width="1.0" height="1.0" fill="#5a5ae0" fill-opacity="0.53"/>
<rect x="368.2" y="176.0" width="0.8" height="0.8" fill="#5a5ae0" fill-opacity="0.35"/>
<rect x="397.2" y="202.3" width="1.2" height="1.2" fill="#5a5ae0" fill-opacity="0.75"/>
<rect x="394.2" y="207.2" width="1.2" height="1.2" fill="#5a5ae0" fill-opacity="0.35"/>
<rect x="407.6" y="204.2" width="1.2" height="1.2" fill="#5a5ae0" fill-opacity="0.71"/>
<rect x="390.5" y="194.1" width="1.0" height="1.0" fill="#5a5ae0" fill-opacity="0.56"/>
<rect x="398.0" y="199.9" width="0.8" height="0.8" fill="#5a5ae0" fill-opacity="0.44"/>
<rect x="378.7" y="177.2" width="1.0" height="1.0" fill="#5a5ae0" fill-opacity="0.76"/>
<rect x="408.2" y="182.9" width="1.0" height="1.0" fill="#5a5ae0" fill-opacity="0.34"/>
<rect x="384.0" y="203.8" width="1.2" height="1.2" fill="#5a5ae0" fill-opacity="0.73"/>
<rect x="388.2" y="199.0" width="1.0" height="1.0" fill="#5a5ae0" fill-opacity="0.69"/>
<rect x="378.7" y="207.8" width="0.8" height="0.8" fill="#5a5ae0" fill-opacity="0.54"/>
<rect x="382.3" y="197.4" width="1.0" height="1.0" fill="#5a5ae0" fill-opacity="0.40"/>
<rect x="383.1" y="189.3" width="1.2" height="1.2" fill="#5a5ae0" fill-opacity="0.56"/>
<rect x="395.7" y="188.2" width="1.2" height="1.2" fill="#5a5ae0" fill-opacity="0.60"/>
<rect x="381.6" y="191.1" width="1.0" height="1.0" fill="#5a5ae0" fill-opacity="0.71"/>
<rect x="387.8" y="177.3" width="0.8" height="0.8" fill="#5a5ae0" fill-opacity="0.33"/>
<rect x="397.5" y="184.8" width="1.0" height="1.0" fill="#5a5ae0" fill-opacity="0.69"/>
<rect x="392.9" y="207.0" width="1.0" height="1.0" fill="#5a5ae0" fill-opacity="0.44"/>
<rect x="401.5" y="184.7" width="1.2" height="1.2" fill="#5a5ae0" fill-opacity="0.51"/>
<rect x="381.5" y="212.6" width="1.2" height="1.2" fill="#5a5ae0" fill-opacity="0.67"/>
<rect x="376.7" y="206.5" width="1.2" height="1.2" fill="#5a5ae0" fill-opacity="0.56"/>
<rect x="374.4" y="193.9" width="0.8" height="0.8" fill="#5a5ae0" fill-opacity="0.70"/>
<rect x="382.7" y="200.2" width="1.2" height="1.2" fill="#5a5ae0" fill-opacity="0.80"/>
<rect x="405.6" y="205.4" width="0.8" height="0.8" fill="#5a5ae0" fill-opacity="0.31"/>
<rect x="374.2" y="184.6" width="0.8" height="0.8" fill="#5a5ae0" fill-opacity="0.53"/>
<rect x="403.4" y="210.2" width="1.2" height="1.2" fill="#5a5ae0" fill-opacity="0.35"/>
<rect x="392.1" y="208.6" width="1.2" height="1.2" fill="#5a5ae0" fill-opacity="0.33"/>
<rect x="400.0" y="207.4" width="0.8" height="0.8" fill="#5a5ae0" fill-opacity="0.73"/>
<rect x="394.1" y="188.6" width="0.8" height="0.8" fill="#5a5ae0" fill-opacity="0.71"/>
<rect x="397.2" y="198.0" width="1.0" height="1.0" fill="#5a5ae0" fill-opacity="0.41"/>
<rect x="398.0" y="212.7" width="0.8" height="0.8" fill="#5a5ae0" fill-opacity="0.56"/>
<rect x="370.9" y="202.9" width="1.0" height="1.0" fill="#5a5ae0" fill-opacity="0.52"/>
<rect x="372.8" y="209.7" width="0.8" height="0.8" fill="#5a5ae0" fill-opacity="0.52"/>
<rect x="409.9" y="183.9" width="0.9" height="0.9" fill="#5a5ae0" fill-opacity="0.67"/>
<rect x="390.1" y="189.8" width="0.9" height="0.9" fill="#5a5ae0" fill-opacity="0.37"/>
<rect x="401.2" y="180.0" width="0.9" height="0.9" fill="#5a5ae0" fill-opacity="0.65"/>
<rect x="389.3" y="185.3" width="0.9" height="0.9" fill="#5a5ae0" fill-opacity="0.42"/>
<rect x="382.4" y="195.3" width="0.9" height="0.9" fill="#5a5ae0" fill-opacity="0.50"/>
<rect x="407.8" y="184.1" width="0.9" height="0.9" fill="#5a5ae0" fill-opacity="0.73"/>
<rect x="393.8" y="189.0" width="0.9" height="0.9" fill="#5a5ae0" fill-opacity="0.37"/>
<rect x="387.4" y="184.7" width="0.9" height="0.9" fill="#5a5ae0" fill-opacity="0.43"/>
<rect x="409.7" y="180.8" width="0.9" height="0.9" fill="#5a5ae0" fill-opacity="0.67"/>
<rect x="386.2" y="192.4" width="0.9" height="0.9" fill="#5a5ae0" fill-opacity="0.53"/>
<rect x="392.5" y="188.0" width="0.9" height="0.9" fill="#5a5ae0" fill-opacity="0.50"/>
<rect x="401.5" y="181.5" width="0.9" height="0.9" fill="#5a5ae0" fill-opacity="0.70"/>
<rect x="390.1" y="187.6" width="0.9" height="0.9" fill="#5a5ae0" fill-opacity="0.64"/>
<rect x="397.7" y="184.1" width="0.9" height="0.9" fill="#5a5ae0" fill-opacity="0.50"/>
<rect x="403.8" y="180.9" width="0.9" height="0.9" fill="#5a5ae0" fill-opacity="0.40"/>
<rect x="396.3" y="181.0" width="0.9" height="0.9" fill="#5a5ae0" fill-opacity="0.36"/>
<rect x="388.1" y="195.2" width="0.9" height="0.9" fill="#5a5ae0" fill-opacity="0.42"/>
<rect x="399.3" y="187.8" width="0.9" height="0.9" fill="#5a5ae0" fill-opacity="0.46"/>
<rect x="391.0" y="192.5" width="0.9" height="0.9" fill="#5a5ae0" fill-opacity="0.45"/>
<rect x="399.4" y="188.1" width="0.9" height="0.9" fill="#5a5ae0" fill-opacity="0.67"/>
<rect x="404.5" y="180.4" width="0.9" height="0.9" fill="#5a5ae0" fill-opacity="0.34"/>
<rect x="399.5" y="177.5" width="0.9" height="0.9" fill="#5a5ae0" fill-opacity="0.69"/>
<rect x="395.2" y="188.0" width="0.9" height="0.9" fill="#5a5ae0" fill-opacity="0.38"/>
<rect x="405.7" y="179.5" width="0.9" height="0.9" fill="#5a5ae0" fill-opacity="0.50"/>
<rect x="400.4" y="180.2" width="0.9" height="0.9" fill="#5a5ae0" fill-opacity="0.55"/>
<rect x="402.0" y="177.1" width="0.9" height="0.9" fill="#5a5ae0" fill-opacity="0.57"/>
<rect x="391.1" y="194.8" width="0.9" height="0.9" fill="#5a5ae0" fill-opacity="0.66"/>
<rect x="405.4" y="182.6" width="0.9" height="0.9" fill="#5a5ae0" fill-opacity="0.30"/>
<rect x="397.4" y="182.5" width="0.9" height="0.9" fill="#5a5ae0" fill-opacity="0.63"/>
<rect x="404.2" y="179.9" width="0.9" height="0.9" fill="#5a5ae0" fill-opacity="0.59"/>
<rect x="398.6" y="184.6" width="0.9" height="0.9" fill="#5a5ae0" fill-opacity="0.80"/>
<rect x="388.6" y="194.8" width="0.9" height="0.9" fill="#5a5ae0" fill-opacity="0.63"/>
<rect x="401.0" y="177.9" width="0.9" height="0.9" fill="#5a5ae0" fill-opacity="0.41"/>
<rect x="397.5" y="186.9" width="0.9" height="0.9" fill="#5a5ae0" fill-opacity="0.38"/>
<rect x="407.5" y="172.3" width="0.9" height="0.9" fill="#5a5ae0" fill-opacity="0.40"/>
<rect x="396.6" y="184.6" width="0.9" height="0.9" fill="#5a5ae0" fill-opacity="0.33"/>
<rect x="402.5" y="174.1" width="0.9" height="0.9" fill="#5a5ae0" fill-opacity="0.70"/>
<rect x="384.2" y="198.7" width="0.9" height="0.9" fill="#5a5ae0" fill-opacity="0.48"/>
<rect x="387.7" y="183.4" width="0.9" height="0.9" fill="#5a5ae0" fill-opacity="0.53"/>
<rect x="392.5" y="183.5" width="0.9" height="0.9" fill="#5a5ae0" fill-opacity="0.59"/>
<rect x="389.6" y="191.3" width="0.9" height="0.9" fill="#5a5ae0" fill-opacity="0.48"/>
<rect x="394.0" y="186.1" width="0.9" height="0.9" fill="#5a5ae0" fill-opacity="0.40"/>
<rect x="388.0" y="186.9" width="0.9" height="0.9" fill="#5a5ae0" fill-opacity="0.53"/>
<rect x="394.8" y="185.5" width="0.9" height="0.9" fill="#5a5ae0" fill-opacity="0.51"/>
<rect x="400.7" y="185.4" width="0.9" height="0.9" fill="#5a5ae0" fill-opacity="0.73"/>
<rect x="399.3" y="188.9" width="0.9" height="0.9" fill="#5a5ae0" fill-opacity="0.55"/>
<rect x="396.4" y="177.2" width="0.9" height="0.9" fill="#5a5ae0" fill-opacity="0.45"/>
<rect x="383.7" y="195.1" width="0.9" height="0.9" fill="#5a5ae0" fill-opacity="0.74"/>
<rect x="392.5" y="185.0" width="0.9" height="0.9" fill="#5a5ae0" fill-opacity="0.46"/>
<rect x="403.4" y="187.1" width="0.9" height="0.9" fill="#5a5ae0" fill-opacity="0.78"/>
<rect x="405.1" y="185.1" width="0.9" height="0.9" fill="#5a5ae0" fill-opacity="0.75"/>
<rect x="398.4" y="183.1" width="0.9" height="0.9" fill="#5a5ae0" fill-opacity="0.52"/>
<rect x="394.3" y="188.5" width="0.9" height="0.9" fill="#5a5ae0" fill-opacity="0.60"/>
<rect x="392.1" y="191.6" width="0.9" height="0.9" fill="#5a5ae0" fill-opacity="0.36"/>
<rect x="397.3" y="184.4" width="0.9" height="0.9" fill="#5a5ae0" fill-opacity="0.65"/>
<rect x="395.3" y="180.5" width="0.9" height="0.9" fill="#5a5ae0" fill-opacity="0.41"/>
<rect x="394.4" y="187.4" width="0.9" height="0.9" fill="#5a5ae0" fill-opacity="0.45"/>
<rect x="406.5" y="179.1" width="0.9" height="0.9" fill="#5a5ae0" fill-opacity="0.52"/>
<rect x="391.0" y="187.7" width="0.9" height="0.9" fill="#5a5ae0" fill-opacity="0.33"/>
<rect x="395.1" y="189.3" width="0.9" height="0.9" fill="#5a5ae0" fill-opacity="0.73"/>
<rect x="399.1" y="186.0" width="0.9" height="0.9" fill="#5a5ae0" fill-opacity="0.42"/>
<rect x="391.3" y="190.5" width="0.9" height="0.9" fill="#5a5ae0" fill-opacity="0.79"/>
<rect x="388.9" y="187.3" width="0.9" height="0.9" fill="#5a5ae0" fill-opacity="0.60"/>
<rect x="386.4" y="194.6" width="0.9" height="0.9" fill="#5a5ae0" fill-opacity="0.57"/>
<rect x="405.5" y="181.9" width="0.9" height="0.9" fill="#5a5ae0" fill-opacity="0.78"/>
<rect x="391.5" y="188.8" width="0.9" height="0.9" fill="#5a5ae0" fill-opacity="0.67"/>
<rect x="392.7" y="190.6" width="0.9" height="0.9" fill="#5a5ae0" fill-opacity="0.57"/>
<rect x="384.9" y="195.4" width="0.9" height="0.9" fill="#5a5ae0" fill-opacity="0.39"/>
<rect x="403.8" y="179.7" width="0.9" height="0.9" fill="#5a5ae0" fill-opacity="0.38"/>
<rect x="401.5" y="184.8" width="0.9" height="0.9" fill="#5a5ae0" fill-opacity="0.45"/>
<rect x="392.3" y="184.9" width="0.9" height="0.9" fill="#5a5ae0" fill-opacity="0.58"/>
<rect x="400.9" y="180.5" width="0.9" height="0.9" fill="#5a5ae0" fill-opacity="0.70"/>
<rect x="386.6" y="191.1" width="0.9" height="0.9" fill="#5a5ae0" fill-opacity="0.43"/>
<rect x="385.7" y="196.2" width="0.9" height="0.9" fill="#5a5ae0" fill-opacity="0.34"/>
<rect x="405.5" y="175.7" width="0.9" height="0.9" fill="#5a5ae0" fill-opacity="0.75"/>
<rect x="391.3" y="194.4" width="0.9" height="0.9" fill="#5a5ae0" fill-opacity="0.34"/>
<rect x="403.9" y="179.3" width="0.9" height="0.9" fill="#5a5ae0" fill-opacity="0.62"/>
<rect x="389.4" y="190.1" width="0.9" height="0.9" fill="#5a5ae0" fill-opacity="0.52"/>
<rect x="409.4" y="183.1" width="0.9" height="0.9" fill="#5a5ae0" fill-opacity="0.57"/>
<rect x="403.9" y="181.2" width="0.9" height="0.9" fill="#5a5ae0" fill-opacity="0.57"/>
<rect x="405.3" y="177.0" width="0.9" height="0.9" fill="#5a5ae0" fill-opacity="0.52"/>
<rect x="396.2" y="183.2" width="0.9" height="0.9" fill="#5a5ae0" fill-opacity="0.31"/>
<rect x="388.0" y="182.8" width="0.9" height="0.9" fill="#5a5ae0" fill-opacity="0.76"/>
<rect x="406.9" y="176.2" width="0.9" height="0.9" fill="#5a5ae0" fill-opacity="0.36"/>
<rect x="405.9" y="180.2" width="0.9" height="0.9" fill="#5a5ae0" fill-opacity="0.52"/>
<rect x="389.9" y="189.8" width="0.9" height="0.9" fill="#5a5ae0" fill-opacity="0.53"/>
<rect x="385.2" y="192.4" width="0.9" height="0.9" fill="#5a5ae0" fill-opacity="0.72"/>
<rect x="394.5" y="185.4" width="0.9" height="0.9" fill="#5a5ae0" fill-opacity="0.52"/>
<rect x="392.9" y="185.7" width="0.9" height="0.9" fill="#5a5ae0" fill-opacity="0.43"/>
<rect x="391.3" y="194.1" width="0.9" height="0.9" fill="#5a5ae0" fill-opacity="0.41"/>
<rect x="394.8" y="183.3" width="0.9" height="0.9" fill="#5a5ae0" fill-opacity="0.58"/>
<rect x="386.1" y="191.8" width="0.9" height="0.9" fill="#5a5ae0" fill-opacity="0.74"/>
<rect x="408.0" y="181.7" width="0.9" height="0.9" fill="#5a5ae0" fill-opacity="0.61"/>
<rect x="395.8" y="187.5" width="0.9" height="0.9" fill="#5a5ae0" fill-opacity="0.34"/>
<rect x="398.7" y="185.3" width="0.9" height="0.9" fill="#5a5ae0" fill-opacity="0.66"/>
<rect x="388.5" y="192.1" width="0.9" height="0.9" fill="#5a5ae0" fill-opacity="0.63"/>
<rect x="389.5" y="184.4" width="0.9" height="0.9" fill="#5a5ae0" fill-opacity="0.74"/>
<rect x="391.4" y="183.2" width="0.9" height="0.9" fill="#5a5ae0" fill-opacity="0.39"/>
<rect x="403.6" y="185.3" width="0.9" height="0.9" fill="#5a5ae0" fill-opacity="0.56"/>
<rect x="379.2" y="187.4" width="0.9" height="0.9" fill="#5a5ae0" fill-opacity="0.62"/>
<rect x="404.9" y="180.4" width="0.9" height="0.9" fill="#5a5ae0" fill-opacity="0.41"/>
<path d="M371.00 207.00 C369.92 204.92 371.08 201.50 371.50 199.00 C371.92 196.50 372.58 194.00 373.50 192.00 C374.42 190.00 375.58 188.17 377.00 187.00 C378.42 185.83 380.17 185.33 382.00 185.00 C383.83 184.67 386.00 185.33 388.00 185.00 C390.00 184.67 391.83 183.67 394.00 183.00 C396.17 182.33 398.83 181.33 401.00 181.00 C403.17 180.67 405.58 180.33 407.00 181.00 C408.42 181.67 409.67 183.33 409.50 185.00 C409.33 186.67 406.17 189.00 406.00 191.00 C405.83 193.00 408.50 194.83 408.50 197.00 C408.50 199.17 407.58 202.00 406.00 204.00 C404.42 206.00 401.83 207.83 399.00 209.00 C396.17 210.17 392.50 210.58 389.00 211.00 C385.50 211.42 381.00 212.17 378.00 211.50 C375.00 210.83 372.08 209.08 371.00 207.00Z" fill="#a8a8ee" fill-opacity="0.12"/>
<path d="M371.07 206.97 C370.00 204.87 371.04 201.58 371.47 199.06 C371.90 196.54 372.73 193.81 373.65 191.84 C374.58 189.86 375.61 188.31 377.02 187.21 C378.43 186.11 380.32 185.63 382.11 185.25 C383.90 184.87 385.80 185.31 387.75 184.91 C389.70 184.52 391.60 183.51 393.81 182.86 C396.02 182.21 398.78 181.28 400.99 181.01 C403.20 180.74 405.62 180.59 407.05 181.26 C408.48 181.93 409.80 183.37 409.58 185.03 C409.36 186.69 405.95 189.21 405.75 191.21 C405.55 193.21 408.39 194.88 408.40 197.03 C408.41 199.18 407.41 202.11 405.81 204.12 C404.22 206.13 401.62 207.95 398.84 209.11 C396.07 210.26 392.65 210.62 389.16 211.05 C385.66 211.48 380.88 212.36 377.87 211.68 C374.85 211.01 372.14 209.08 371.07 206.97Z" fill="none" stroke="#4a4ae0" stroke-opacity="0.8" stroke-width="0.45"/>
<path d="M373.06 205.38 C372.15 203.51 372.97 201.48 373.31 199.39 C373.64 197.31 374.41 194.74 375.06 192.88 C375.72 191.02 376.01 189.24 377.23 188.25 C378.45 187.25 380.78 187.29 382.38 186.92 C383.98 186.55 385.20 186.29 386.83 186.02 C388.46 185.75 390.25 185.89 392.14 185.32 C394.03 184.74 396.27 183.04 398.18 182.58 C400.08 182.11 402.29 181.77 403.55 182.53 C404.82 183.28 405.70 185.46 405.76 187.11 C405.83 188.75 404.03 190.75 403.92 192.40 C403.80 194.05 405.24 195.10 405.05 197.03 C404.86 198.95 404.13 202.21 402.75 203.94 C401.38 205.68 399.28 206.43 396.79 207.42 C394.31 208.40 390.83 209.30 387.83 209.84 C384.83 210.38 381.25 211.40 378.79 210.65 C376.33 209.91 373.97 207.26 373.06 205.38Z" fill="#a8a8ee" fill-opacity="0.08" stroke="#4a4ae0" stroke-opacity="0.8" stroke-width="0.45"/>
<path d="M374.38 205.04 C373.65 203.25 374.18 200.32 374.49 198.34 C374.79 196.36 375.49 194.54 376.22 193.15 C376.95 191.75 377.79 190.70 378.89 189.96 C379.98 189.22 381.51 189.00 382.79 188.72 C384.07 188.44 385.10 188.65 386.58 188.26 C388.06 187.88 390.09 186.79 391.66 186.40 C393.23 186.02 394.48 186.06 395.99 185.96 C397.49 185.85 399.55 185.37 400.67 185.78 C401.78 186.18 402.68 187.23 402.69 188.39 C402.70 189.55 400.80 191.20 400.71 192.73 C400.61 194.27 402.10 196.03 402.10 197.59 C402.10 199.15 401.93 200.57 400.71 202.11 C399.49 203.64 396.94 205.77 394.77 206.81 C392.60 207.86 390.35 207.98 387.69 208.37 C385.03 208.75 381.05 209.66 378.83 209.11 C376.61 208.55 375.10 206.83 374.38 205.04Z" fill="#a8a8ee" fill-opacity="0.08" stroke="#4a4ae0" stroke-opacity="0.8" stroke-width="0.45"/>
<path d="M375.46 203.56 C374.59 202.21 374.98 201.01 375.21 199.51 C375.45 198.00 376.27 195.89 376.89 194.53 C377.51 193.16 378.07 191.95 378.93 191.31 C379.78 190.68 380.80 190.90 382.02 190.73 C383.25 190.55 384.99 190.68 386.27 190.29 C387.54 189.89 388.23 188.88 389.70 188.36 C391.16 187.83 393.58 187.30 395.05 187.14 C396.51 186.97 397.70 186.92 398.51 187.38 C399.33 187.84 399.97 188.93 399.95 189.90 C399.92 190.87 398.57 191.95 398.37 193.19 C398.18 194.43 398.89 195.80 398.80 197.34 C398.70 198.89 398.72 201.17 397.80 202.46 C396.87 203.74 394.99 204.26 393.25 205.06 C391.52 205.85 389.52 206.79 387.39 207.22 C385.25 207.64 382.43 208.21 380.44 207.60 C378.45 206.99 376.33 204.91 375.46 203.56Z" fill="#a8a8ee" fill-opacity="0.08" stroke="#4a4ae0" stroke-opacity="0.8" stroke-width="0.45"/>
<path d="M377.27 203.46 C376.85 202.36 377.60 199.85 377.65 198.57 C377.70 197.30 377.09 196.78 377.56 195.82 C378.04 194.86 379.68 193.47 380.51 192.81 C381.34 192.16 381.65 192.08 382.55 191.89 C383.44 191.70 384.93 191.93 385.87 191.65 C386.81 191.37 387.11 190.65 388.18 190.22 C389.25 189.80 391.17 189.16 392.28 189.09 C393.39 189.02 394.01 189.36 394.87 189.78 C395.72 190.20 397.32 190.73 397.40 191.59 C397.49 192.44 395.58 193.83 395.37 194.91 C395.17 195.99 396.12 197.04 396.17 198.06 C396.22 199.09 396.45 200.10 395.66 201.07 C394.86 202.04 392.98 203.12 391.41 203.88 C389.84 204.63 388.13 205.39 386.25 205.60 C384.37 205.81 381.65 205.51 380.16 205.16 C378.66 204.80 377.69 204.55 377.27 203.46Z" fill="#a8a8ee" fill-opacity="0.08" stroke="#4a4ae0" stroke-opacity="0.8" stroke-width="0.45"/>
<path d="M388.50 200.50 C388.75 199.33 389.75 197.75 391.00 197.00 C392.25 196.25 394.42 195.83 396.00 196.00 C397.58 196.17 399.83 197.00 400.50 198.00 C401.17 199.00 401.00 200.92 400.00 202.00 C399.00 203.08 396.25 204.17 394.50 204.50 C392.75 204.83 390.50 204.67 389.50 204.00 C388.50 203.33 388.25 201.67 388.50 200.50Z" fill="#fff" fill-opacity="0.9" stroke="#4a4ad0" stroke-width="0.55"/>
<path d="M385.94 200.81 C385.76 198.81 387.41 195.79 389.06 194.38 C390.71 192.98 393.36 192.44 395.86 192.40 C398.35 192.36 402.48 192.73 404.03 194.15 C405.58 195.58 406.00 198.77 405.15 200.94 C404.30 203.11 401.43 206.28 398.93 207.18 C396.43 208.09 392.32 207.44 390.16 206.37 C387.99 205.31 386.12 202.81 385.94 200.81Z" fill="none" stroke="#4a4ae0" stroke-opacity="0.85" stroke-width="0.55"/>
<path d="M386.58 200.76 C386.50 198.88 388.42 196.25 389.95 194.91 C391.48 193.56 393.57 192.83 395.74 192.70 C397.92 192.57 401.63 192.83 402.99 194.11 C404.34 195.39 404.65 198.35 403.87 200.37 C403.10 202.39 400.58 205.27 398.33 206.25 C396.09 207.22 392.39 207.11 390.43 206.20 C388.47 205.29 386.66 202.64 386.58 200.76Z" fill="none" stroke="#4a4ae0" stroke-opacity="0.85" stroke-width="0.55"/>
<line x1="380.2" y1="201.4" x2="381.9" y2="194.3" stroke="#3c3cd8" stroke-opacity="0.4" stroke-width="12.01" stroke-linecap="round"/>
<ellipse cx="380.2" cy="201.4" rx="7.25" ry="8.70" fill="#3c3cd8" fill-opacity="0.4" transform="rotate(0 380.2 201.4)"/>
<ellipse cx="381.9" cy="194.3" rx="4.64" ry="6.67" fill="#3c3cd8" fill-opacity="0.4" transform="rotate(8 381.9 194.3)"/>
<line x1="380.2" y1="201.4" x2="381.9" y2="194.3" stroke="#2222ee" stroke-width="8.74" stroke-linecap="round"/>
<ellipse cx="380.2" cy="201.4" rx="5.00" ry="6.00" fill="#2222ee" transform="rotate(0 380.2 201.4)"/>
<ellipse cx="381.9" cy="194.3" rx="3.20" ry="4.60" fill="#2222ee" transform="rotate(8 381.9 194.3)"/>
<line x1="380.2" y1="201.4" x2="381.9" y2="194.3" stroke="#12c8ff" stroke-width="6.26" stroke-linecap="round"/>
<ellipse cx="380.2" cy="201.4" rx="4.20" ry="5.04" fill="#12c8ff" transform="rotate(0 380.2 201.4)"/>
<ellipse cx="381.9" cy="194.3" rx="2.56" ry="3.68" fill="#12c8ff" transform="rotate(8 381.9 194.3)"/>
<line x1="380.2" y1="201.4" x2="381.9" y2="194.3" stroke="#2aa83a" stroke-width="3.31" stroke-linecap="round"/>
<ellipse cx="380.2" cy="201.4" rx="3.50" ry="4.20" fill="#2aa83a" transform="rotate(0 380.2 201.4)"/>
<ellipse cx="381.9" cy="194.3" rx="1.92" ry="2.76" fill="#2aa83a" transform="rotate(8 381.9 194.3)"/>
<line x1="380.2" y1="201.4" x2="381.9" y2="194.3" stroke="#eaea10" stroke-width="1.22" stroke-linecap="round"/>
<ellipse cx="380.2" cy="201.4" rx="2.80" ry="3.36" fill="#eaea10" transform="rotate(0 380.2 201.4)"/>
<ellipse cx="381.9" cy="194.3" rx="1.22" ry="1.75" fill="#eaea10" transform="rotate(8 381.9 194.3)"/>
<ellipse cx="380.2" cy="201.4" rx="2.00" ry="2.40" fill="#ff8a00" transform="rotate(0 380.2 201.4)"/>
<ellipse cx="380.2" cy="201.4" rx="1.20" ry="1.44" fill="#ff1010" transform="rotate(0 380.2 201.4)"/>
<line x1="364.6" y1="197.3" x2="410.3" y2="197.3" stroke="#6e6e6e" stroke-width="0.9"/>
<line x1="386.2" y1="170.4" x2="386.2" y2="216.2" stroke="#6e6e6e" stroke-width="0.9"/>
<path d="M364.6 170.4 L364.6 216.2 L410.3 216.2" fill="none" stroke="#2d3a66" stroke-width="1.1"/>
<text x="362.0" y="173.79999999999998" font-size="6.6" fill="#4a3fa8" stroke="#4a3fa8" stroke-width="0.1" text-anchor="end" textLength="8.3" lengthAdjust="spacingAndGlyphs">10<tspan dy="-2.9" font-size="4.22">4</tspan></text>
<text x="362.0" y="189.0" font-size="6.6" fill="#4a3fa8" stroke="#4a3fa8" stroke-width="0.1" text-anchor="end" textLength="8.3" lengthAdjust="spacingAndGlyphs">10<tspan dy="-2.9" font-size="4.22">3</tspan></text>
<text x="362.0" y="203.89999999999998" font-size="6.6" fill="#4a3fa8" stroke="#4a3fa8" stroke-width="0.1" text-anchor="end" textLength="8.3" lengthAdjust="spacingAndGlyphs">10<tspan dy="-2.9" font-size="4.22">2</tspan></text>
<text x="362.0" y="216.2" font-size="6.6" fill="#4a3fa8" stroke="#4a3fa8" stroke-width="0.1" text-anchor="end" textLength="8.3" lengthAdjust="spacingAndGlyphs">10<tspan dy="-2.9" font-size="4.22">1</tspan></text>
<text x="363.5" y="225.5" font-size="6.6" fill="#4a3fa8" stroke="#4a3fa8" stroke-width="0.1" text-anchor="start" textLength="8.3" lengthAdjust="spacingAndGlyphs">10<tspan dy="-2.9" font-size="4.22">1</tspan></text>
<text x="375.6" y="225.5" font-size="6.6" fill="#4a3fa8" stroke="#4a3fa8" stroke-width="0.1" text-anchor="start" textLength="8.3" lengthAdjust="spacingAndGlyphs">10<tspan dy="-2.9" font-size="4.22">2</tspan></text>
<text x="390.8" y="225.5" font-size="6.6" fill="#4a3fa8" stroke="#4a3fa8" stroke-width="0.1" text-anchor="start" textLength="8.3" lengthAdjust="spacingAndGlyphs">10<tspan dy="-2.9" font-size="4.22">3</tspan></text>
<text x="404.8" y="225.5" font-size="6.6" fill="#4a3fa8" stroke="#4a3fa8" stroke-width="0.1" text-anchor="start" textLength="8.3" lengthAdjust="spacingAndGlyphs">10<tspan dy="-2.9" font-size="4.22">4</tspan></text>
<text x="365.20000000000005" y="176.4" font-size="6.3" text-anchor="start" font-weight="bold" fill="#111" textLength="17.6" lengthAdjust="spacingAndGlyphs">26.00%</text>
<text x="410.5" y="176.4" font-size="6.3" text-anchor="end" font-weight="bold" fill="#111" textLength="16.5" lengthAdjust="spacingAndGlyphs">10.71%</text>
<text x="365.20000000000005" y="214.89999999999998" font-size="6.3" text-anchor="start" font-weight="bold" fill="#111" textLength="17.6" lengthAdjust="spacingAndGlyphs">53.99%</text>
<text x="410.5" y="214.89999999999998" font-size="6.3" text-anchor="end" font-weight="bold" fill="#111" textLength="14.9" lengthAdjust="spacingAndGlyphs">9.30%</text>
<line x1="208.8" y1="45.4" x2="208.8" y2="111.3" stroke="#333" stroke-width="1.5"/>
<line x1="207.3" y1="111.3" x2="238" y2="111.3" stroke="#333" stroke-width="1.5"/>
<line x1="205.8" y1="47.4" x2="208.8" y2="47.4" stroke="#222" stroke-width="0.9"/>
<text x="202.60000000000002" y="49.75" font-size="6.5" text-anchor="end" font-weight="normal" fill="#333">150</text>
<line x1="205.8" y1="68.9" x2="208.8" y2="68.9" stroke="#222" stroke-width="0.9"/>
<text x="202.60000000000002" y="71.25" font-size="6.5" text-anchor="end" font-weight="normal" fill="#333">100</text>
<line x1="205.8" y1="90.2" x2="208.8" y2="90.2" stroke="#222" stroke-width="0.9"/>
<text x="202.60000000000002" y="92.55" font-size="6.5" text-anchor="end" font-weight="normal" fill="#333">50</text>
<line x1="205.8" y1="111.3" x2="208.8" y2="111.3" stroke="#222" stroke-width="0.9"/>
<text x="202.60000000000002" y="113.64999999999999" font-size="6.5" text-anchor="end" font-weight="normal" fill="#333">0</text>
<text x="0" y="0" font-size="8.4" font-weight="bold" fill="#222" stroke="#222" stroke-width="0.35" text-anchor="middle" textLength="43.0" lengthAdjust="spacingAndGlyphs" transform="translate(186.82 78.3) rotate(-90)">% CD45RO-CCR7-</text>
<line x1="217.3" y1="111.3" x2="217.3" y2="113.8" stroke="#222" stroke-width="0.9"/>
<line x1="229.9" y1="111.3" x2="229.9" y2="113.8" stroke="#222" stroke-width="0.9"/>
<path d="M216 61.800000000000004 L216 59.6 L230.4 59.6 L230.4 61.800000000000004" fill="none" stroke="#222" stroke-width="1.0"/>
<text x="223.2" y="59.0" font-size="5.5" text-anchor="middle" font-weight="normal" fill="#333">*</text>
<circle cx="214.2" cy="69.6" r="1.3" fill="#22408e"/>
<circle cx="217" cy="68.8" r="1.3" fill="#22408e"/>
<circle cx="220.4" cy="70.4" r="1.3" fill="#22408e"/>
<circle cx="214.7" cy="72" r="1.3" fill="#22408e"/>
<circle cx="219.5" cy="72.3" r="1.3" fill="#22408e"/>
<circle cx="214.7" cy="83.5" r="1.3" fill="#22408e"/>
<circle cx="220.4" cy="83.5" r="1.3" fill="#22408e"/>
<line x1="213.10000000000002" y1="73.5" x2="221.5" y2="73.5" stroke="#22408e" stroke-width="1.1"/>
<line x1="217.3" y1="69.3" x2="217.3" y2="77.8" stroke="#22408e" stroke-width="0.7"/>
<line x1="215.20000000000002" y1="69.3" x2="219.4" y2="69.3" stroke="#22408e" stroke-width="0.7"/>
<line x1="215.20000000000002" y1="77.8" x2="219.4" y2="77.8" stroke="#22408e" stroke-width="0.7"/>
<rect x="226.00" y="79.10" width="2.6" height="2.6" fill="#b0102c"/>
<rect x="231.70" y="77.50" width="2.6" height="2.6" fill="#b0102c"/>
<rect x="226.00" y="84.50" width="2.6" height="2.6" fill="#b0102c"/>
<rect x="231.70" y="84.20" width="2.6" height="2.6" fill="#b0102c"/>
<rect x="225.20" y="88.30" width="2.6" height="2.6" fill="#b0102c"/>
<rect x="228.30" y="88.00" width="2.6" height="2.6" fill="#b0102c"/>
<rect x="231.70" y="89.10" width="2.6" height="2.6" fill="#b0102c"/>
<rect x="225.20" y="90.70" width="2.6" height="2.6" fill="#b0102c"/>
<rect x="228.30" y="91.00" width="2.6" height="2.6" fill="#b0102c"/>
<rect x="229.10" y="94.50" width="2.6" height="2.6" fill="#b0102c"/>
<rect x="225.20" y="98.60" width="2.6" height="2.6" fill="#b0102c"/>
<rect x="229.10" y="97.50" width="2.6" height="2.6" fill="#b0102c"/>
<rect x="231.70" y="98.30" width="2.6" height="2.6" fill="#b0102c"/>
<rect x="198.5" y="118" width="4.2" height="4" fill="#22408e"/>
<text x="206" y="122.6" font-size="6.0" text-anchor="start" font-weight="normal" fill="#333" textLength="17.29" lengthAdjust="spacingAndGlyphs" stroke="#333" stroke-width="0.12">Healthy</text>
<text x="206" y="127.6" font-size="6.0" text-anchor="start" font-weight="normal" fill="#333" textLength="15.59" lengthAdjust="spacingAndGlyphs" stroke="#333" stroke-width="0.12">donors</text>
<rect x="231.9" y="118" width="4.2" height="4" fill="#b0102c"/>
<text x="238.8" y="122.6" font-size="6.0" text-anchor="start" font-weight="normal" fill="#333" textLength="9.36" lengthAdjust="spacingAndGlyphs" stroke="#333" stroke-width="0.12">CLL</text>
<text x="238.8" y="127.6" font-size="6.0" text-anchor="start" font-weight="normal" fill="#333" textLength="7.37" lengthAdjust="spacingAndGlyphs" stroke="#333" stroke-width="0.12">Pts</text>
<line x1="454.6" y1="32.7" x2="454.6" y2="113.8" stroke="#333" stroke-width="1.5"/>
<line x1="453.1" y1="113.8" x2="497.5" y2="113.8" stroke="#333" stroke-width="1.5"/>
<line x1="451.6" y1="34.6" x2="454.6" y2="34.6" stroke="#222" stroke-width="0.9"/>
<text x="448.40000000000003" y="36.95" font-size="6.5" text-anchor="end" font-weight="normal" fill="#333">80</text>
<line x1="451.6" y1="54.8" x2="454.6" y2="54.8" stroke="#222" stroke-width="0.9"/>
<text x="448.40000000000003" y="57.15" font-size="6.5" text-anchor="end" font-weight="normal" fill="#333">60</text>
<line x1="451.6" y1="74.8" x2="454.6" y2="74.8" stroke="#222" stroke-width="0.9"/>
<text x="448.40000000000003" y="77.14999999999999" font-size="6.5" text-anchor="end" font-weight="normal" fill="#333">40</text>
<line x1="451.6" y1="94.2" x2="454.6" y2="94.2" stroke="#222" stroke-width="0.9"/>
<text x="448.40000000000003" y="96.55" font-size="6.5" text-anchor="end" font-weight="normal" fill="#333">20</text>
<line x1="451.6" y1="113.8" x2="454.6" y2="113.8" stroke="#222" stroke-width="0.9"/>
<text x="448.40000000000003" y="116.14999999999999" font-size="6.5" text-anchor="end" font-weight="normal" fill="#333">0</text>
<text x="0" y="0" font-size="7.2" font-weight="normal" fill="#222" stroke="#222" stroke-width="0.3" text-anchor="middle" textLength="59.1" lengthAdjust="spacingAndGlyphs" transform="translate(435.79 72.85) rotate(-90)">% CD4+CD45RO-CCR7-</text>
<line x1="468.1" y1="113.8" x2="468.1" y2="116.3" stroke="#222" stroke-width="0.9"/>
<line x1="486.9" y1="113.8" x2="486.9" y2="116.3" stroke="#222" stroke-width="0.9"/>
<path d="M468.8 37.0 L468.8 34.8 L486.7 34.8 L486.7 37.0" fill="none" stroke="#222" stroke-width="1.0"/>
<text x="477.75" y="34.199999999999996" font-size="5.5" text-anchor="middle" font-weight="normal" fill="#333">*</text>
<circle cx="464.6" cy="52.1" r="1.3" fill="#22408e"/>
<circle cx="472.3" cy="52.1" r="1.3" fill="#22408e"/>
<circle cx="464.6" cy="55" r="1.3" fill="#22408e"/>
<circle cx="472.3" cy="55" r="1.3" fill="#22408e"/>
<circle cx="464.6" cy="66.5" r="1.3" fill="#22408e"/>
<circle cx="472.3" cy="66.5" r="1.3" fill="#22408e"/>
<circle cx="468.5" cy="71.3" r="1.3" fill="#22408e"/>
<circle cx="464.6" cy="75.6" r="1.3" fill="#22408e"/>
<circle cx="472.3" cy="75.6" r="1.3" fill="#22408e"/>
<circle cx="468.5" cy="61.5" r="1.3" fill="#22408e"/>
<line x1="463.7" y1="63.1" x2="473.3" y2="63.1" stroke="#22408e" stroke-width="1.1"/>
<line x1="468.5" y1="60.4" x2="468.5" y2="65.6" stroke="#22408e" stroke-width="0.7"/>
<line x1="466.1" y1="60.4" x2="470.9" y2="60.4" stroke="#22408e" stroke-width="0.7"/>
<line x1="466.1" y1="65.6" x2="470.9" y2="65.6" stroke="#22408e" stroke-width="0.7"/>
<rect x="482.20" y="40.60" width="2.6" height="2.6" fill="#b0102c"/>
<rect x="489.30" y="40.60" width="2.6" height="2.6" fill="#b0102c"/>
<rect x="482.20" y="47.00" width="2.6" height="2.6" fill="#b0102c"/>
<rect x="485.70" y="46.20" width="2.6" height="2.6" fill="#b0102c"/>
<rect x="489.30" y="47.00" width="2.6" height="2.6" fill="#b0102c"/>
<rect x="482.20" y="50.70" width="2.6" height="2.6" fill="#b0102c"/>
<rect x="485.70" y="49.70" width="2.6" height="2.6" fill="#b0102c"/>
<rect x="489.30" y="50.70" width="2.6" height="2.6" fill="#b0102c"/>
<rect x="482.20" y="59.50" width="2.6" height="2.6" fill="#b0102c"/>
<rect x="489.30" y="59.50" width="2.6" height="2.6" fill="#b0102c"/>
<line x1="482.2" y1="49.5" x2="491.8" y2="49.5" stroke="#b0102c" stroke-width="1.1"/>
<line x1="487" y1="47.5" x2="487" y2="51.8" stroke="#b0102c" stroke-width="0.7"/>
<line x1="484.6" y1="47.5" x2="489.4" y2="47.5" stroke="#b0102c" stroke-width="0.7"/>
<line x1="484.6" y1="51.8" x2="489.4" y2="51.8" stroke="#b0102c" stroke-width="0.7"/>
<rect x="461.9" y="120.9" width="4.2" height="4" fill="#22408e"/>
<text x="469" y="124.80000000000001" font-size="6.0" text-anchor="start" font-weight="normal" fill="#333" textLength="5.38" lengthAdjust="spacingAndGlyphs" stroke="#333" stroke-width="0.12">-D</text>
<rect x="479.8" y="120.9" width="4.2" height="4" fill="#b0102c"/>
<text x="487.5" y="124.80000000000001" font-size="6.0" text-anchor="start" font-weight="normal" fill="#333" textLength="6.66" lengthAdjust="spacingAndGlyphs" stroke="#333" stroke-width="0.12">+D</text>
<line x1="199.0" y1="169.2" x2="199.0" y2="224.6" stroke="#333" stroke-width="1.5"/>
<line x1="197.5" y1="224.6" x2="250.4" y2="224.6" stroke="#333" stroke-width="1.5"/>
<line x1="196.0" y1="171.7" x2="199.0" y2="171.7" stroke="#222" stroke-width="0.9"/>
<text x="192.8" y="174.04999999999998" font-size="6.5" text-anchor="end" font-weight="normal" fill="#333">100</text>
<line x1="196.0" y1="182.3" x2="199.0" y2="182.3" stroke="#222" stroke-width="0.9"/>
<text x="192.8" y="184.65" font-size="6.5" text-anchor="end" font-weight="normal" fill="#333">80</text>
<line x1="196.0" y1="192.9" x2="199.0" y2="192.9" stroke="#222" stroke-width="0.9"/>
<text x="192.8" y="195.25" font-size="6.5" text-anchor="end" font-weight="normal" fill="#333">60</text>
<line x1="196.0" y1="203.5" x2="199.0" y2="203.5" stroke="#222" stroke-width="0.9"/>
<text x="192.8" y="205.85" font-size="6.5" text-anchor="end" font-weight="normal" fill="#333">40</text>
<line x1="196.0" y1="214.1" x2="199.0" y2="214.1" stroke="#222" stroke-width="0.9"/>
<text x="192.8" y="216.45" font-size="6.5" text-anchor="end" font-weight="normal" fill="#333">20</text>
<line x1="196.0" y1="224.6" x2="199.0" y2="224.6" stroke="#222" stroke-width="0.9"/>
<text x="192.8" y="226.95" font-size="6.5" text-anchor="end" font-weight="normal" fill="#333">0</text>
<text x="0" y="0" font-size="8.0" font-weight="normal" fill="#222" stroke="#222" stroke-width="0.3" text-anchor="middle" textLength="19.1" lengthAdjust="spacingAndGlyphs" transform="translate(176.78 196.95) rotate(-90)">% cells</text>
<line x1="207.8" y1="224.6" x2="207.8" y2="227.1" stroke="#222" stroke-width="0.9"/>
<line x1="225.0" y1="224.6" x2="225.0" y2="227.1" stroke="#222" stroke-width="0.9"/>
<line x1="242.2" y1="224.6" x2="242.2" y2="227.1" stroke="#222" stroke-width="0.9"/>
<path d="M237.3 203.7 L237.3 201.5 L247.0 201.5 L247.0 203.7" fill="none" stroke="#222" stroke-width="1.0"/>
<text x="242.15" y="200.9" font-size="5.5" text-anchor="middle" font-weight="normal" fill="#333">*</text>
<circle cx="202.7" cy="211" r="1.3" fill="#22408e"/>
<circle cx="205.5" cy="209.6" r="1.3" fill="#22408e"/>
<circle cx="206.5" cy="212.5" r="1.3" fill="#22408e"/>
<circle cx="202.7" cy="215" r="1.3" fill="#22408e"/>
<circle cx="206" cy="215.5" r="1.3" fill="#22408e"/>
<circle cx="204.5" cy="217.5" r="1.3" fill="#22408e"/>
<circle cx="202.7" cy="220.5" r="1.3" fill="#22408e"/>
<circle cx="206.5" cy="221" r="1.3" fill="#22408e"/>
<rect x="209.10" y="210.20" width="2.6" height="2.6" fill="#b0102c"/>
<rect x="212.90" y="209.70" width="2.6" height="2.6" fill="#b0102c"/>
<rect x="209.10" y="213.20" width="2.6" height="2.6" fill="#b0102c"/>
<rect x="211.70" y="212.70" width="2.6" height="2.6" fill="#b0102c"/>
<rect x="212.90" y="215.20" width="2.6" height="2.6" fill="#b0102c"/>
<rect x="209.10" y="216.70" width="2.6" height="2.6" fill="#b0102c"/>
<rect x="211.20" y="218.20" width="2.6" height="2.6" fill="#b0102c"/>
<rect x="212.90" y="218.70" width="2.6" height="2.6" fill="#b0102c"/>
<rect x="211.00" y="211.20" width="2.6" height="2.6" fill="#b0102c"/>
<rect x="209.70" y="215.20" width="2.6" height="2.6" fill="#b0102c"/>
<rect x="212.20" y="216.50" width="2.6" height="2.6" fill="#b0102c"/>
<line x1="201.79999999999998" y1="215.0" x2="207.4" y2="215.0" stroke="#22408e" stroke-width="1.1"/>
<line x1="204.6" y1="212.0" x2="204.6" y2="218.0" stroke="#22408e" stroke-width="0.7"/>
<line x1="203.2" y1="212.0" x2="206.0" y2="212.0" stroke="#22408e" stroke-width="0.7"/>
<line x1="203.2" y1="218.0" x2="206.0" y2="218.0" stroke="#22408e" stroke-width="0.7"/>
<line x1="209.5" y1="215.5" x2="215.10000000000002" y2="215.5" stroke="#b0102c" stroke-width="1.1"/>
<line x1="212.3" y1="213.0" x2="212.3" y2="218.0" stroke="#b0102c" stroke-width="0.7"/>
<line x1="210.9" y1="213.0" x2="213.70000000000002" y2="213.0" stroke="#b0102c" stroke-width="0.7"/>
<line x1="210.9" y1="218.0" x2="213.70000000000002" y2="218.0" stroke="#b0102c" stroke-width="0.7"/>
<circle cx="219.5" cy="184.5" r="1.3" fill="#22408e"/>
<circle cx="222.5" cy="183.5" r="1.3" fill="#22408e"/>
<circle cx="221" cy="186.5" r="1.3" fill="#22408e"/>
<circle cx="219.5" cy="188.5" r="1.3" fill="#22408e"/>
<circle cx="223" cy="189" r="1.3" fill="#22408e"/>
<circle cx="221.5" cy="191" r="1.3" fill="#22408e"/>
<circle cx="222.5" cy="181.5" r="1.3" fill="#22408e"/>
<rect x="226.20" y="186.70" width="2.6" height="2.6" fill="#b0102c"/>
<rect x="229.20" y="187.20" width="2.6" height="2.6" fill="#b0102c"/>
<rect x="226.70" y="189.70" width="2.6" height="2.6" fill="#b0102c"/>
<rect x="229.70" y="190.20" width="2.6" height="2.6" fill="#b0102c"/>
<rect x="227.70" y="192.20" width="2.6" height="2.6" fill="#b0102c"/>
<rect x="226.20" y="193.70" width="2.6" height="2.6" fill="#b0102c"/>
<rect x="229.70" y="194.20" width="2.6" height="2.6" fill="#b0102c"/>
<rect x="227.90" y="188.20" width="2.6" height="2.6" fill="#b0102c"/>
<rect x="228.20" y="195.20" width="2.6" height="2.6" fill="#b0102c"/>
<rect x="227.20" y="185.50" width="2.6" height="2.6" fill="#b0102c"/>
<line x1="218.39999999999998" y1="186.5" x2="224.0" y2="186.5" stroke="#22408e" stroke-width="1.1"/>
<line x1="221.2" y1="184" x2="221.2" y2="189" stroke="#22408e" stroke-width="0.7"/>
<line x1="219.79999999999998" y1="184" x2="222.6" y2="184" stroke="#22408e" stroke-width="0.7"/>
<line x1="219.79999999999998" y1="189" x2="222.6" y2="189" stroke="#22408e" stroke-width="0.7"/>
<line x1="226.39999999999998" y1="191.5" x2="232.0" y2="191.5" stroke="#b0102c" stroke-width="1.1"/>
<line x1="229.2" y1="189.5" x2="229.2" y2="193.5" stroke="#b0102c" stroke-width="0.7"/>
<line x1="227.79999999999998" y1="189.5" x2="230.6" y2="189.5" stroke="#b0102c" stroke-width="0.7"/>
<line x1="227.79999999999998" y1="193.5" x2="230.6" y2="193.5" stroke="#b0102c" stroke-width="0.7"/>
<circle cx="236.5" cy="223.2" r="1.2" fill="#22408e"/>
<circle cx="239" cy="222.8" r="1.2" fill="#22408e"/>
<circle cx="237.5" cy="224" r="1.2" fill="#22408e"/>
<circle cx="240" cy="223.5" r="1.2" fill="#22408e"/>
<circle cx="238.3" cy="223.0" r="1.2" fill="#22408e"/>
<rect x="243.20" y="207.70" width="2.6" height="2.6" fill="#b0102c"/>
<rect x="246.20" y="208.20" width="2.6" height="2.6" fill="#b0102c"/>
<rect x="243.70" y="211.20" width="2.6" height="2.6" fill="#b0102c"/>
<rect x="246.70" y="211.70" width="2.6" height="2.6" fill="#b0102c"/>
<rect x="243.20" y="214.70" width="2.6" height="2.6" fill="#b0102c"/>
<rect x="245.70" y="215.20" width="2.6" height="2.6" fill="#b0102c"/>
<rect x="244.20" y="217.20" width="2.6" height="2.6" fill="#b0102c"/>
<rect x="244.90" y="209.70" width="2.6" height="2.6" fill="#b0102c"/>
<rect x="244.70" y="213.20" width="2.6" height="2.6" fill="#b0102c"/>
<line x1="243.39999999999998" y1="213.5" x2="249.0" y2="213.5" stroke="#b0102c" stroke-width="1.1"/>
<line x1="246.2" y1="211.5" x2="246.2" y2="215.5" stroke="#b0102c" stroke-width="0.7"/>
<line x1="244.79999999999998" y1="211.5" x2="247.6" y2="211.5" stroke="#b0102c" stroke-width="0.7"/>
<line x1="244.79999999999998" y1="215.5" x2="247.6" y2="215.5" stroke="#b0102c" stroke-width="0.7"/>
<text x="203.3" y="236.6" font-size="7.0" text-anchor="start" font-weight="normal" fill="#222" textLength="9.199999999999989" lengthAdjust="spacingAndGlyphs">Th1</text>
<text x="220.5" y="236.6" font-size="7.0" text-anchor="start" font-weight="normal" fill="#222" textLength="9.5" lengthAdjust="spacingAndGlyphs">Th2</text>
<text x="235.4" y="236.6" font-size="7.0" text-anchor="start" font-weight="normal" fill="#222" textLength="13.199999999999989" lengthAdjust="spacingAndGlyphs">Th17</text>
<rect x="200" y="242.3" width="4.2" height="4" fill="#22408e"/>
<text x="207.2" y="246.9" font-size="6.0" text-anchor="start" font-weight="normal" fill="#333" textLength="17.29" lengthAdjust="spacingAndGlyphs" stroke="#333" stroke-width="0.12">Healthy</text>
<text x="207.2" y="251.9" font-size="6.0" text-anchor="start" font-weight="normal" fill="#333" textLength="15.59" lengthAdjust="spacingAndGlyphs" stroke="#333" stroke-width="0.12">donors</text>
<rect x="233.2" y="242.3" width="4.2" height="4" fill="#b0102c"/>
<text x="240.8" y="246.9" font-size="6.0" text-anchor="start" font-weight="normal" fill="#333" textLength="9.36" lengthAdjust="spacingAndGlyphs" stroke="#333" stroke-width="0.12">CLL</text>
<text x="240.8" y="251.9" font-size="6.0" text-anchor="start" font-weight="normal" fill="#333" textLength="7.37" lengthAdjust="spacingAndGlyphs" stroke="#333" stroke-width="0.12">Pts</text>
<line x1="449.3" y1="163.5" x2="449.3" y2="222.6" stroke="#333" stroke-width="1.5"/>
<line x1="447.8" y1="222.6" x2="512.3" y2="222.6" stroke="#333" stroke-width="1.5"/>
<line x1="446.3" y1="165.8" x2="449.3" y2="165.8" stroke="#222" stroke-width="0.9"/>
<text x="443.1" y="168.15" font-size="6.5" text-anchor="end" font-weight="normal" fill="#333">100</text>
<line x1="446.3" y1="177.1" x2="449.3" y2="177.1" stroke="#222" stroke-width="0.9"/>
<text x="443.1" y="179.45" font-size="6.5" text-anchor="end" font-weight="normal" fill="#333">80</text>
<line x1="446.3" y1="188.5" x2="449.3" y2="188.5" stroke="#222" stroke-width="0.9"/>
<text x="443.1" y="190.85" font-size="6.5" text-anchor="end" font-weight="normal" fill="#333">60</text>
<line x1="446.3" y1="199.8" x2="449.3" y2="199.8" stroke="#222" stroke-width="0.9"/>
<text x="443.1" y="202.15" font-size="6.5" text-anchor="end" font-weight="normal" fill="#333">40</text>
<line x1="446.3" y1="211.2" x2="449.3" y2="211.2" stroke="#222" stroke-width="0.9"/>
<text x="443.1" y="213.54999999999998" font-size="6.5" text-anchor="end" font-weight="normal" fill="#333">20</text>
<line x1="446.3" y1="222.6" x2="449.3" y2="222.6" stroke="#222" stroke-width="0.9"/>
<text x="443.1" y="224.95" font-size="6.5" text-anchor="end" font-weight="normal" fill="#333">0</text>
<text x="0" y="0" font-size="8.0" font-weight="normal" fill="#222" stroke="#222" stroke-width="0.3" text-anchor="middle" textLength="20.2" lengthAdjust="spacingAndGlyphs" transform="translate(426.38 191.7) rotate(-90)">% cells</text>
<line x1="461.5" y1="222.6" x2="461.5" y2="225.1" stroke="#222" stroke-width="0.9"/>
<line x1="481.5" y1="222.6" x2="481.5" y2="225.1" stroke="#222" stroke-width="0.9"/>
<line x1="499.7" y1="222.6" x2="499.7" y2="225.1" stroke="#222" stroke-width="0.9"/>
<path d="M494.2 199.1 L494.2 196.9 L506.5 196.9 L506.5 199.1" fill="none" stroke="#222" stroke-width="1.0"/>
<text x="500.35" y="196.3" font-size="5.5" text-anchor="middle" font-weight="normal" fill="#333">*</text>
<circle cx="455.4" cy="207.7" r="1.3" fill="#22408e"/>
<circle cx="458.2" cy="205.4" r="1.3" fill="#22408e"/>
<circle cx="460.8" cy="206.9" r="1.3" fill="#22408e"/>
<circle cx="455.4" cy="211.5" r="1.3" fill="#22408e"/>
<circle cx="458.2" cy="211.5" r="1.3" fill="#22408e"/>
<circle cx="460.8" cy="211.5" r="1.3" fill="#22408e"/>
<circle cx="455.4" cy="214.3" r="1.3" fill="#22408e"/>
<circle cx="455.4" cy="218" r="1.3" fill="#22408e"/>
<circle cx="460.8" cy="217.4" r="1.3" fill="#22408e"/>
<rect x="462.50" y="207.50" width="2.6" height="2.6" fill="#b0102c"/>
<rect x="468.20" y="206.90" width="2.6" height="2.6" fill="#b0102c"/>
<rect x="462.50" y="212.20" width="2.6" height="2.6" fill="#b0102c"/>
<rect x="468.20" y="212.20" width="2.6" height="2.6" fill="#b0102c"/>
<rect x="465.20" y="211.50" width="2.6" height="2.6" fill="#b0102c"/>
<rect x="462.50" y="217.60" width="2.6" height="2.6" fill="#b0102c"/>
<rect x="468.20" y="216.40" width="2.6" height="2.6" fill="#b0102c"/>
<rect x="465.20" y="215.70" width="2.6" height="2.6" fill="#b0102c"/>
<rect x="465.20" y="214.50" width="2.6" height="2.6" fill="#b0102c"/>
<line x1="455.0" y1="211.5" x2="461.0" y2="211.5" stroke="#22408e" stroke-width="1.1"/>
<line x1="458.0" y1="209.5" x2="458.0" y2="213.5" stroke="#22408e" stroke-width="0.7"/>
<line x1="456.5" y1="209.5" x2="459.5" y2="209.5" stroke="#22408e" stroke-width="0.7"/>
<line x1="456.5" y1="213.5" x2="459.5" y2="213.5" stroke="#22408e" stroke-width="0.7"/>
<line x1="463.5" y1="213.5" x2="469.5" y2="213.5" stroke="#b0102c" stroke-width="1.1"/>
<line x1="466.5" y1="211.5" x2="466.5" y2="215.5" stroke="#b0102c" stroke-width="0.7"/>
<line x1="465.0" y1="211.5" x2="468.0" y2="211.5" stroke="#b0102c" stroke-width="0.7"/>
<line x1="465.0" y1="215.5" x2="468.0" y2="215.5" stroke="#b0102c" stroke-width="0.7"/>
<circle cx="474.3" cy="178.5" r="1.3" fill="#22408e"/>
<circle cx="480.1" cy="176.4" r="1.3" fill="#22408e"/>
<circle cx="474.3" cy="182.5" r="1.3" fill="#22408e"/>
<circle cx="477" cy="181.8" r="1.3" fill="#22408e"/>
<circle cx="480.1" cy="182.5" r="1.3" fill="#22408e"/>
<circle cx="474.3" cy="186.5" r="1.3" fill="#22408e"/>
<circle cx="477" cy="184.5" r="1.3" fill="#22408e"/>
<circle cx="480.1" cy="185.2" r="1.3" fill="#22408e"/>
<rect x="481.80" y="173.80" width="2.6" height="2.6" fill="#b0102c"/>
<rect x="487.40" y="175.50" width="2.6" height="2.6" fill="#b0102c"/>
<rect x="481.80" y="179.20" width="2.6" height="2.6" fill="#b0102c"/>
<rect x="484.50" y="177.80" width="2.6" height="2.6" fill="#b0102c"/>
<rect x="487.40" y="179.20" width="2.6" height="2.6" fill="#b0102c"/>
<rect x="484.50" y="181.20" width="2.6" height="2.6" fill="#b0102c"/>
<rect x="481.80" y="183.90" width="2.6" height="2.6" fill="#b0102c"/>
<rect x="487.40" y="182.80" width="2.6" height="2.6" fill="#b0102c"/>
<line x1="474.2" y1="182.0" x2="480.2" y2="182.0" stroke="#22408e" stroke-width="1.1"/>
<line x1="477.2" y1="180.2" x2="477.2" y2="183.8" stroke="#22408e" stroke-width="0.7"/>
<line x1="475.7" y1="180.2" x2="478.7" y2="180.2" stroke="#22408e" stroke-width="0.7"/>
<line x1="475.7" y1="183.8" x2="478.7" y2="183.8" stroke="#22408e" stroke-width="0.7"/>
<line x1="482.9" y1="180.2" x2="488.9" y2="180.2" stroke="#b0102c" stroke-width="1.1"/>
<line x1="485.9" y1="178.5" x2="485.9" y2="182.0" stroke="#b0102c" stroke-width="0.7"/>
<line x1="484.4" y1="178.5" x2="487.4" y2="178.5" stroke="#b0102c" stroke-width="0.7"/>
<line x1="484.4" y1="182.0" x2="487.4" y2="182.0" stroke="#b0102c" stroke-width="0.7"/>
<circle cx="494" cy="211" r="1.3" fill="#22408e"/>
<circle cx="496.5" cy="212" r="1.3" fill="#22408e"/>
<circle cx="499" cy="211.5" r="1.3" fill="#22408e"/>
<circle cx="495" cy="214" r="1.3" fill="#22408e"/>
<circle cx="497.5" cy="215.5" r="1.3" fill="#22408e"/>
<circle cx="494.5" cy="216.5" r="1.3" fill="#22408e"/>
<circle cx="498" cy="213.5" r="1.3" fill="#22408e"/>
<rect x="500.70" y="204.70" width="2.6" height="2.6" fill="#b0102c"/>
<rect x="503.70" y="205.20" width="2.6" height="2.6" fill="#b0102c"/>
<rect x="506.70" y="205.70" width="2.6" height="2.6" fill="#b0102c"/>
<rect x="501.20" y="207.70" width="2.6" height="2.6" fill="#b0102c"/>
<rect x="504.20" y="208.20" width="2.6" height="2.6" fill="#b0102c"/>
<rect x="506.70" y="208.70" width="2.6" height="2.6" fill="#b0102c"/>
<rect x="502.20" y="209.70" width="2.6" height="2.6" fill="#b0102c"/>
<rect x="505.20" y="206.70" width="2.6" height="2.6" fill="#b0102c"/>
<line x1="493.5" y1="213.5" x2="499.5" y2="213.5" stroke="#22408e" stroke-width="1.1"/>
<line x1="496.5" y1="212" x2="496.5" y2="215" stroke="#22408e" stroke-width="0.7"/>
<line x1="495.0" y1="212" x2="498.0" y2="212" stroke="#22408e" stroke-width="0.7"/>
<line x1="495.0" y1="215" x2="498.0" y2="215" stroke="#22408e" stroke-width="0.7"/>
<line x1="502.2" y1="208.3" x2="508.2" y2="208.3" stroke="#b0102c" stroke-width="1.1"/>
<line x1="505.2" y1="207" x2="505.2" y2="209.8" stroke="#b0102c" stroke-width="0.7"/>
<line x1="503.7" y1="207" x2="506.7" y2="207" stroke="#b0102c" stroke-width="0.7"/>
<line x1="503.7" y1="209.8" x2="506.7" y2="209.8" stroke="#b0102c" stroke-width="0.7"/>
<text x="457.0" y="234.2" font-size="7.0" text-anchor="start" font-weight="normal" fill="#222" textLength="9.699999999999989" lengthAdjust="spacingAndGlyphs">Th1</text>
<text x="476.0" y="234.2" font-size="7.0" text-anchor="start" font-weight="normal" fill="#222" textLength="10.199999999999989" lengthAdjust="spacingAndGlyphs">Th2</text>
<text x="494.1" y="234.2" font-size="7.0" text-anchor="start" font-weight="normal" fill="#222" textLength="13.0" lengthAdjust="spacingAndGlyphs">Th17</text>
<rect x="463.4" y="239.5" width="4.2" height="4" fill="#22408e"/>
<text x="470.6" y="243.4" font-size="6.0" text-anchor="start" font-weight="normal" fill="#333" textLength="5.38" lengthAdjust="spacingAndGlyphs" stroke="#333" stroke-width="0.12">-D</text>
<rect x="484.7" y="239.5" width="4.2" height="4" fill="#b0102c"/>
<text x="492.7" y="243.4" font-size="6.0" text-anchor="start" font-weight="normal" fill="#333" textLength="6.66" lengthAdjust="spacingAndGlyphs" stroke="#333" stroke-width="0.12">+D</text>
<rect x="0.5" y="0.5" width="519" height="259" fill="none" stroke="#000" stroke-width="1"/>
</svg></body></html>
